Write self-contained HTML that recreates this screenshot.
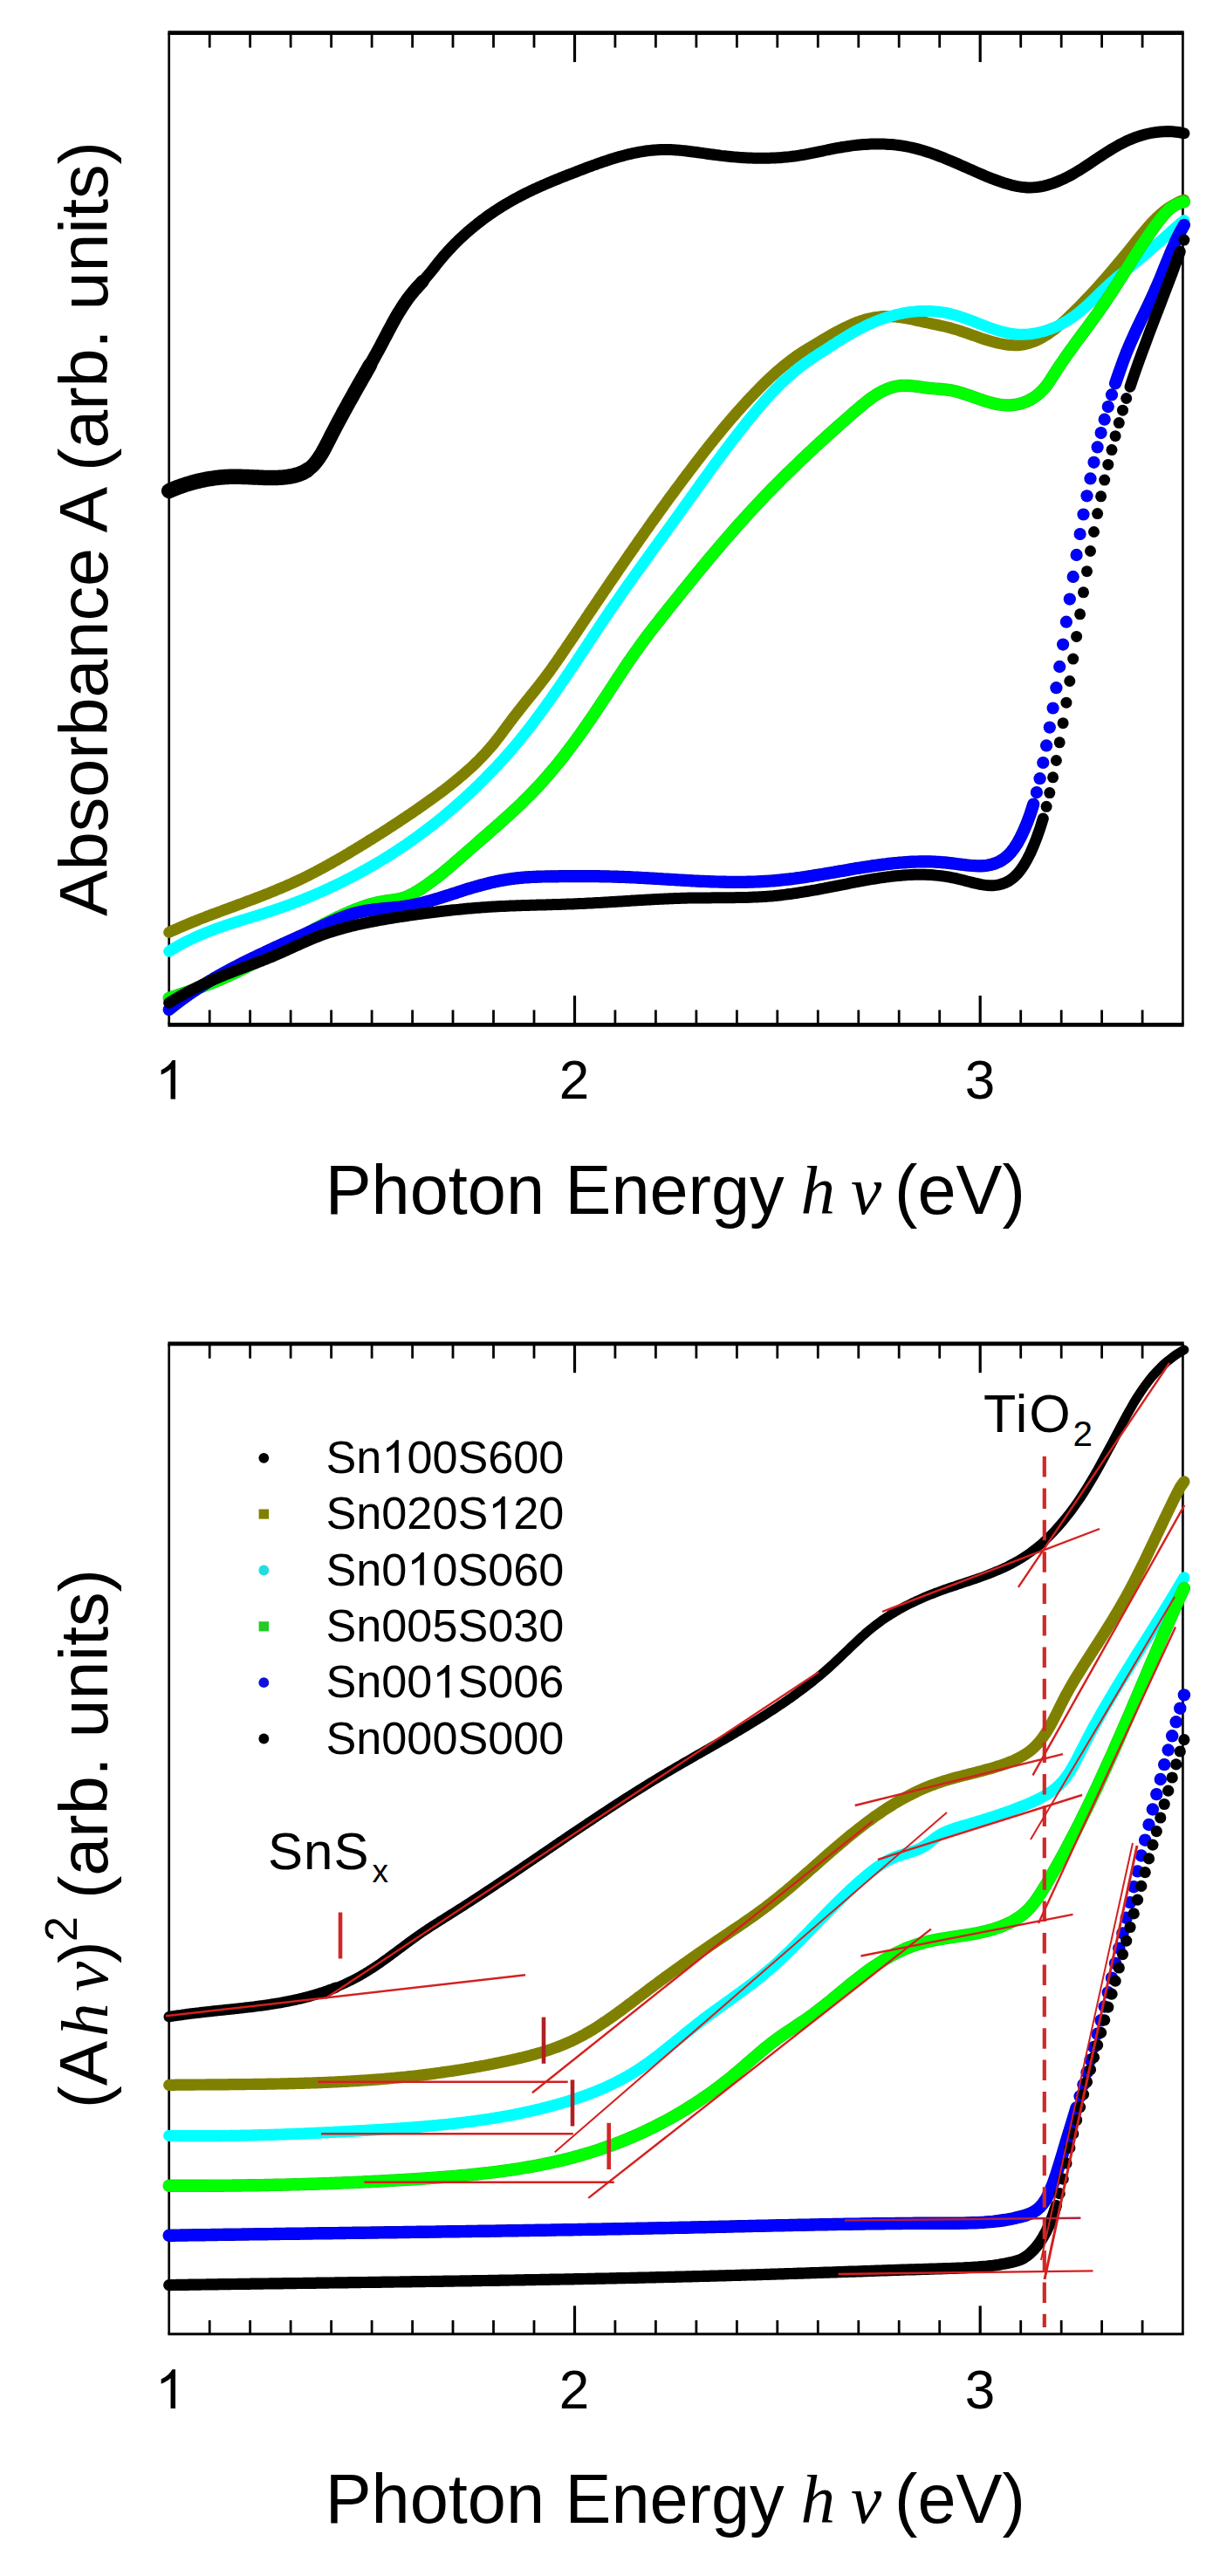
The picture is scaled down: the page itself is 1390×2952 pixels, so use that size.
<!DOCTYPE html>
<html><head><meta charset="utf-8"><style>
html,body{margin:0;padding:0;background:#fff;}
body{width:1390px;height:2952px;overflow:hidden;}
svg{display:block;}
text{font-family:"Liberation Sans",sans-serif;fill:#000;}
.it{font-family:"Liberation Serif",serif;font-style:italic;}
</style></head><body>
<svg width="1390" height="2952" viewBox="0 0 1390 2952" xmlns="http://www.w3.org/2000/svg">
<rect width="1390" height="2952" fill="#fff"/>
<line x1="192.39999999999998" y1="37.7" x2="1356.7" y2="37.7" stroke="#000" stroke-width="4.8"/>
<line x1="192.39999999999998" y1="1174.3" x2="1356.7" y2="1174.3" stroke="#000" stroke-width="4.8"/>
<line x1="193.7" y1="37.7" x2="193.7" y2="1174.3" stroke="#000" stroke-width="2.7"/>
<line x1="1355.4" y1="37.7" x2="1355.4" y2="1174.3" stroke="#000" stroke-width="2.7"/>
<line x1="240.2" y1="37.7" x2="240.2" y2="54.6" stroke="#000" stroke-width="2.8"/>
<line x1="240.2" y1="1174.3" x2="240.2" y2="1157.4" stroke="#000" stroke-width="2.8"/>
<line x1="286.6" y1="37.7" x2="286.6" y2="54.6" stroke="#000" stroke-width="2.8"/>
<line x1="286.6" y1="1174.3" x2="286.6" y2="1157.4" stroke="#000" stroke-width="2.8"/>
<line x1="333.1" y1="37.7" x2="333.1" y2="54.6" stroke="#000" stroke-width="2.8"/>
<line x1="333.1" y1="1174.3" x2="333.1" y2="1157.4" stroke="#000" stroke-width="2.8"/>
<line x1="379.6" y1="37.7" x2="379.6" y2="54.6" stroke="#000" stroke-width="2.8"/>
<line x1="379.6" y1="1174.3" x2="379.6" y2="1157.4" stroke="#000" stroke-width="2.8"/>
<line x1="426.1" y1="37.7" x2="426.1" y2="54.6" stroke="#000" stroke-width="2.8"/>
<line x1="426.1" y1="1174.3" x2="426.1" y2="1157.4" stroke="#000" stroke-width="2.8"/>
<line x1="472.6" y1="37.7" x2="472.6" y2="54.6" stroke="#000" stroke-width="2.8"/>
<line x1="472.6" y1="1174.3" x2="472.6" y2="1157.4" stroke="#000" stroke-width="2.8"/>
<line x1="519.0" y1="37.7" x2="519.0" y2="54.6" stroke="#000" stroke-width="2.8"/>
<line x1="519.0" y1="1174.3" x2="519.0" y2="1157.4" stroke="#000" stroke-width="2.8"/>
<line x1="565.5" y1="37.7" x2="565.5" y2="54.6" stroke="#000" stroke-width="2.8"/>
<line x1="565.5" y1="1174.3" x2="565.5" y2="1157.4" stroke="#000" stroke-width="2.8"/>
<line x1="612.0" y1="37.7" x2="612.0" y2="54.6" stroke="#000" stroke-width="2.8"/>
<line x1="612.0" y1="1174.3" x2="612.0" y2="1157.4" stroke="#000" stroke-width="2.8"/>
<line x1="658.5" y1="37.7" x2="658.5" y2="71.1" stroke="#000" stroke-width="3.2"/>
<line x1="658.5" y1="1174.3" x2="658.5" y2="1140.9" stroke="#000" stroke-width="3.2"/>
<line x1="704.9" y1="37.7" x2="704.9" y2="54.6" stroke="#000" stroke-width="2.8"/>
<line x1="704.9" y1="1174.3" x2="704.9" y2="1157.4" stroke="#000" stroke-width="2.8"/>
<line x1="751.4" y1="37.7" x2="751.4" y2="54.6" stroke="#000" stroke-width="2.8"/>
<line x1="751.4" y1="1174.3" x2="751.4" y2="1157.4" stroke="#000" stroke-width="2.8"/>
<line x1="797.9" y1="37.7" x2="797.9" y2="54.6" stroke="#000" stroke-width="2.8"/>
<line x1="797.9" y1="1174.3" x2="797.9" y2="1157.4" stroke="#000" stroke-width="2.8"/>
<line x1="844.4" y1="37.7" x2="844.4" y2="54.6" stroke="#000" stroke-width="2.8"/>
<line x1="844.4" y1="1174.3" x2="844.4" y2="1157.4" stroke="#000" stroke-width="2.8"/>
<line x1="890.8" y1="37.7" x2="890.8" y2="54.6" stroke="#000" stroke-width="2.8"/>
<line x1="890.8" y1="1174.3" x2="890.8" y2="1157.4" stroke="#000" stroke-width="2.8"/>
<line x1="937.3" y1="37.7" x2="937.3" y2="54.6" stroke="#000" stroke-width="2.8"/>
<line x1="937.3" y1="1174.3" x2="937.3" y2="1157.4" stroke="#000" stroke-width="2.8"/>
<line x1="983.8" y1="37.7" x2="983.8" y2="54.6" stroke="#000" stroke-width="2.8"/>
<line x1="983.8" y1="1174.3" x2="983.8" y2="1157.4" stroke="#000" stroke-width="2.8"/>
<line x1="1030.2" y1="37.7" x2="1030.2" y2="54.6" stroke="#000" stroke-width="2.8"/>
<line x1="1030.2" y1="1174.3" x2="1030.2" y2="1157.4" stroke="#000" stroke-width="2.8"/>
<line x1="1076.7" y1="37.7" x2="1076.7" y2="54.6" stroke="#000" stroke-width="2.8"/>
<line x1="1076.7" y1="1174.3" x2="1076.7" y2="1157.4" stroke="#000" stroke-width="2.8"/>
<line x1="1123.2" y1="37.7" x2="1123.2" y2="71.1" stroke="#000" stroke-width="3.2"/>
<line x1="1123.2" y1="1174.3" x2="1123.2" y2="1140.9" stroke="#000" stroke-width="3.2"/>
<line x1="1169.7" y1="37.7" x2="1169.7" y2="54.6" stroke="#000" stroke-width="2.8"/>
<line x1="1169.7" y1="1174.3" x2="1169.7" y2="1157.4" stroke="#000" stroke-width="2.8"/>
<line x1="1216.2" y1="37.7" x2="1216.2" y2="54.6" stroke="#000" stroke-width="2.8"/>
<line x1="1216.2" y1="1174.3" x2="1216.2" y2="1157.4" stroke="#000" stroke-width="2.8"/>
<line x1="1262.6" y1="37.7" x2="1262.6" y2="54.6" stroke="#000" stroke-width="2.8"/>
<line x1="1262.6" y1="1174.3" x2="1262.6" y2="1157.4" stroke="#000" stroke-width="2.8"/>
<line x1="1309.1" y1="37.7" x2="1309.1" y2="54.6" stroke="#000" stroke-width="2.8"/>
<line x1="1309.1" y1="1174.3" x2="1309.1" y2="1157.4" stroke="#000" stroke-width="2.8"/>
<line x1="192.39999999999998" y1="1539.8" x2="1356.7" y2="1539.8" stroke="#000" stroke-width="4.8"/>
<line x1="192.39999999999998" y1="2674.8" x2="1356.7" y2="2674.8" stroke="#000" stroke-width="2.9"/>
<line x1="193.7" y1="1539.8" x2="193.7" y2="2674.8" stroke="#000" stroke-width="2.7"/>
<line x1="1355.4" y1="1539.8" x2="1355.4" y2="2674.8" stroke="#000" stroke-width="2.7"/>
<line x1="240.2" y1="1539.8" x2="240.2" y2="1556.7" stroke="#000" stroke-width="2.8"/>
<line x1="240.2" y1="2674.8" x2="240.2" y2="2658.9" stroke="#000" stroke-width="2.8"/>
<line x1="286.6" y1="1539.8" x2="286.6" y2="1556.7" stroke="#000" stroke-width="2.8"/>
<line x1="286.6" y1="2674.8" x2="286.6" y2="2658.9" stroke="#000" stroke-width="2.8"/>
<line x1="333.1" y1="1539.8" x2="333.1" y2="1556.7" stroke="#000" stroke-width="2.8"/>
<line x1="333.1" y1="2674.8" x2="333.1" y2="2658.9" stroke="#000" stroke-width="2.8"/>
<line x1="379.6" y1="1539.8" x2="379.6" y2="1556.7" stroke="#000" stroke-width="2.8"/>
<line x1="379.6" y1="2674.8" x2="379.6" y2="2658.9" stroke="#000" stroke-width="2.8"/>
<line x1="426.1" y1="1539.8" x2="426.1" y2="1556.7" stroke="#000" stroke-width="2.8"/>
<line x1="426.1" y1="2674.8" x2="426.1" y2="2658.9" stroke="#000" stroke-width="2.8"/>
<line x1="472.6" y1="1539.8" x2="472.6" y2="1556.7" stroke="#000" stroke-width="2.8"/>
<line x1="472.6" y1="2674.8" x2="472.6" y2="2658.9" stroke="#000" stroke-width="2.8"/>
<line x1="519.0" y1="1539.8" x2="519.0" y2="1556.7" stroke="#000" stroke-width="2.8"/>
<line x1="519.0" y1="2674.8" x2="519.0" y2="2658.9" stroke="#000" stroke-width="2.8"/>
<line x1="565.5" y1="1539.8" x2="565.5" y2="1556.7" stroke="#000" stroke-width="2.8"/>
<line x1="565.5" y1="2674.8" x2="565.5" y2="2658.9" stroke="#000" stroke-width="2.8"/>
<line x1="612.0" y1="1539.8" x2="612.0" y2="1556.7" stroke="#000" stroke-width="2.8"/>
<line x1="612.0" y1="2674.8" x2="612.0" y2="2658.9" stroke="#000" stroke-width="2.8"/>
<line x1="658.5" y1="1539.8" x2="658.5" y2="1573.2" stroke="#000" stroke-width="3.2"/>
<line x1="658.5" y1="2674.8" x2="658.5" y2="2642.4" stroke="#000" stroke-width="3.2"/>
<line x1="704.9" y1="1539.8" x2="704.9" y2="1556.7" stroke="#000" stroke-width="2.8"/>
<line x1="704.9" y1="2674.8" x2="704.9" y2="2658.9" stroke="#000" stroke-width="2.8"/>
<line x1="751.4" y1="1539.8" x2="751.4" y2="1556.7" stroke="#000" stroke-width="2.8"/>
<line x1="751.4" y1="2674.8" x2="751.4" y2="2658.9" stroke="#000" stroke-width="2.8"/>
<line x1="797.9" y1="1539.8" x2="797.9" y2="1556.7" stroke="#000" stroke-width="2.8"/>
<line x1="797.9" y1="2674.8" x2="797.9" y2="2658.9" stroke="#000" stroke-width="2.8"/>
<line x1="844.4" y1="1539.8" x2="844.4" y2="1556.7" stroke="#000" stroke-width="2.8"/>
<line x1="844.4" y1="2674.8" x2="844.4" y2="2658.9" stroke="#000" stroke-width="2.8"/>
<line x1="890.8" y1="1539.8" x2="890.8" y2="1556.7" stroke="#000" stroke-width="2.8"/>
<line x1="890.8" y1="2674.8" x2="890.8" y2="2658.9" stroke="#000" stroke-width="2.8"/>
<line x1="937.3" y1="1539.8" x2="937.3" y2="1556.7" stroke="#000" stroke-width="2.8"/>
<line x1="937.3" y1="2674.8" x2="937.3" y2="2658.9" stroke="#000" stroke-width="2.8"/>
<line x1="983.8" y1="1539.8" x2="983.8" y2="1556.7" stroke="#000" stroke-width="2.8"/>
<line x1="983.8" y1="2674.8" x2="983.8" y2="2658.9" stroke="#000" stroke-width="2.8"/>
<line x1="1030.2" y1="1539.8" x2="1030.2" y2="1556.7" stroke="#000" stroke-width="2.8"/>
<line x1="1030.2" y1="2674.8" x2="1030.2" y2="2658.9" stroke="#000" stroke-width="2.8"/>
<line x1="1076.7" y1="1539.8" x2="1076.7" y2="1556.7" stroke="#000" stroke-width="2.8"/>
<line x1="1076.7" y1="2674.8" x2="1076.7" y2="2658.9" stroke="#000" stroke-width="2.8"/>
<line x1="1123.2" y1="1539.8" x2="1123.2" y2="1573.2" stroke="#000" stroke-width="3.2"/>
<line x1="1123.2" y1="2674.8" x2="1123.2" y2="2642.4" stroke="#000" stroke-width="3.2"/>
<line x1="1169.7" y1="1539.8" x2="1169.7" y2="1556.7" stroke="#000" stroke-width="2.8"/>
<line x1="1169.7" y1="2674.8" x2="1169.7" y2="2658.9" stroke="#000" stroke-width="2.8"/>
<line x1="1216.2" y1="1539.8" x2="1216.2" y2="1556.7" stroke="#000" stroke-width="2.8"/>
<line x1="1216.2" y1="2674.8" x2="1216.2" y2="2658.9" stroke="#000" stroke-width="2.8"/>
<line x1="1262.6" y1="1539.8" x2="1262.6" y2="1556.7" stroke="#000" stroke-width="2.8"/>
<line x1="1262.6" y1="2674.8" x2="1262.6" y2="2658.9" stroke="#000" stroke-width="2.8"/>
<line x1="1309.1" y1="1539.8" x2="1309.1" y2="1556.7" stroke="#000" stroke-width="2.8"/>
<line x1="1309.1" y1="2674.8" x2="1309.1" y2="2658.9" stroke="#000" stroke-width="2.8"/>
<polyline points="193.7,562.6 195.2,561.9 196.7,561.3 198.2,560.6 199.8,560.0 201.3,559.4 202.9,558.8 204.4,558.2 206.0,557.6 207.6,557.1 209.2,556.5 210.4,556.1 211.6,555.7 212.8,555.3 214.0,554.9 215.3,554.5 216.5,554.2 217.7,553.8 219.0,553.4 220.2,553.1 221.5,552.7 222.8,552.4 224.0,552.1 225.3,551.7 226.6,551.4 227.9,551.1 229.2,550.8 230.5,550.5 231.8,550.2 233.1,550.0 234.5,549.7 235.8,549.4 237.1,549.2 238.5,548.9 239.8,548.7 241.2,548.5 242.6,548.3 244.0,548.1 245.3,547.9 246.7,547.7 248.1,547.5 249.5,547.3 251.0,547.2 252.4,547.0 253.8,546.9 255.2,546.8 256.7,546.7 258.1,546.6 259.6,546.5 261.1,546.4 262.6,546.3 264.0,546.3 265.5,546.3 267.0,546.2 268.5,546.2 270.1,546.2 271.6,546.2 273.1,546.2 274.7,546.3 276.2,546.3 277.8,546.4 279.4,546.4 281.0,546.5 282.5,546.5 284.1,546.6 285.8,546.7 287.4,546.7 289.0,546.8 290.6,546.9 292.3,547.0 293.9,547.1 295.6,547.1 297.3,547.2 299.0,547.3 300.7,547.3 302.4,547.4 304.1,547.4 305.8,547.5 307.6,547.5 309.3,547.5 311.1,547.5 312.8,547.5 314.6,547.5 316.4,547.5 317.6,547.4 318.8,547.4 320.0,547.3 321.2,547.3 322.5,547.2 323.7,547.1 324.9,547.0 326.1,546.9 327.4,546.7 328.6,546.6 329.9,546.4 331.1,546.2 332.4,546.0 333.7,545.8 334.9,545.5 336.2,545.2 337.5,544.9 338.8,544.6 340.1,544.2 341.4,543.8 342.7,543.4 344.0,542.9 345.3,542.3 346.6,541.7 348.0,541.1 349.3,540.4 350.6,539.6 352.0,538.8 353.3,537.8 354.7,536.8 356.0,535.7 357.4,534.5 358.8,533.1 360.2,531.6 361.5,530.0 362.9,528.2 364.3,526.4 365.7,524.3 367.1,522.2 368.6,519.9 370.0,517.4 371.4,514.9 372.8,512.2 374.3,509.4 375.7,506.6 377.2,503.7 378.7,500.8 380.1,497.9 381.6,495.1 383.1,492.2 384.6,489.4 386.1,486.5 387.6,483.7 389.1,480.9 390.6,478.1 392.1,475.3 393.6,472.4 395.2,469.6 396.7,466.8 398.3,464.0 399.8,461.2 401.4,458.4 403.0,455.6 404.6,452.7 406.1,449.9 407.7,447.1 409.3,444.2 410.9,441.4 412.6,438.5 414.2,435.7 415.8,432.8 417.5,429.9 419.1,427.0 420.8,424.1 422.4,421.2 424.1,418.2 425.8,415.2 427.5,412.2 429.2,409.1 430.9,406.1 432.6,402.9 434.3,399.8 436.1,396.6 437.8,393.3 439.5,390.0 441.3,386.7 443.1,383.3 444.8,379.9 446.6,376.6 448.4,373.2 450.2,369.9 452.0,366.6 453.8,363.4 455.7,360.2 457.5,357.2 459.4,354.2 461.2,351.3 463.1,348.4 465.0,345.7 466.8,343.0 468.7,340.5 470.6,338.0 472.6,335.6 474.5,333.3 476.4,331.1 478.4,328.9 480.3,326.8 482.3,324.7 484.2,322.5 486.2,320.4 488.2,318.1 490.2,315.8 492.2,313.4 494.3,310.9 496.3,308.3 498.4,305.7 500.4,303.0 502.5,300.4 504.6,297.9 506.7,295.3 508.8,292.9 510.9,290.5 513.0,288.1 515.2,285.8 517.3,283.5 519.5,281.2 521.6,279.0 523.8,276.9 526.0,274.7 528.2,272.6 530.5,270.6 532.7,268.5 534.9,266.5 537.2,264.6 539.5,262.6 541.8,260.7 544.1,258.8 546.4,257.0 548.7,255.1 551.0,253.3 553.4,251.5 555.8,249.8 558.1,248.1 560.5,246.4 561.7,245.5 562.9,244.7 564.2,243.9 565.4,243.0 566.6,242.2 567.8,241.4 569.0,240.6 570.2,239.8 571.5,239.0 572.7,238.2 574.0,237.4 575.2,236.7 576.4,235.9 577.7,235.1 578.9,234.4 580.2,233.6 581.5,232.9 582.7,232.1 584.0,231.4 585.3,230.7 586.5,229.9 587.8,229.2 589.1,228.5 590.4,227.8 591.7,227.1 593.0,226.4 594.3,225.7 595.6,225.0 596.9,224.3 598.2,223.7 599.5,223.0 600.8,222.3 602.1,221.7 603.4,221.0 604.8,220.4 606.1,219.7 607.4,219.1 608.8,218.4 610.1,217.8 611.5,217.1 612.8,216.5 614.2,215.9 615.5,215.3 616.9,214.6 618.3,214.0 619.7,213.4 621.0,212.8 622.4,212.2 623.8,211.6 625.2,211.0 626.6,210.4 628.0,209.8 629.4,209.2 630.8,208.6 632.2,208.0 633.6,207.4 635.1,206.8 636.5,206.2 637.9,205.7 639.4,205.1 640.8,204.5 642.2,203.9 643.7,203.3 645.2,202.7 646.6,202.2 648.1,201.6 649.5,201.0 651.0,200.4 652.5,199.9 654.0,199.3 655.5,198.7 657.0,198.1 658.5,197.6 660.0,197.0 661.5,196.4 663.0,195.8 664.5,195.2 666.0,194.7 667.5,194.1 669.1,193.5 670.6,192.9 672.1,192.3 673.7,191.7 675.2,191.2 676.8,190.6 678.4,190.0 679.9,189.4 681.5,188.9 683.1,188.3 684.7,187.7 686.2,187.2 687.8,186.6 689.4,186.0 691.0,185.5 692.6,184.9 694.3,184.4 695.9,183.9 697.5,183.3 699.1,182.8 700.8,182.3 702.4,181.8 704.1,181.3 705.7,180.8 707.4,180.3 709.0,179.8 710.7,179.3 712.4,178.9 714.1,178.4 715.7,178.0 717.4,177.5 719.1,177.1 720.8,176.7 722.6,176.3 724.3,175.9 726.0,175.5 727.7,175.2 729.5,174.8 731.2,174.5 732.9,174.2 734.7,173.9 736.5,173.6 738.2,173.3 740.0,173.0 741.8,172.8 743.5,172.6 745.3,172.4 747.1,172.2 748.9,172.0 750.7,171.9 752.6,171.8 754.4,171.7 756.2,171.6 758.0,171.5 759.9,171.5 761.7,171.4 763.6,171.4 765.4,171.5 767.3,171.5 769.2,171.6 771.1,171.7 773.0,171.8 774.8,171.9 776.8,172.1 778.7,172.2 780.6,172.4 782.5,172.6 784.4,172.8 786.4,173.0 788.3,173.2 790.3,173.5 792.2,173.7 794.2,174.0 796.2,174.2 798.1,174.5 800.1,174.8 802.1,175.1 804.1,175.3 806.1,175.6 808.1,175.9 810.2,176.2 812.2,176.5 814.2,176.8 816.3,177.0 818.3,177.3 820.4,177.6 822.5,177.8 824.6,178.1 826.6,178.4 828.7,178.6 830.8,178.8 833.0,179.1 835.1,179.3 837.2,179.5 839.3,179.7 841.5,179.9 843.6,180.1 845.8,180.2 848.0,180.4 850.1,180.5 852.3,180.7 854.5,180.8 856.7,180.9 858.9,181.0 861.2,181.1 863.4,181.2 865.6,181.2 867.9,181.3 870.1,181.3 872.4,181.3 874.7,181.3 876.9,181.3 879.2,181.3 881.5,181.2 883.8,181.1 886.2,181.0 888.5,180.9 890.8,180.8 893.2,180.7 895.5,180.5 897.9,180.3 900.3,180.1 902.7,179.9 905.1,179.6 907.5,179.3 909.9,179.0 912.3,178.7 914.7,178.3 917.2,177.9 919.6,177.5 922.1,177.1 924.6,176.6 927.1,176.2 929.6,175.7 932.1,175.2 934.6,174.7 937.1,174.1 939.6,173.6 942.2,173.1 944.8,172.5 947.3,172.0 949.9,171.5 952.5,170.9 955.1,170.4 957.7,169.9 960.3,169.4 963.0,169.0 965.6,168.5 968.3,168.1 971.0,167.7 973.6,167.3 976.3,166.9 979.0,166.6 981.8,166.3 984.5,166.0 987.2,165.8 990.0,165.6 992.7,165.4 995.5,165.2 998.3,165.1 1001.1,165.0 1003.9,165.0 1006.8,165.0 1009.6,165.0 1012.4,165.1 1015.3,165.2 1018.2,165.4 1021.1,165.6 1024.0,165.8 1026.9,166.1 1029.8,166.5 1032.8,166.9 1035.7,167.4 1038.7,167.9 1041.7,168.5 1044.7,169.1 1047.7,169.8 1050.7,170.6 1053.8,171.4 1056.8,172.3 1059.9,173.2 1063.0,174.2 1066.0,175.2 1069.2,176.3 1072.3,177.4 1075.4,178.6 1078.6,179.8 1081.7,181.1 1084.9,182.4 1088.1,183.7 1091.3,185.0 1094.6,186.4 1097.8,187.8 1101.1,189.3 1104.3,190.7 1107.6,192.2 1110.9,193.7 1114.3,195.1 1117.6,196.6 1121.0,198.1 1124.3,199.5 1127.7,201.0 1131.1,202.4 1134.5,203.8 1138.0,205.1 1141.4,206.4 1144.9,207.7 1148.4,208.9 1151.9,210.1 1155.4,211.1 1159.0,212.1 1162.5,212.9 1166.1,213.6 1169.7,214.2 1173.3,214.6 1176.9,214.9 1180.6,215.0 1184.2,214.8 1187.9,214.5 1191.6,214.0 1195.3,213.3 1199.1,212.4 1202.8,211.3 1206.6,210.1 1210.4,208.7 1214.2,207.1 1218.1,205.4 1221.9,203.5 1225.8,201.5 1229.7,199.3 1233.6,197.0 1237.6,194.6 1241.5,192.1 1245.5,189.5 1249.5,186.8 1253.5,184.1 1257.6,181.4 1261.6,178.8 1265.7,176.1 1269.8,173.5 1274.0,170.9 1278.1,168.5 1282.3,166.1 1286.5,163.9 1290.7,161.8 1295.0,159.9 1299.2,158.2 1303.5,156.6 1307.8,155.2 1312.2,154.0 1316.5,153.0 1320.9,152.1 1325.3,151.5 1329.8,151.0 1334.2,150.7 1338.7,150.6 1343.2,150.8 1347.7,151.2 1352.3,151.8 1356.9,152.8" fill="none" stroke="#000000" stroke-width="13.0" stroke-linecap="round" stroke-linejoin="round"/>
<polyline points="193.7,562.6 195.2,561.9 196.7,561.3 198.2,560.6 199.8,560.0 201.3,559.4 202.9,558.8 204.4,558.2 206.0,557.6 207.6,557.1 209.2,556.5 210.4,556.1 211.6,555.7 212.8,555.3 214.0,554.9 215.3,554.5 216.5,554.2 217.7,553.8 219.0,553.4 220.2,553.1 221.5,552.7 222.8,552.4 224.0,552.1 225.3,551.7 226.6,551.4 227.9,551.1 229.2,550.8 230.5,550.5 231.8,550.2 233.1,550.0 234.5,549.7 235.8,549.4 237.1,549.2 238.5,548.9 239.8,548.7 241.2,548.5 242.6,548.3 244.0,548.1 245.3,547.9 246.7,547.7 248.1,547.5 249.5,547.3 251.0,547.2 252.4,547.0 253.8,546.9 255.2,546.8 256.7,546.7 258.1,546.6 259.6,546.5 261.1,546.4 262.6,546.3 264.0,546.3 265.5,546.3 267.0,546.2 268.5,546.2 270.1,546.2 271.6,546.2 273.1,546.2 274.7,546.3 276.2,546.3 277.8,546.4 279.4,546.4 281.0,546.5 282.5,546.5 284.1,546.6 285.8,546.7 287.4,546.7 289.0,546.8 290.6,546.9 292.3,547.0 293.9,547.1 295.6,547.1 297.3,547.2 299.0,547.3 300.7,547.3 302.4,547.4 304.1,547.4 305.8,547.5 307.6,547.5 309.3,547.5 311.1,547.5 312.8,547.5 314.6,547.5 316.4,547.5 317.6,547.4 318.8,547.4 320.0,547.3 321.2,547.3 322.5,547.2 323.7,547.1 324.9,547.0 326.1,546.9 327.4,546.7 328.6,546.6 329.9,546.4 331.1,546.2 332.4,546.0 333.7,545.8 334.9,545.5 336.2,545.2 337.5,544.9 338.8,544.6 340.1,544.2 341.4,543.8 342.7,543.4 344.0,542.9 345.3,542.3 346.6,541.7 348.0,541.1 349.3,540.4 350.6,539.6 352.0,538.8" fill="none" stroke="#000000" stroke-width="17.5" stroke-linecap="round" stroke-linejoin="round"/>
<polyline points="353.3,537.8 354.7,536.8 356.0,535.7 357.4,534.5 358.8,533.1 360.2,531.6 361.5,530.0 362.9,528.2 364.3,526.4 365.7,524.3 367.1,522.2 368.6,519.9 370.0,517.4 371.4,514.9 372.8,512.2 374.3,509.4 375.7,506.6 377.2,503.7 378.7,500.8 380.1,497.9 381.6,495.1 383.1,492.2 384.6,489.4 386.1,486.5 387.6,483.7 389.1,480.9 390.6,478.1 392.1,475.3 393.6,472.4 395.2,469.6 396.7,466.8 398.3,464.0 399.8,461.2 401.4,458.4 403.0,455.6 404.6,452.7 406.1,449.9 407.7,447.1 409.3,444.2 410.9,441.4 412.6,438.5 414.2,435.7 415.8,432.8 417.5,429.9 419.1,427.0 420.8,424.1 422.4,421.2 424.1,418.2" fill="none" stroke="#000000" stroke-width="16.5" stroke-linecap="round" stroke-linejoin="round"/>
<polyline points="425.8,415.2 427.5,412.2 429.2,409.1 430.9,406.1 432.6,402.9 434.3,399.8 436.1,396.6 437.8,393.3 439.5,390.0 441.3,386.7 443.1,383.3 444.8,379.9 446.6,376.6 448.4,373.2 450.2,369.9 452.0,366.6 453.8,363.4 455.7,360.2 457.5,357.2 459.4,354.2 461.2,351.3 463.1,348.4 465.0,345.7 466.8,343.0 468.7,340.5 470.6,338.0 472.6,335.6 474.5,333.3 476.4,331.1 478.4,328.9 480.3,326.8 482.3,324.7 484.2,322.5" fill="none" stroke="#000000" stroke-width="15" stroke-linecap="round" stroke-linejoin="round"/>
<polyline points="193.7,1068.4 195.2,1067.7 196.7,1067.0 198.2,1066.4 199.8,1065.7 201.3,1065.0 202.9,1064.3 204.4,1063.6 206.0,1062.9 207.6,1062.2 209.2,1061.5 210.4,1061.0 211.6,1060.5 212.8,1060.0 214.0,1059.5 215.3,1059.0 216.5,1058.4 217.7,1057.9 219.0,1057.4 220.2,1056.9 221.5,1056.4 222.8,1055.9 224.0,1055.4 225.3,1054.9 226.6,1054.4 227.9,1053.8 229.2,1053.3 230.5,1052.8 231.8,1052.3 233.1,1051.8 234.5,1051.3 235.8,1050.8 237.1,1050.2 238.5,1049.7 239.8,1049.2 241.2,1048.7 242.6,1048.2 244.0,1047.7 245.3,1047.1 246.7,1046.6 248.1,1046.1 249.5,1045.6 251.0,1045.0 252.4,1044.5 253.8,1044.0 255.2,1043.4 256.7,1042.9 258.1,1042.4 259.6,1041.8 261.1,1041.3 262.6,1040.7 264.0,1040.2 265.5,1039.6 267.0,1039.1 268.5,1038.5 270.1,1038.0 271.6,1037.4 273.1,1036.8 274.7,1036.3 276.2,1035.7 277.8,1035.1 279.4,1034.5 281.0,1033.9 282.5,1033.3 284.1,1032.7 285.8,1032.1 287.4,1031.5 289.0,1030.9 290.6,1030.3 292.3,1029.7 293.9,1029.0 295.6,1028.4 297.3,1027.7 299.0,1027.1 300.7,1026.4 302.4,1025.8 304.1,1025.1 305.8,1024.4 307.6,1023.7 309.3,1023.0 311.1,1022.3 312.8,1021.6 314.6,1020.9 316.4,1020.1 317.6,1019.6 318.8,1019.1 320.0,1018.6 321.2,1018.1 322.5,1017.6 323.7,1017.1 324.9,1016.6 326.1,1016.0 327.4,1015.5 328.6,1014.9 329.9,1014.4 331.1,1013.8 332.4,1013.3 333.7,1012.7 334.9,1012.1 336.2,1011.5 337.5,1010.9 338.8,1010.4 340.1,1009.7 341.4,1009.1 342.7,1008.5 344.0,1007.9 345.3,1007.3 346.6,1006.6 348.0,1006.0 349.3,1005.3 350.6,1004.7 352.0,1004.0 353.3,1003.3 354.7,1002.6 356.0,1001.9 357.4,1001.2 358.8,1000.5 360.2,999.8 361.5,999.1 362.9,998.3 364.3,997.6 365.7,996.9 367.1,996.1 368.6,995.3 370.0,994.6 371.4,993.8 372.8,993.0 374.3,992.2 375.7,991.4 377.2,990.6 378.7,989.8 380.1,989.0 381.6,988.1 383.1,987.3 384.6,986.4 386.1,985.6 387.6,984.7 389.1,983.8 390.6,983.0 392.1,982.1 393.6,981.2 395.2,980.3 396.7,979.4 398.3,978.4 399.8,977.5 401.4,976.6 403.0,975.6 404.6,974.7 406.1,973.7 407.7,972.8 409.3,971.8 410.9,970.8 412.6,969.8 414.2,968.8 415.8,967.8 417.5,966.8 419.1,965.8 420.8,964.8 422.4,963.7 424.1,962.7 425.8,961.7 427.5,960.6 429.2,959.5 430.9,958.5 432.6,957.4 434.3,956.3 436.1,955.2 437.8,954.1 439.5,953.0 441.3,951.8 443.1,950.7 444.8,949.6 446.6,948.4 448.4,947.2 450.2,946.1 452.0,944.9 453.8,943.7 455.7,942.5 457.5,941.3 459.4,940.1 461.2,938.8 463.1,937.6 465.0,936.3 466.8,935.0 468.7,933.8 470.6,932.5 472.6,931.2 474.5,929.8 476.4,928.5 478.4,927.2 480.3,925.8 482.3,924.4 484.2,923.1 486.2,921.7 488.2,920.3 490.2,918.8 492.2,917.4 494.3,915.9 496.3,914.5 498.4,913.0 500.4,911.5 502.5,910.0 504.6,908.4 506.7,906.9 508.8,905.3 510.9,903.7 513.0,902.0 515.2,900.4 517.3,898.7 519.5,897.0 521.6,895.2 523.8,893.4 526.0,891.6 528.2,889.7 530.5,887.9 532.7,885.9 534.9,883.9 537.2,881.9 539.5,879.9 541.8,877.7 544.1,875.5 546.4,873.3 548.7,871.0 551.0,868.6 553.4,866.2 555.8,863.6 558.1,861.0 560.5,858.3 561.7,856.9 562.9,855.5 564.2,854.1 565.4,852.6 566.6,851.1 567.8,849.6 569.0,848.0 570.2,846.5 571.5,844.9 572.7,843.3 574.0,841.6 575.2,840.0 576.4,838.3 577.7,836.6 578.9,834.9 580.2,833.2 581.5,831.5 582.7,829.8 584.0,828.1 585.3,826.4 586.5,824.7 587.8,823.0 589.1,821.3 590.4,819.6 591.7,818.0 593.0,816.3 594.3,814.7 595.6,813.0 596.9,811.4 598.2,809.7 599.5,808.1 600.8,806.4 602.1,804.8 603.4,803.1 604.8,801.5 606.1,799.9 607.4,798.2 608.8,796.5 610.1,794.9 611.5,793.2 612.8,791.5 614.2,789.8 615.5,788.1 616.9,786.3 618.3,784.6 619.7,782.8 621.0,781.0 622.4,779.2 623.8,777.4 625.2,775.6 626.6,773.7 628.0,771.8 629.4,769.9 630.8,767.9 632.2,766.0 633.6,764.0 635.1,762.0 636.5,759.9 637.9,757.9 639.4,755.8 640.8,753.7 642.2,751.7 643.7,749.5 645.2,747.4 646.6,745.3 648.1,743.1 649.5,740.9 651.0,738.8 652.5,736.6 654.0,734.4 655.5,732.2 657.0,730.0 658.5,727.7 660.0,725.5 661.5,723.3 663.0,721.0 664.5,718.8 666.0,716.5 667.5,714.2 669.1,712.0 670.6,709.7 672.1,707.4 673.7,705.1 675.2,702.8 676.8,700.5 678.4,698.2 679.9,695.9 681.5,693.6 683.1,691.2 684.7,688.9 686.2,686.5 687.8,684.2 689.4,681.8 691.0,679.5 692.6,677.1 694.3,674.7 695.9,672.3 697.5,669.9 699.1,667.5 700.8,665.1 702.4,662.7 704.1,660.3 705.7,657.9 707.4,655.5 709.0,653.0 710.7,650.6 712.4,648.2 714.1,645.7 715.7,643.3 717.4,640.8 719.1,638.4 720.8,635.9 722.6,633.4 724.3,631.0 726.0,628.5 727.7,626.0 729.5,623.5 731.2,621.0 732.9,618.5 734.7,616.0 736.5,613.5 738.2,611.0 740.0,608.5 741.8,606.0 743.5,603.5 745.3,600.9 747.1,598.4 748.9,595.9 750.7,593.4 752.6,590.8 754.4,588.3 756.2,585.7 758.0,583.2 759.9,580.7 761.7,578.1 763.6,575.6 765.4,573.0 767.3,570.4 769.2,567.9 771.1,565.3 773.0,562.8 774.8,560.2 776.8,557.6 778.7,555.1 780.6,552.5 782.5,549.9 784.4,547.4 786.4,544.8 788.3,542.2 790.3,539.6 792.2,537.1 794.2,534.5 796.2,531.9 798.1,529.3 800.1,526.8 802.1,524.2 804.1,521.6 806.1,519.0 808.1,516.5 810.2,513.9 812.2,511.3 814.2,508.8 816.3,506.2 818.3,503.6 820.4,501.1 822.5,498.5 824.6,496.0 826.6,493.5 828.7,490.9 830.8,488.4 833.0,485.9 835.1,483.4 837.2,480.9 839.3,478.4 841.5,476.0 843.6,473.5 845.8,471.0 848.0,468.6 850.1,466.2 852.3,463.8 854.5,461.4 856.7,459.0 858.9,456.6 861.2,454.2 863.4,451.9 865.6,449.6 867.9,447.3 870.1,445.0 872.4,442.7 874.7,440.4 876.9,438.2 879.2,436.0 881.5,433.8 883.8,431.6 886.2,429.5 888.5,427.4 890.8,425.3 893.2,423.3 895.5,421.3 897.9,419.3 900.3,417.4 902.7,415.5 905.1,413.6 907.5,411.8 909.9,410.1 912.3,408.3 914.7,406.6 917.2,405.0 919.6,403.4 922.1,401.8 924.6,400.3 927.1,398.7 929.6,397.2 932.1,395.7 934.6,394.2 937.1,392.7 939.6,391.2 942.2,389.7 944.8,388.2 947.3,386.6 949.9,385.2 952.5,383.7 955.1,382.2 957.7,380.8 960.3,379.4 963.0,378.0 965.6,376.6 968.3,375.3 971.0,374.0 973.6,372.8 976.3,371.6 979.0,370.5 981.8,369.4 984.5,368.4 987.2,367.5 990.0,366.6 992.7,365.8 995.5,365.1 998.3,364.5 1001.1,363.9 1003.9,363.4 1006.8,363.1 1009.6,362.8 1012.4,362.6 1015.3,362.5 1018.2,362.6 1021.1,362.7 1024.0,362.9 1026.9,363.1 1029.8,363.5 1032.8,363.9 1035.7,364.4 1038.7,364.9 1041.7,365.4 1044.7,366.0 1047.7,366.6 1050.7,367.3 1053.8,368.0 1056.8,368.6 1059.9,369.3 1063.0,370.0 1066.0,370.6 1069.2,371.3 1072.3,371.9 1075.4,372.6 1078.6,373.3 1081.7,374.0 1084.9,374.8 1088.1,375.6 1091.3,376.5 1094.6,377.4 1097.8,378.4 1101.1,379.5 1104.3,380.6 1107.6,381.7 1110.9,382.9 1114.3,384.1 1117.6,385.2 1121.0,386.4 1124.3,387.6 1127.7,388.7 1131.1,389.8 1134.5,390.8 1138.0,391.7 1141.4,392.6 1144.9,393.5 1148.4,394.2 1151.9,394.8 1155.4,395.3 1159.0,395.6 1162.5,395.7 1166.1,395.7 1169.7,395.4 1173.3,394.8 1176.9,394.0 1180.6,393.0 1184.2,391.7 1187.9,390.2 1191.6,388.4 1195.3,386.3 1199.1,384.0 1202.8,381.5 1206.6,378.8 1210.4,375.8 1214.2,372.6 1218.1,369.2 1221.9,365.7 1225.8,362.0 1229.7,358.2 1233.6,354.3 1237.6,350.4 1241.5,346.3 1245.5,342.1 1249.5,337.9 1253.5,333.5 1257.6,329.1 1261.6,324.6 1265.7,319.9 1269.8,315.2 1274.0,310.4 1278.1,305.5 1282.3,300.5 1286.5,295.4 1290.7,290.3 1295.0,285.0 1299.2,279.7 1303.5,274.4 1307.8,269.1 1312.2,263.8 1316.5,258.8 1320.9,254.0 1325.3,249.6 1329.8,245.5 1334.2,241.8 1338.7,238.5 1343.2,235.6 1347.7,233.1 1352.3,230.9 1356.9,229.1" fill="none" stroke="#808000" stroke-width="13.0" stroke-linecap="round" stroke-linejoin="round"/>
<polyline points="193.7,1090.2 195.2,1089.3 196.7,1088.3 198.2,1087.4 199.8,1086.5 201.3,1085.6 202.9,1084.7 204.4,1083.8 206.0,1082.9 207.6,1082.0 209.2,1081.2 210.4,1080.6 211.6,1079.9 212.8,1079.3 214.0,1078.7 215.3,1078.1 216.5,1077.5 217.7,1076.9 219.0,1076.3 220.2,1075.7 221.5,1075.1 222.8,1074.5 224.0,1073.9 225.3,1073.3 226.6,1072.8 227.9,1072.2 229.2,1071.6 230.5,1071.1 231.8,1070.5 233.1,1070.0 234.5,1069.4 235.8,1068.9 237.1,1068.3 238.5,1067.8 239.8,1067.3 241.2,1066.8 242.6,1066.2 244.0,1065.7 245.3,1065.2 246.7,1064.7 248.1,1064.2 249.5,1063.7 251.0,1063.2 252.4,1062.7 253.8,1062.2 255.2,1061.7 256.7,1061.2 258.1,1060.7 259.6,1060.2 261.1,1059.7 262.6,1059.2 264.0,1058.7 265.5,1058.2 267.0,1057.8 268.5,1057.3 270.1,1056.8 271.6,1056.3 273.1,1055.8 274.7,1055.3 276.2,1054.8 277.8,1054.4 279.4,1053.9 281.0,1053.4 282.5,1052.9 284.1,1052.4 285.8,1051.9 287.4,1051.4 289.0,1050.9 290.6,1050.4 292.3,1049.9 293.9,1049.4 295.6,1048.9 297.3,1048.3 299.0,1047.8 300.7,1047.3 302.4,1046.7 304.1,1046.2 305.8,1045.6 307.6,1045.1 309.3,1044.5 311.1,1043.9 312.8,1043.3 314.6,1042.7 316.4,1042.1 317.6,1041.7 318.8,1041.3 320.0,1040.9 321.2,1040.5 322.5,1040.1 323.7,1039.6 324.9,1039.2 326.1,1038.7 327.4,1038.3 328.6,1037.8 329.9,1037.4 331.1,1036.9 332.4,1036.5 333.7,1036.0 334.9,1035.5 336.2,1035.0 337.5,1034.5 338.8,1034.1 340.1,1033.6 341.4,1033.1 342.7,1032.5 344.0,1032.0 345.3,1031.5 346.6,1031.0 348.0,1030.5 349.3,1029.9 350.6,1029.4 352.0,1028.8 353.3,1028.3 354.7,1027.7 356.0,1027.1 357.4,1026.6 358.8,1026.0 360.2,1025.4 361.5,1024.8 362.9,1024.2 364.3,1023.6 365.7,1023.0 367.1,1022.4 368.6,1021.7 370.0,1021.1 371.4,1020.5 372.8,1019.8 374.3,1019.2 375.7,1018.5 377.2,1017.8 378.7,1017.1 380.1,1016.4 381.6,1015.8 383.1,1015.1 384.6,1014.3 386.1,1013.6 387.6,1012.9 389.1,1012.2 390.6,1011.4 392.1,1010.7 393.6,1009.9 395.2,1009.1 396.7,1008.3 398.3,1007.6 399.8,1006.8 401.4,1006.0 403.0,1005.1 404.6,1004.3 406.1,1003.5 407.7,1002.6 409.3,1001.8 410.9,1000.9 412.6,1000.0 414.2,999.1 415.8,998.2 417.5,997.3 419.1,996.4 420.8,995.5 422.4,994.5 424.1,993.6 425.8,992.6 427.5,991.6 429.2,990.7 430.9,989.7 432.6,988.6 434.3,987.6 436.1,986.6 437.8,985.5 439.5,984.5 441.3,983.4 443.1,982.3 444.8,981.2 446.6,980.1 448.4,978.9 450.2,977.8 452.0,976.6 453.8,975.4 455.7,974.2 457.5,973.0 459.4,971.8 461.2,970.5 463.1,969.3 465.0,968.0 466.8,966.7 468.7,965.4 470.6,964.1 472.6,962.7 474.5,961.3 476.4,959.9 478.4,958.5 480.3,957.1 482.3,955.7 484.2,954.2 486.2,952.7 488.2,951.2 490.2,949.7 492.2,948.1 494.3,946.6 496.3,945.0 498.4,943.4 500.4,941.7 502.5,940.1 504.6,938.4 506.7,936.7 508.8,934.9 510.9,933.2 513.0,931.4 515.2,929.6 517.3,927.7 519.5,925.9 521.6,924.0 523.8,922.1 526.0,920.1 528.2,918.2 530.5,916.2 532.7,914.1 534.9,912.1 537.2,910.0 539.5,907.8 541.8,905.7 544.1,903.5 546.4,901.3 548.7,899.0 551.0,896.7 553.4,894.4 555.8,892.0 558.1,889.6 560.5,887.2 561.7,885.9 562.9,884.7 564.2,883.4 565.4,882.1 566.6,880.9 567.8,879.6 569.0,878.3 570.2,877.0 571.5,875.6 572.7,874.3 574.0,872.9 575.2,871.6 576.4,870.2 577.7,868.8 578.9,867.4 580.2,866.0 581.5,864.6 582.7,863.1 584.0,861.7 585.3,860.2 586.5,858.7 587.8,857.2 589.1,855.7 590.4,854.2 591.7,852.7 593.0,851.1 594.3,849.5 595.6,848.0 596.9,846.3 598.2,844.7 599.5,843.1 600.8,841.4 602.1,839.8 603.4,838.1 604.8,836.4 606.1,834.7 607.4,833.0 608.8,831.2 610.1,829.5 611.5,827.7 612.8,825.9 614.2,824.1 615.5,822.3 616.9,820.4 618.3,818.6 619.7,816.7 621.0,814.8 622.4,812.9 623.8,811.0 625.2,809.1 626.6,807.1 628.0,805.2 629.4,803.2 630.8,801.2 632.2,799.2 633.6,797.2 635.1,795.1 636.5,793.1 637.9,791.0 639.4,789.0 640.8,786.9 642.2,784.8 643.7,782.6 645.2,780.5 646.6,778.4 648.1,776.2 649.5,774.0 651.0,771.8 652.5,769.7 654.0,767.4 655.5,765.2 657.0,763.0 658.5,760.8 660.0,758.5 661.5,756.2 663.0,754.0 664.5,751.7 666.0,749.4 667.5,747.1 669.1,744.8 670.6,742.5 672.1,740.1 673.7,737.8 675.2,735.4 676.8,733.1 678.4,730.7 679.9,728.4 681.5,726.0 683.1,723.6 684.7,721.3 686.2,718.9 687.8,716.5 689.4,714.1 691.0,711.7 692.6,709.3 694.3,706.9 695.9,704.5 697.5,702.1 699.1,699.7 700.8,697.3 702.4,695.0 704.1,692.6 705.7,690.2 707.4,687.8 709.0,685.4 710.7,683.0 712.4,680.5 714.1,678.1 715.7,675.7 717.4,673.3 719.1,670.9 720.8,668.5 722.6,666.1 724.3,663.7 726.0,661.2 727.7,658.8 729.5,656.4 731.2,653.9 732.9,651.5 734.7,649.1 736.5,646.6 738.2,644.1 740.0,641.7 741.8,639.2 743.5,636.7 745.3,634.3 747.1,631.8 748.9,629.3 750.7,626.8 752.6,624.3 754.4,621.8 756.2,619.2 758.0,616.7 759.9,614.2 761.7,611.6 763.6,609.0 765.4,606.5 767.3,603.9 769.2,601.3 771.1,598.7 773.0,596.1 774.8,593.5 776.8,590.8 778.7,588.2 780.6,585.5 782.5,582.8 784.4,580.1 786.4,577.4 788.3,574.7 790.3,572.0 792.2,569.3 794.2,566.5 796.2,563.8 798.1,561.0 800.1,558.2 802.1,555.4 804.1,552.7 806.1,549.9 808.1,547.1 810.2,544.3 812.2,541.5 814.2,538.6 816.3,535.8 818.3,533.0 820.4,530.2 822.5,527.4 824.6,524.6 826.6,521.7 828.7,518.9 830.8,516.1 833.0,513.3 835.1,510.5 837.2,507.7 839.3,504.9 841.5,502.1 843.6,499.3 845.8,496.5 848.0,493.8 850.1,491.0 852.3,488.2 854.5,485.5 856.7,482.7 858.9,480.0 861.2,477.3 863.4,474.6 865.6,471.9 867.9,469.2 870.1,466.6 872.4,463.9 874.7,461.3 876.9,458.7 879.2,456.2 881.5,453.7 883.8,451.2 886.2,448.7 888.5,446.3 890.8,443.9 893.2,441.5 895.5,439.2 897.9,436.9 900.3,434.7 902.7,432.5 905.1,430.4 907.5,428.3 909.9,426.2 912.3,424.2 914.7,422.2 917.2,420.3 919.6,418.4 922.1,416.6 924.6,414.8 927.1,413.1 929.6,411.4 932.1,409.7 934.6,408.1 937.1,406.4 939.6,404.8 942.2,403.1 944.8,401.5 947.3,399.8 949.9,398.1 952.5,396.4 955.1,394.8 957.7,393.1 960.3,391.4 963.0,389.8 965.6,388.2 968.3,386.5 971.0,385.0 973.6,383.4 976.3,381.8 979.0,380.3 981.8,378.8 984.5,377.3 987.2,375.9 990.0,374.5 992.7,373.2 995.5,371.8 998.3,370.6 1001.1,369.3 1003.9,368.2 1006.8,367.0 1009.6,366.0 1012.4,364.9 1015.3,364.0 1018.2,363.0 1021.1,362.2 1024.0,361.4 1026.9,360.6 1029.8,360.0 1032.8,359.3 1035.7,358.7 1038.7,358.2 1041.7,357.8 1044.7,357.4 1047.7,357.1 1050.7,356.8 1053.8,356.6 1056.8,356.5 1059.9,356.4 1063.0,356.4 1066.0,356.5 1069.2,356.7 1072.3,356.9 1075.4,357.2 1078.6,357.6 1081.7,358.1 1084.9,358.7 1088.1,359.4 1091.3,360.2 1094.6,361.1 1097.8,362.0 1101.1,363.1 1104.3,364.2 1107.6,365.3 1110.9,366.6 1114.3,367.8 1117.6,369.1 1121.0,370.5 1124.3,371.8 1127.7,373.1 1131.1,374.4 1134.5,375.6 1138.0,376.9 1141.4,378.0 1144.9,379.1 1148.4,380.0 1151.9,380.9 1155.4,381.7 1159.0,382.3 1162.5,382.8 1166.1,383.1 1169.7,383.2 1173.3,383.2 1176.9,383.0 1180.6,382.7 1184.2,382.2 1187.9,381.6 1191.6,380.7 1195.3,379.8 1199.1,378.7 1202.8,377.4 1206.6,375.9 1210.4,374.3 1214.2,372.5 1218.1,370.4 1221.9,368.2 1225.8,365.8 1229.7,363.1 1233.6,360.2 1237.6,357.1 1241.5,353.7 1245.5,350.2 1249.5,346.5 1253.5,342.6 1257.6,338.7 1261.6,334.7 1265.7,330.8 1269.8,326.9 1274.0,323.2 1278.1,319.5 1282.3,316.0 1286.5,312.6 1290.7,309.2 1295.0,305.8 1299.2,302.4 1303.5,298.9 1307.8,295.3 1312.2,291.6 1316.5,287.8 1320.9,284.0 1325.3,280.2 1329.8,276.3 1334.2,272.3 1338.7,268.4 1343.2,264.4 1347.7,260.5 1352.3,256.5 1356.9,252.6" fill="none" stroke="#00FFFF" stroke-width="13.0" stroke-linecap="round" stroke-linejoin="round"/>
<polyline points="193.7,1143.8 195.2,1143.3 196.7,1142.8 198.2,1142.2 199.8,1141.7 201.3,1141.2 202.9,1140.7 204.4,1140.1 206.0,1139.6 207.6,1139.1 209.2,1138.5 210.4,1138.1 211.6,1137.7 212.8,1137.3 214.0,1136.9 215.3,1136.5 216.5,1136.0 217.7,1135.6 219.0,1135.2 220.2,1134.7 221.5,1134.3 222.8,1133.9 224.0,1133.4 225.3,1133.0 226.6,1132.5 227.9,1132.0 229.2,1131.6 230.5,1131.1 231.8,1130.6 233.1,1130.1 234.5,1129.6 235.8,1129.1 237.1,1128.6 238.5,1128.1 239.8,1127.6 241.2,1127.1 242.6,1126.5 244.0,1126.0 245.3,1125.4 246.7,1124.9 248.1,1124.3 249.5,1123.7 251.0,1123.1 252.4,1122.5 253.8,1121.9 255.2,1121.3 256.7,1120.7 258.1,1120.0 259.6,1119.4 261.1,1118.7 262.6,1118.0 264.0,1117.3 265.5,1116.6 267.0,1115.9 268.5,1115.2 270.1,1114.5 271.6,1113.7 273.1,1113.0 274.7,1112.2 276.2,1111.5 277.8,1110.7 279.4,1109.9 281.0,1109.1 282.5,1108.2 284.1,1107.4 285.8,1106.6 287.4,1105.7 289.0,1104.9 290.6,1104.0 292.3,1103.1 293.9,1102.2 295.6,1101.3 297.3,1100.4 299.0,1099.5 300.7,1098.5 302.4,1097.6 304.1,1096.6 305.8,1095.6 307.6,1094.7 309.3,1093.7 311.1,1092.7 312.8,1091.7 314.6,1090.7 316.4,1089.7 317.6,1089.0 318.8,1088.3 320.0,1087.6 321.2,1086.9 322.5,1086.2 323.7,1085.5 324.9,1084.8 326.1,1084.1 327.4,1083.4 328.6,1082.7 329.9,1081.9 331.1,1081.2 332.4,1080.5 333.7,1079.8 334.9,1079.0 336.2,1078.3 337.5,1077.6 338.8,1076.8 340.1,1076.1 341.4,1075.4 342.7,1074.6 344.0,1073.9 345.3,1073.1 346.6,1072.4 348.0,1071.7 349.3,1070.9 350.6,1070.2 352.0,1069.4 353.3,1068.7 354.7,1067.9 356.0,1067.2 357.4,1066.4 358.8,1065.7 360.2,1064.9 361.5,1064.1 362.9,1063.4 364.3,1062.6 365.7,1061.9 367.1,1061.1 368.6,1060.4 370.0,1059.6 371.4,1058.9 372.8,1058.2 374.3,1057.4 375.7,1056.7 377.2,1055.9 378.7,1055.2 380.1,1054.5 381.6,1053.7 383.1,1053.0 384.6,1052.3 386.1,1051.5 387.6,1050.8 389.1,1050.1 390.6,1049.4 392.1,1048.7 393.6,1048.0 395.2,1047.3 396.7,1046.6 398.3,1045.9 399.8,1045.2 401.4,1044.6 403.0,1043.9 404.6,1043.3 406.1,1042.6 407.7,1042.0 409.3,1041.4 410.9,1040.8 412.6,1040.2 414.2,1039.6 415.8,1039.0 417.5,1038.5 419.1,1037.9 420.8,1037.4 422.4,1036.9 424.1,1036.4 425.8,1035.9 427.5,1035.5 429.2,1035.0 430.9,1034.6 432.6,1034.2 434.3,1033.8 436.1,1033.5 437.8,1033.2 439.5,1032.8 441.3,1032.6 443.1,1032.3 444.8,1032.0 446.6,1031.8 448.4,1031.5 450.2,1031.3 452.0,1031.0 453.8,1030.7 455.7,1030.4 457.5,1030.0 459.4,1029.6 461.2,1029.1 463.1,1028.6 465.0,1027.9 466.8,1027.2 468.7,1026.4 470.6,1025.4 472.6,1024.4 474.5,1023.3 476.4,1022.2 478.4,1021.0 480.3,1019.8 482.3,1018.6 484.2,1017.3 486.2,1015.9 488.2,1014.6 490.2,1013.2 492.2,1011.7 494.3,1010.3 496.3,1008.8 498.4,1007.2 500.4,1005.7 502.5,1004.0 504.6,1002.4 506.7,1000.7 508.8,999.0 510.9,997.3 513.0,995.5 515.2,993.7 517.3,991.9 519.5,990.0 521.6,988.1 523.8,986.2 526.0,984.3 528.2,982.4 530.5,980.4 532.7,978.5 534.9,976.5 537.2,974.5 539.5,972.5 541.8,970.5 544.1,968.5 546.4,966.5 548.7,964.4 551.0,962.4 553.4,960.3 555.8,958.3 558.1,956.2 560.5,954.1 561.7,953.1 562.9,952.0 564.2,950.9 565.4,949.9 566.6,948.8 567.8,947.7 569.0,946.7 570.2,945.6 571.5,944.5 572.7,943.4 574.0,942.3 575.2,941.2 576.4,940.1 577.7,938.9 578.9,937.8 580.2,936.7 581.5,935.5 582.7,934.4 584.0,933.2 585.3,932.1 586.5,930.9 587.8,929.7 589.1,928.5 590.4,927.3 591.7,926.1 593.0,924.9 594.3,923.7 595.6,922.4 596.9,921.2 598.2,919.9 599.5,918.6 600.8,917.3 602.1,916.0 603.4,914.7 604.8,913.4 606.1,912.1 607.4,910.7 608.8,909.3 610.1,908.0 611.5,906.6 612.8,905.2 614.2,903.7 615.5,902.3 616.9,900.8 618.3,899.3 619.7,897.8 621.0,896.3 622.4,894.8 623.8,893.2 625.2,891.6 626.6,890.1 628.0,888.4 629.4,886.8 630.8,885.2 632.2,883.5 633.6,881.8 635.1,880.1 636.5,878.4 637.9,876.6 639.4,874.9 640.8,873.1 642.2,871.3 643.7,869.5 645.2,867.6 646.6,865.8 648.1,863.9 649.5,862.0 651.0,860.1 652.5,858.1 654.0,856.1 655.5,854.2 657.0,852.1 658.5,850.1 660.0,848.1 661.5,846.0 663.0,843.9 664.5,841.8 666.0,839.7 667.5,837.5 669.1,835.3 670.6,833.1 672.1,830.9 673.7,828.7 675.2,826.4 676.8,824.2 678.4,821.9 679.9,819.6 681.5,817.2 683.1,814.9 684.7,812.5 686.2,810.1 687.8,807.7 689.4,805.3 691.0,802.8 692.6,800.4 694.3,797.9 695.9,795.5 697.5,793.0 699.1,790.5 700.8,788.0 702.4,785.5 704.1,782.9 705.7,780.4 707.4,777.9 709.0,775.4 710.7,772.9 712.4,770.3 714.1,767.8 715.7,765.3 717.4,762.8 719.1,760.3 720.8,757.7 722.6,755.3 724.3,752.8 726.0,750.3 727.7,747.8 729.5,745.4 731.2,742.9 732.9,740.5 734.7,738.1 736.5,735.7 738.2,733.3 740.0,731.0 741.8,728.6 743.5,726.2 745.3,723.9 747.1,721.6 748.9,719.2 750.7,716.9 752.6,714.6 754.4,712.3 756.2,710.0 758.0,707.6 759.9,705.3 761.7,703.0 763.6,700.7 765.4,698.3 767.3,696.0 769.2,693.6 771.1,691.3 773.0,688.9 774.8,686.6 776.8,684.2 778.7,681.8 780.6,679.4 782.5,677.0 784.4,674.7 786.4,672.3 788.3,669.9 790.3,667.5 792.2,665.1 794.2,662.6 796.2,660.2 798.1,657.8 800.1,655.4 802.1,653.0 804.1,650.5 806.1,648.1 808.1,645.7 810.2,643.3 812.2,640.8 814.2,638.4 816.3,636.0 818.3,633.5 820.4,631.1 822.5,628.6 824.6,626.2 826.6,623.8 828.7,621.3 830.8,618.9 833.0,616.4 835.1,614.0 837.2,611.6 839.3,609.1 841.5,606.7 843.6,604.3 845.8,601.8 848.0,599.4 850.1,597.0 852.3,594.6 854.5,592.1 856.7,589.7 858.9,587.3 861.2,584.9 863.4,582.5 865.6,580.1 867.9,577.7 870.1,575.3 872.4,572.9 874.7,570.5 876.9,568.1 879.2,565.8 881.5,563.4 883.8,561.0 886.2,558.6 888.5,556.3 890.8,553.9 893.2,551.6 895.5,549.2 897.9,546.8 900.3,544.5 902.7,542.1 905.1,539.8 907.5,537.4 909.9,535.1 912.3,532.8 914.7,530.4 917.2,528.1 919.6,525.7 922.1,523.4 924.6,521.1 927.1,518.7 929.6,516.4 932.1,514.1 934.6,511.7 937.1,509.4 939.6,507.1 942.2,504.7 944.8,502.4 947.3,500.1 949.9,497.7 952.5,495.4 955.1,493.1 957.7,490.7 960.3,488.4 963.0,486.0 965.6,483.7 968.3,481.4 971.0,479.0 973.6,476.7 976.3,474.3 979.0,472.0 981.8,469.6 984.5,467.3 987.2,465.0 990.0,462.7 992.7,460.5 995.5,458.3 998.3,456.2 1001.1,454.3 1003.9,452.4 1006.8,450.7 1009.6,449.1 1012.4,447.7 1015.3,446.4 1018.2,445.2 1021.1,444.2 1024.0,443.4 1026.9,442.7 1029.8,442.3 1032.8,441.9 1035.7,441.8 1038.7,441.8 1041.7,441.9 1044.7,442.2 1047.7,442.5 1050.7,442.9 1053.8,443.3 1056.8,443.8 1059.9,444.2 1063.0,444.6 1066.0,445.0 1069.2,445.2 1072.3,445.5 1075.4,445.7 1078.6,445.9 1081.7,446.2 1084.9,446.6 1088.1,447.0 1091.3,447.6 1094.6,448.3 1097.8,449.2 1101.1,450.1 1104.3,451.1 1107.6,452.2 1110.9,453.3 1114.3,454.5 1117.6,455.7 1121.0,456.9 1124.3,458.0 1127.7,459.2 1131.1,460.2 1134.5,461.2 1138.0,462.1 1141.4,462.9 1144.9,463.5 1148.4,464.0 1151.9,464.3 1155.4,464.4 1159.0,464.3 1162.5,463.9 1166.1,463.3 1169.7,462.4 1173.3,461.2 1176.9,459.8 1180.6,458.0 1184.2,455.9 1187.9,453.3 1191.6,450.3 1195.3,446.6 1199.1,442.1 1202.8,436.8 1206.6,430.9 1210.4,424.9 1214.2,419.1 1218.1,413.5 1221.9,407.9 1225.8,402.5 1229.7,397.1 1233.6,391.7 1237.6,386.4 1241.5,381.0 1245.5,375.7 1249.5,370.2 1253.5,364.7 1257.6,359.1 1261.6,353.3 1265.7,347.4 1269.8,341.3 1274.0,335.0 1278.1,328.6 1282.3,322.0 1286.5,315.4 1290.7,308.7 1295.0,301.9 1299.2,295.2 1303.5,288.5 1307.8,281.9 1312.2,275.4 1316.5,269.0 1320.9,262.8 1325.3,256.7 1329.8,250.9 1334.2,245.5 1338.7,240.8 1343.2,237.1 1347.7,234.4 1352.3,232.5 1356.9,231.3" fill="none" stroke="#22CC22" stroke-width="14.2" stroke-linecap="round" stroke-linejoin="round"/>
<polyline points="193.7,1143.8 195.2,1143.3 196.7,1142.8 198.2,1142.2 199.8,1141.7 201.3,1141.2 202.9,1140.7 204.4,1140.1 206.0,1139.6 207.6,1139.1 209.2,1138.5 210.4,1138.1 211.6,1137.7 212.8,1137.3 214.0,1136.9 215.3,1136.5 216.5,1136.0 217.7,1135.6 219.0,1135.2 220.2,1134.7 221.5,1134.3 222.8,1133.9 224.0,1133.4 225.3,1133.0 226.6,1132.5 227.9,1132.0 229.2,1131.6 230.5,1131.1 231.8,1130.6 233.1,1130.1 234.5,1129.6 235.8,1129.1 237.1,1128.6 238.5,1128.1 239.8,1127.6 241.2,1127.1 242.6,1126.5 244.0,1126.0 245.3,1125.4 246.7,1124.9 248.1,1124.3 249.5,1123.7 251.0,1123.1 252.4,1122.5 253.8,1121.9 255.2,1121.3 256.7,1120.7 258.1,1120.0 259.6,1119.4 261.1,1118.7 262.6,1118.0 264.0,1117.3 265.5,1116.6 267.0,1115.9 268.5,1115.2 270.1,1114.5 271.6,1113.7 273.1,1113.0 274.7,1112.2 276.2,1111.5 277.8,1110.7 279.4,1109.9 281.0,1109.1 282.5,1108.2 284.1,1107.4 285.8,1106.6 287.4,1105.7 289.0,1104.9 290.6,1104.0 292.3,1103.1 293.9,1102.2 295.6,1101.3 297.3,1100.4 299.0,1099.5 300.7,1098.5 302.4,1097.6 304.1,1096.6 305.8,1095.6 307.6,1094.7 309.3,1093.7 311.1,1092.7 312.8,1091.7 314.6,1090.7 316.4,1089.7 317.6,1089.0 318.8,1088.3 320.0,1087.6 321.2,1086.9 322.5,1086.2 323.7,1085.5 324.9,1084.8 326.1,1084.1 327.4,1083.4 328.6,1082.7 329.9,1081.9 331.1,1081.2 332.4,1080.5 333.7,1079.8 334.9,1079.0 336.2,1078.3 337.5,1077.6 338.8,1076.8 340.1,1076.1 341.4,1075.4 342.7,1074.6 344.0,1073.9 345.3,1073.1 346.6,1072.4 348.0,1071.7 349.3,1070.9 350.6,1070.2 352.0,1069.4 353.3,1068.7 354.7,1067.9 356.0,1067.2 357.4,1066.4 358.8,1065.7 360.2,1064.9 361.5,1064.1 362.9,1063.4 364.3,1062.6 365.7,1061.9 367.1,1061.1 368.6,1060.4 370.0,1059.6 371.4,1058.9 372.8,1058.2 374.3,1057.4 375.7,1056.7 377.2,1055.9 378.7,1055.2 380.1,1054.5 381.6,1053.7 383.1,1053.0 384.6,1052.3 386.1,1051.5 387.6,1050.8 389.1,1050.1 390.6,1049.4 392.1,1048.7 393.6,1048.0 395.2,1047.3 396.7,1046.6 398.3,1045.9 399.8,1045.2 401.4,1044.6 403.0,1043.9 404.6,1043.3 406.1,1042.6 407.7,1042.0 409.3,1041.4 410.9,1040.8 412.6,1040.2 414.2,1039.6 415.8,1039.0 417.5,1038.5 419.1,1037.9 420.8,1037.4 422.4,1036.9 424.1,1036.4 425.8,1035.9 427.5,1035.5 429.2,1035.0 430.9,1034.6 432.6,1034.2 434.3,1033.8 436.1,1033.5 437.8,1033.2 439.5,1032.8 441.3,1032.6 443.1,1032.3 444.8,1032.0 446.6,1031.8 448.4,1031.5 450.2,1031.3 452.0,1031.0 453.8,1030.7 455.7,1030.4 457.5,1030.0 459.4,1029.6 461.2,1029.1 463.1,1028.6 465.0,1027.9 466.8,1027.2 468.7,1026.4 470.6,1025.4 472.6,1024.4 474.5,1023.3 476.4,1022.2 478.4,1021.0 480.3,1019.8 482.3,1018.6 484.2,1017.3 486.2,1015.9 488.2,1014.6 490.2,1013.2 492.2,1011.7 494.3,1010.3 496.3,1008.8 498.4,1007.2 500.4,1005.7 502.5,1004.0 504.6,1002.4 506.7,1000.7 508.8,999.0 510.9,997.3 513.0,995.5 515.2,993.7 517.3,991.9 519.5,990.0 521.6,988.1 523.8,986.2 526.0,984.3 528.2,982.4 530.5,980.4 532.7,978.5 534.9,976.5 537.2,974.5 539.5,972.5 541.8,970.5 544.1,968.5 546.4,966.5 548.7,964.4 551.0,962.4 553.4,960.3 555.8,958.3 558.1,956.2 560.5,954.1 561.7,953.1 562.9,952.0 564.2,950.9 565.4,949.9 566.6,948.8 567.8,947.7 569.0,946.7 570.2,945.6 571.5,944.5 572.7,943.4 574.0,942.3 575.2,941.2 576.4,940.1 577.7,938.9 578.9,937.8 580.2,936.7 581.5,935.5 582.7,934.4 584.0,933.2 585.3,932.1 586.5,930.9 587.8,929.7 589.1,928.5 590.4,927.3 591.7,926.1 593.0,924.9 594.3,923.7 595.6,922.4 596.9,921.2 598.2,919.9 599.5,918.6 600.8,917.3 602.1,916.0 603.4,914.7 604.8,913.4 606.1,912.1 607.4,910.7 608.8,909.3 610.1,908.0 611.5,906.6 612.8,905.2 614.2,903.7 615.5,902.3 616.9,900.8 618.3,899.3 619.7,897.8 621.0,896.3 622.4,894.8 623.8,893.2 625.2,891.6 626.6,890.1 628.0,888.4 629.4,886.8 630.8,885.2 632.2,883.5 633.6,881.8 635.1,880.1 636.5,878.4 637.9,876.6 639.4,874.9 640.8,873.1 642.2,871.3 643.7,869.5 645.2,867.6 646.6,865.8 648.1,863.9 649.5,862.0 651.0,860.1 652.5,858.1 654.0,856.1 655.5,854.2 657.0,852.1 658.5,850.1 660.0,848.1 661.5,846.0 663.0,843.9 664.5,841.8 666.0,839.7 667.5,837.5 669.1,835.3 670.6,833.1 672.1,830.9 673.7,828.7 675.2,826.4 676.8,824.2 678.4,821.9 679.9,819.6 681.5,817.2 683.1,814.9 684.7,812.5 686.2,810.1 687.8,807.7 689.4,805.3 691.0,802.8 692.6,800.4 694.3,797.9 695.9,795.5 697.5,793.0 699.1,790.5 700.8,788.0 702.4,785.5 704.1,782.9 705.7,780.4 707.4,777.9 709.0,775.4 710.7,772.9 712.4,770.3 714.1,767.8 715.7,765.3 717.4,762.8 719.1,760.3 720.8,757.7 722.6,755.3 724.3,752.8 726.0,750.3 727.7,747.8 729.5,745.4 731.2,742.9 732.9,740.5 734.7,738.1 736.5,735.7 738.2,733.3 740.0,731.0 741.8,728.6 743.5,726.2 745.3,723.9 747.1,721.6 748.9,719.2 750.7,716.9 752.6,714.6 754.4,712.3 756.2,710.0 758.0,707.6 759.9,705.3 761.7,703.0 763.6,700.7 765.4,698.3 767.3,696.0 769.2,693.6 771.1,691.3 773.0,688.9 774.8,686.6 776.8,684.2 778.7,681.8 780.6,679.4 782.5,677.0 784.4,674.7 786.4,672.3 788.3,669.9 790.3,667.5 792.2,665.1 794.2,662.6 796.2,660.2 798.1,657.8 800.1,655.4 802.1,653.0 804.1,650.5 806.1,648.1 808.1,645.7 810.2,643.3 812.2,640.8 814.2,638.4 816.3,636.0 818.3,633.5 820.4,631.1 822.5,628.6 824.6,626.2 826.6,623.8 828.7,621.3 830.8,618.9 833.0,616.4 835.1,614.0 837.2,611.6 839.3,609.1 841.5,606.7 843.6,604.3 845.8,601.8 848.0,599.4 850.1,597.0 852.3,594.6 854.5,592.1 856.7,589.7 858.9,587.3 861.2,584.9 863.4,582.5 865.6,580.1 867.9,577.7 870.1,575.3 872.4,572.9 874.7,570.5 876.9,568.1 879.2,565.8 881.5,563.4 883.8,561.0 886.2,558.6 888.5,556.3 890.8,553.9 893.2,551.6 895.5,549.2 897.9,546.8 900.3,544.5 902.7,542.1 905.1,539.8 907.5,537.4 909.9,535.1 912.3,532.8 914.7,530.4 917.2,528.1 919.6,525.7 922.1,523.4 924.6,521.1 927.1,518.7 929.6,516.4 932.1,514.1 934.6,511.7 937.1,509.4 939.6,507.1 942.2,504.7 944.8,502.4 947.3,500.1 949.9,497.7 952.5,495.4 955.1,493.1 957.7,490.7 960.3,488.4 963.0,486.0 965.6,483.7 968.3,481.4 971.0,479.0 973.6,476.7 976.3,474.3 979.0,472.0 981.8,469.6 984.5,467.3 987.2,465.0 990.0,462.7 992.7,460.5 995.5,458.3 998.3,456.2 1001.1,454.3 1003.9,452.4 1006.8,450.7 1009.6,449.1 1012.4,447.7 1015.3,446.4 1018.2,445.2 1021.1,444.2 1024.0,443.4 1026.9,442.7 1029.8,442.3 1032.8,441.9 1035.7,441.8 1038.7,441.8 1041.7,441.9 1044.7,442.2 1047.7,442.5 1050.7,442.9 1053.8,443.3 1056.8,443.8 1059.9,444.2 1063.0,444.6 1066.0,445.0 1069.2,445.2 1072.3,445.5 1075.4,445.7 1078.6,445.9 1081.7,446.2 1084.9,446.6 1088.1,447.0 1091.3,447.6 1094.6,448.3 1097.8,449.2 1101.1,450.1 1104.3,451.1 1107.6,452.2 1110.9,453.3 1114.3,454.5 1117.6,455.7 1121.0,456.9 1124.3,458.0 1127.7,459.2 1131.1,460.2 1134.5,461.2 1138.0,462.1 1141.4,462.9 1144.9,463.5 1148.4,464.0 1151.9,464.3 1155.4,464.4 1159.0,464.3 1162.5,463.9 1166.1,463.3 1169.7,462.4 1173.3,461.2 1176.9,459.8 1180.6,458.0 1184.2,455.9 1187.9,453.3 1191.6,450.3 1195.3,446.6 1199.1,442.1 1202.8,436.8 1206.6,430.9 1210.4,424.9 1214.2,419.1 1218.1,413.5 1221.9,407.9 1225.8,402.5 1229.7,397.1 1233.6,391.7 1237.6,386.4 1241.5,381.0 1245.5,375.7 1249.5,370.2 1253.5,364.7 1257.6,359.1 1261.6,353.3 1265.7,347.4 1269.8,341.3 1274.0,335.0 1278.1,328.6 1282.3,322.0 1286.5,315.4 1290.7,308.7 1295.0,301.9 1299.2,295.2 1303.5,288.5 1307.8,281.9 1312.2,275.4 1316.5,269.0 1320.9,262.8 1325.3,256.7 1329.8,250.9 1334.2,245.5 1338.7,240.8 1343.2,237.1 1347.7,234.4 1352.3,232.5 1356.9,231.3" fill="none" stroke="#00FF00" stroke-width="13.0" stroke-linecap="round" stroke-linejoin="round"/>
<polyline points="193.7,1157.0 195.2,1155.7 196.7,1154.5 198.2,1153.3 199.8,1152.0 201.3,1150.8 202.9,1149.6 204.4,1148.4 206.0,1147.2 207.6,1146.0 209.2,1144.8 210.4,1144.0 211.6,1143.1 212.8,1142.2 214.0,1141.3 215.3,1140.5 216.5,1139.6 217.7,1138.7 219.0,1137.9 220.2,1137.0 221.5,1136.2 222.8,1135.3 224.0,1134.5 225.3,1133.6 226.6,1132.8 227.9,1132.0 229.2,1131.1 230.5,1130.3 231.8,1129.5 233.1,1128.6 234.5,1127.8 235.8,1127.0 237.1,1126.1 238.5,1125.3 239.8,1124.5 241.2,1123.7 242.6,1122.9 244.0,1122.1 245.3,1121.2 246.7,1120.4 248.1,1119.6 249.5,1118.8 251.0,1118.0 252.4,1117.2 253.8,1116.4 255.2,1115.6 256.7,1114.8 258.1,1114.0 259.6,1113.2 261.1,1112.4 262.6,1111.6 264.0,1110.8 265.5,1110.0 267.0,1109.2 268.5,1108.5 270.1,1107.7 271.6,1106.9 273.1,1106.1 274.7,1105.3 276.2,1104.5 277.8,1103.7 279.4,1102.9 281.0,1102.1 282.5,1101.3 284.1,1100.5 285.8,1099.7 287.4,1099.0 289.0,1098.2 290.6,1097.4 292.3,1096.6 293.9,1095.8 295.6,1095.0 297.3,1094.2 299.0,1093.4 300.7,1092.6 302.4,1091.8 304.1,1091.0 305.8,1090.2 307.6,1089.3 309.3,1088.5 311.1,1087.7 312.8,1086.9 314.6,1086.1 316.4,1085.3 317.6,1084.7 318.8,1084.2 320.0,1083.6 321.2,1083.1 322.5,1082.5 323.7,1081.9 324.9,1081.4 326.1,1080.8 327.4,1080.3 328.6,1079.7 329.9,1079.1 331.1,1078.6 332.4,1078.0 333.7,1077.4 334.9,1076.8 336.2,1076.3 337.5,1075.7 338.8,1075.1 340.1,1074.5 341.4,1073.9 342.7,1073.3 344.0,1072.8 345.3,1072.2 346.6,1071.6 348.0,1071.0 349.3,1070.4 350.6,1069.7 352.0,1069.1 353.3,1068.5 354.7,1067.9 356.0,1067.3 357.4,1066.7 358.8,1066.0 360.2,1065.4 361.5,1064.8 362.9,1064.1 364.3,1063.5 365.7,1062.8 367.1,1062.2 368.6,1061.5 370.0,1060.9 371.4,1060.2 372.8,1059.6 374.3,1058.9 375.7,1058.3 377.2,1057.6 378.7,1056.9 380.1,1056.3 381.6,1055.7 383.1,1055.0 384.6,1054.4 386.1,1053.8 387.6,1053.2 389.1,1052.5 390.6,1051.9 392.1,1051.4 393.6,1050.8 395.2,1050.2 396.7,1049.7 398.3,1049.1 399.8,1048.6 401.4,1048.1 403.0,1047.6 404.6,1047.1 406.1,1046.7 407.7,1046.2 409.3,1045.8 410.9,1045.4 412.6,1045.1 414.2,1044.7 415.8,1044.4 417.5,1044.1 419.1,1043.8 420.8,1043.5 422.4,1043.2 424.1,1043.0 425.8,1042.8 427.5,1042.5 429.2,1042.3 430.9,1042.1 432.6,1042.0 434.3,1041.8 436.1,1041.6 437.8,1041.4 439.5,1041.3 441.3,1041.1 443.1,1041.0 444.8,1040.8 446.6,1040.6 448.4,1040.5 450.2,1040.3 452.0,1040.1 453.8,1039.9 455.7,1039.7 457.5,1039.5 459.4,1039.3 461.2,1039.0 463.1,1038.8 465.0,1038.5 466.8,1038.2 468.7,1037.9 470.6,1037.6 472.6,1037.2 474.5,1036.8 476.4,1036.4 478.4,1036.0 480.3,1035.5 482.3,1035.1 484.2,1034.6 486.2,1034.1 488.2,1033.6 490.2,1033.0 492.2,1032.5 494.3,1031.9 496.3,1031.3 498.4,1030.7 500.4,1030.1 502.5,1029.5 504.6,1028.8 506.7,1028.2 508.8,1027.5 510.9,1026.8 513.0,1026.2 515.2,1025.5 517.3,1024.8 519.5,1024.1 521.6,1023.4 523.8,1022.7 526.0,1021.9 528.2,1021.2 530.5,1020.5 532.7,1019.8 534.9,1019.1 537.2,1018.4 539.5,1017.7 541.8,1017.0 544.1,1016.4 546.4,1015.7 548.7,1015.1 551.0,1014.4 553.4,1013.8 555.8,1013.2 558.1,1012.6 560.5,1012.0 561.7,1011.7 562.9,1011.4 564.2,1011.1 565.4,1010.9 566.6,1010.6 567.8,1010.3 569.0,1010.1 570.2,1009.8 571.5,1009.6 572.7,1009.3 574.0,1009.1 575.2,1008.9 576.4,1008.6 577.7,1008.4 578.9,1008.2 580.2,1008.0 581.5,1007.8 582.7,1007.6 584.0,1007.4 585.3,1007.2 586.5,1007.0 587.8,1006.9 589.1,1006.7 590.4,1006.5 591.7,1006.4 593.0,1006.3 594.3,1006.1 595.6,1006.0 596.9,1005.9 598.2,1005.8 599.5,1005.6 600.8,1005.5 602.1,1005.4 603.4,1005.3 604.8,1005.3 606.1,1005.2 607.4,1005.1 608.8,1005.0 610.1,1005.0 611.5,1004.9 612.8,1004.8 614.2,1004.8 615.5,1004.7 616.9,1004.7 618.3,1004.6 619.7,1004.6 621.0,1004.5 622.4,1004.5 623.8,1004.5 625.2,1004.4 626.6,1004.4 628.0,1004.4 629.4,1004.4 630.8,1004.4 632.2,1004.3 633.6,1004.3 635.1,1004.3 636.5,1004.3 637.9,1004.3 639.4,1004.3 640.8,1004.2 642.2,1004.2 643.7,1004.2 645.2,1004.2 646.6,1004.2 648.1,1004.2 649.5,1004.2 651.0,1004.2 652.5,1004.1 654.0,1004.1 655.5,1004.1 657.0,1004.1 658.5,1004.1 660.0,1004.1 661.5,1004.1 663.0,1004.1 664.5,1004.1 666.0,1004.1 667.5,1004.1 669.1,1004.1 670.6,1004.1 672.1,1004.1 673.7,1004.1 675.2,1004.1 676.8,1004.2 678.4,1004.2 679.9,1004.2 681.5,1004.2 683.1,1004.2 684.7,1004.2 686.2,1004.2 687.8,1004.3 689.4,1004.3 691.0,1004.3 692.6,1004.3 694.3,1004.4 695.9,1004.4 697.5,1004.4 699.1,1004.5 700.8,1004.5 702.4,1004.6 704.1,1004.6 705.7,1004.7 707.4,1004.7 709.0,1004.8 710.7,1004.8 712.4,1004.9 714.1,1004.9 715.7,1005.0 717.4,1005.1 719.1,1005.1 720.8,1005.2 722.6,1005.3 724.3,1005.4 726.0,1005.5 727.7,1005.5 729.5,1005.6 731.2,1005.7 732.9,1005.8 734.7,1005.9 736.5,1006.0 738.2,1006.1 740.0,1006.2 741.8,1006.3 743.5,1006.4 745.3,1006.5 747.1,1006.6 748.9,1006.7 750.7,1006.8 752.6,1006.9 754.4,1007.0 756.2,1007.1 758.0,1007.2 759.9,1007.4 761.7,1007.5 763.6,1007.6 765.4,1007.7 767.3,1007.8 769.2,1007.9 771.1,1008.0 773.0,1008.1 774.8,1008.3 776.8,1008.4 778.7,1008.5 780.6,1008.6 782.5,1008.7 784.4,1008.8 786.4,1008.9 788.3,1009.0 790.3,1009.1 792.2,1009.3 794.2,1009.4 796.2,1009.5 798.1,1009.6 800.1,1009.7 802.1,1009.8 804.1,1009.8 806.1,1009.9 808.1,1010.0 810.2,1010.1 812.2,1010.2 814.2,1010.3 816.3,1010.3 818.3,1010.4 820.4,1010.5 822.5,1010.5 824.6,1010.6 826.6,1010.6 828.7,1010.7 830.8,1010.7 833.0,1010.8 835.1,1010.8 837.2,1010.8 839.3,1010.9 841.5,1010.9 843.6,1010.9 845.8,1010.9 848.0,1010.9 850.1,1010.8 852.3,1010.8 854.5,1010.8 856.7,1010.7 858.9,1010.7 861.2,1010.6 863.4,1010.6 865.6,1010.5 867.9,1010.4 870.1,1010.3 872.4,1010.2 874.7,1010.1 876.9,1009.9 879.2,1009.8 881.5,1009.6 883.8,1009.5 886.2,1009.3 888.5,1009.1 890.8,1008.9 893.2,1008.7 895.5,1008.4 897.9,1008.2 900.3,1007.9 902.7,1007.7 905.1,1007.4 907.5,1007.1 909.9,1006.8 912.3,1006.4 914.7,1006.1 917.2,1005.8 919.6,1005.4 922.1,1005.1 924.6,1004.7 927.1,1004.3 929.6,1003.9 932.1,1003.5 934.6,1003.1 937.1,1002.7 939.6,1002.3 942.2,1001.9 944.8,1001.4 947.3,1001.0 949.9,1000.6 952.5,1000.1 955.1,999.7 957.7,999.2 960.3,998.8 963.0,998.3 965.6,997.9 968.3,997.4 971.0,997.0 973.6,996.5 976.3,996.0 979.0,995.6 981.8,995.1 984.5,994.7 987.2,994.3 990.0,993.8 992.7,993.4 995.5,993.0 998.3,992.6 1001.1,992.1 1003.9,991.7 1006.8,991.4 1009.6,991.0 1012.4,990.6 1015.3,990.3 1018.2,989.9 1021.1,989.6 1024.0,989.3 1026.9,989.0 1029.8,988.7 1032.8,988.5 1035.7,988.3 1038.7,988.1 1041.7,987.9 1044.7,987.7 1047.7,987.6 1050.7,987.5 1053.8,987.4 1056.8,987.4 1059.9,987.4 1063.0,987.4 1066.0,987.4 1069.2,987.5 1072.3,987.7 1075.4,987.8 1078.6,988.1 1081.7,988.3 1084.9,988.6 1088.1,989.0 1091.3,989.4 1094.6,989.8 1097.8,990.2 1101.1,990.6 1104.3,991.0 1107.6,991.4 1110.9,991.7 1114.3,992.0 1117.6,992.2 1121.0,992.3 1124.3,992.3 1127.7,992.1 1131.1,991.7 1134.5,991.1 1138.0,990.2 1141.4,989.0 1144.9,987.5 1148.4,985.5 1151.9,983.0 1155.4,980.0 1159.0,976.1 1162.5,971.4 1166.1,965.8 1169.7,959.1 1173.3,951.5 1176.9,942.9 1180.6,933.0 1184.2,921.6" fill="none" stroke="#0000B0" stroke-width="14.2" stroke-linecap="round" stroke-linejoin="round"/>
<circle cx="1187.9" cy="908.1" r="7.1" fill="#0000B0"/>
<circle cx="1191.6" cy="892.2" r="7.1" fill="#0000B0"/>
<circle cx="1195.3" cy="874.0" r="7.1" fill="#0000B0"/>
<circle cx="1199.1" cy="854.4" r="7.1" fill="#0000B0"/>
<circle cx="1202.8" cy="833.6" r="7.1" fill="#0000B0"/>
<circle cx="1206.6" cy="811.5" r="7.1" fill="#0000B0"/>
<circle cx="1210.4" cy="788.2" r="7.1" fill="#0000B0"/>
<circle cx="1214.2" cy="763.9" r="7.1" fill="#0000B0"/>
<circle cx="1218.1" cy="738.6" r="7.1" fill="#0000B0"/>
<circle cx="1221.9" cy="712.7" r="7.1" fill="#0000B0"/>
<circle cx="1225.8" cy="686.6" r="7.1" fill="#0000B0"/>
<circle cx="1229.7" cy="660.9" r="7.1" fill="#0000B0"/>
<circle cx="1233.6" cy="635.9" r="7.1" fill="#0000B0"/>
<circle cx="1237.6" cy="612.0" r="7.1" fill="#0000B0"/>
<circle cx="1241.5" cy="589.5" r="7.1" fill="#0000B0"/>
<circle cx="1245.5" cy="568.3" r="7.1" fill="#0000B0"/>
<circle cx="1249.5" cy="548.4" r="7.1" fill="#0000B0"/>
<circle cx="1253.5" cy="529.8" r="7.1" fill="#0000B0"/>
<circle cx="1257.6" cy="512.4" r="7.1" fill="#0000B0"/>
<circle cx="1261.6" cy="496.1" r="7.1" fill="#0000B0"/>
<circle cx="1265.7" cy="480.7" r="7.1" fill="#0000B0"/>
<circle cx="1269.8" cy="466.1" r="7.1" fill="#0000B0"/>
<circle cx="1274.0" cy="452.4" r="7.1" fill="#0000B0"/>
<polyline points="1278.1,439.4 1282.3,427.1 1286.5,415.3 1290.7,404.3 1295.0,394.1 1299.2,384.6 1303.5,375.3 1307.8,366.3 1312.2,357.3 1316.5,348.2 1320.9,338.9 1325.3,329.0 1329.8,318.5 1334.2,307.5 1338.7,296.4 1343.2,285.6 1347.7,275.5 1352.3,266.2 1356.9,257.8" fill="none" stroke="#0000B0" stroke-width="14.2" stroke-linecap="round" stroke-linejoin="round"/>
<polyline points="193.7,1157.0 195.2,1155.7 196.7,1154.5 198.2,1153.3 199.8,1152.0 201.3,1150.8 202.9,1149.6 204.4,1148.4 206.0,1147.2 207.6,1146.0 209.2,1144.8 210.4,1144.0 211.6,1143.1 212.8,1142.2 214.0,1141.3 215.3,1140.5 216.5,1139.6 217.7,1138.7 219.0,1137.9 220.2,1137.0 221.5,1136.2 222.8,1135.3 224.0,1134.5 225.3,1133.6 226.6,1132.8 227.9,1132.0 229.2,1131.1 230.5,1130.3 231.8,1129.5 233.1,1128.6 234.5,1127.8 235.8,1127.0 237.1,1126.1 238.5,1125.3 239.8,1124.5 241.2,1123.7 242.6,1122.9 244.0,1122.1 245.3,1121.2 246.7,1120.4 248.1,1119.6 249.5,1118.8 251.0,1118.0 252.4,1117.2 253.8,1116.4 255.2,1115.6 256.7,1114.8 258.1,1114.0 259.6,1113.2 261.1,1112.4 262.6,1111.6 264.0,1110.8 265.5,1110.0 267.0,1109.2 268.5,1108.5 270.1,1107.7 271.6,1106.9 273.1,1106.1 274.7,1105.3 276.2,1104.5 277.8,1103.7 279.4,1102.9 281.0,1102.1 282.5,1101.3 284.1,1100.5 285.8,1099.7 287.4,1099.0 289.0,1098.2 290.6,1097.4 292.3,1096.6 293.9,1095.8 295.6,1095.0 297.3,1094.2 299.0,1093.4 300.7,1092.6 302.4,1091.8 304.1,1091.0 305.8,1090.2 307.6,1089.3 309.3,1088.5 311.1,1087.7 312.8,1086.9 314.6,1086.1 316.4,1085.3 317.6,1084.7 318.8,1084.2 320.0,1083.6 321.2,1083.1 322.5,1082.5 323.7,1081.9 324.9,1081.4 326.1,1080.8 327.4,1080.3 328.6,1079.7 329.9,1079.1 331.1,1078.6 332.4,1078.0 333.7,1077.4 334.9,1076.8 336.2,1076.3 337.5,1075.7 338.8,1075.1 340.1,1074.5 341.4,1073.9 342.7,1073.3 344.0,1072.8 345.3,1072.2 346.6,1071.6 348.0,1071.0 349.3,1070.4 350.6,1069.7 352.0,1069.1 353.3,1068.5 354.7,1067.9 356.0,1067.3 357.4,1066.7 358.8,1066.0 360.2,1065.4 361.5,1064.8 362.9,1064.1 364.3,1063.5 365.7,1062.8 367.1,1062.2 368.6,1061.5 370.0,1060.9 371.4,1060.2 372.8,1059.6 374.3,1058.9 375.7,1058.3 377.2,1057.6 378.7,1056.9 380.1,1056.3 381.6,1055.7 383.1,1055.0 384.6,1054.4 386.1,1053.8 387.6,1053.2 389.1,1052.5 390.6,1051.9 392.1,1051.4 393.6,1050.8 395.2,1050.2 396.7,1049.7 398.3,1049.1 399.8,1048.6 401.4,1048.1 403.0,1047.6 404.6,1047.1 406.1,1046.7 407.7,1046.2 409.3,1045.8 410.9,1045.4 412.6,1045.1 414.2,1044.7 415.8,1044.4 417.5,1044.1 419.1,1043.8 420.8,1043.5 422.4,1043.2 424.1,1043.0 425.8,1042.8 427.5,1042.5 429.2,1042.3 430.9,1042.1 432.6,1042.0 434.3,1041.8 436.1,1041.6 437.8,1041.4 439.5,1041.3 441.3,1041.1 443.1,1041.0 444.8,1040.8 446.6,1040.6 448.4,1040.5 450.2,1040.3 452.0,1040.1 453.8,1039.9 455.7,1039.7 457.5,1039.5 459.4,1039.3 461.2,1039.0 463.1,1038.8 465.0,1038.5 466.8,1038.2 468.7,1037.9 470.6,1037.6 472.6,1037.2 474.5,1036.8 476.4,1036.4 478.4,1036.0 480.3,1035.5 482.3,1035.1 484.2,1034.6 486.2,1034.1 488.2,1033.6 490.2,1033.0 492.2,1032.5 494.3,1031.9 496.3,1031.3 498.4,1030.7 500.4,1030.1 502.5,1029.5 504.6,1028.8 506.7,1028.2 508.8,1027.5 510.9,1026.8 513.0,1026.2 515.2,1025.5 517.3,1024.8 519.5,1024.1 521.6,1023.4 523.8,1022.7 526.0,1021.9 528.2,1021.2 530.5,1020.5 532.7,1019.8 534.9,1019.1 537.2,1018.4 539.5,1017.7 541.8,1017.0 544.1,1016.4 546.4,1015.7 548.7,1015.1 551.0,1014.4 553.4,1013.8 555.8,1013.2 558.1,1012.6 560.5,1012.0 561.7,1011.7 562.9,1011.4 564.2,1011.1 565.4,1010.9 566.6,1010.6 567.8,1010.3 569.0,1010.1 570.2,1009.8 571.5,1009.6 572.7,1009.3 574.0,1009.1 575.2,1008.9 576.4,1008.6 577.7,1008.4 578.9,1008.2 580.2,1008.0 581.5,1007.8 582.7,1007.6 584.0,1007.4 585.3,1007.2 586.5,1007.0 587.8,1006.9 589.1,1006.7 590.4,1006.5 591.7,1006.4 593.0,1006.3 594.3,1006.1 595.6,1006.0 596.9,1005.9 598.2,1005.8 599.5,1005.6 600.8,1005.5 602.1,1005.4 603.4,1005.3 604.8,1005.3 606.1,1005.2 607.4,1005.1 608.8,1005.0 610.1,1005.0 611.5,1004.9 612.8,1004.8 614.2,1004.8 615.5,1004.7 616.9,1004.7 618.3,1004.6 619.7,1004.6 621.0,1004.5 622.4,1004.5 623.8,1004.5 625.2,1004.4 626.6,1004.4 628.0,1004.4 629.4,1004.4 630.8,1004.4 632.2,1004.3 633.6,1004.3 635.1,1004.3 636.5,1004.3 637.9,1004.3 639.4,1004.3 640.8,1004.2 642.2,1004.2 643.7,1004.2 645.2,1004.2 646.6,1004.2 648.1,1004.2 649.5,1004.2 651.0,1004.2 652.5,1004.1 654.0,1004.1 655.5,1004.1 657.0,1004.1 658.5,1004.1 660.0,1004.1 661.5,1004.1 663.0,1004.1 664.5,1004.1 666.0,1004.1 667.5,1004.1 669.1,1004.1 670.6,1004.1 672.1,1004.1 673.7,1004.1 675.2,1004.1 676.8,1004.2 678.4,1004.2 679.9,1004.2 681.5,1004.2 683.1,1004.2 684.7,1004.2 686.2,1004.2 687.8,1004.3 689.4,1004.3 691.0,1004.3 692.6,1004.3 694.3,1004.4 695.9,1004.4 697.5,1004.4 699.1,1004.5 700.8,1004.5 702.4,1004.6 704.1,1004.6 705.7,1004.7 707.4,1004.7 709.0,1004.8 710.7,1004.8 712.4,1004.9 714.1,1004.9 715.7,1005.0 717.4,1005.1 719.1,1005.1 720.8,1005.2 722.6,1005.3 724.3,1005.4 726.0,1005.5 727.7,1005.5 729.5,1005.6 731.2,1005.7 732.9,1005.8 734.7,1005.9 736.5,1006.0 738.2,1006.1 740.0,1006.2 741.8,1006.3 743.5,1006.4 745.3,1006.5 747.1,1006.6 748.9,1006.7 750.7,1006.8 752.6,1006.9 754.4,1007.0 756.2,1007.1 758.0,1007.2 759.9,1007.4 761.7,1007.5 763.6,1007.6 765.4,1007.7 767.3,1007.8 769.2,1007.9 771.1,1008.0 773.0,1008.1 774.8,1008.3 776.8,1008.4 778.7,1008.5 780.6,1008.6 782.5,1008.7 784.4,1008.8 786.4,1008.9 788.3,1009.0 790.3,1009.1 792.2,1009.3 794.2,1009.4 796.2,1009.5 798.1,1009.6 800.1,1009.7 802.1,1009.8 804.1,1009.8 806.1,1009.9 808.1,1010.0 810.2,1010.1 812.2,1010.2 814.2,1010.3 816.3,1010.3 818.3,1010.4 820.4,1010.5 822.5,1010.5 824.6,1010.6 826.6,1010.6 828.7,1010.7 830.8,1010.7 833.0,1010.8 835.1,1010.8 837.2,1010.8 839.3,1010.9 841.5,1010.9 843.6,1010.9 845.8,1010.9 848.0,1010.9 850.1,1010.8 852.3,1010.8 854.5,1010.8 856.7,1010.7 858.9,1010.7 861.2,1010.6 863.4,1010.6 865.6,1010.5 867.9,1010.4 870.1,1010.3 872.4,1010.2 874.7,1010.1 876.9,1009.9 879.2,1009.8 881.5,1009.6 883.8,1009.5 886.2,1009.3 888.5,1009.1 890.8,1008.9 893.2,1008.7 895.5,1008.4 897.9,1008.2 900.3,1007.9 902.7,1007.7 905.1,1007.4 907.5,1007.1 909.9,1006.8 912.3,1006.4 914.7,1006.1 917.2,1005.8 919.6,1005.4 922.1,1005.1 924.6,1004.7 927.1,1004.3 929.6,1003.9 932.1,1003.5 934.6,1003.1 937.1,1002.7 939.6,1002.3 942.2,1001.9 944.8,1001.4 947.3,1001.0 949.9,1000.6 952.5,1000.1 955.1,999.7 957.7,999.2 960.3,998.8 963.0,998.3 965.6,997.9 968.3,997.4 971.0,997.0 973.6,996.5 976.3,996.0 979.0,995.6 981.8,995.1 984.5,994.7 987.2,994.3 990.0,993.8 992.7,993.4 995.5,993.0 998.3,992.6 1001.1,992.1 1003.9,991.7 1006.8,991.4 1009.6,991.0 1012.4,990.6 1015.3,990.3 1018.2,989.9 1021.1,989.6 1024.0,989.3 1026.9,989.0 1029.8,988.7 1032.8,988.5 1035.7,988.3 1038.7,988.1 1041.7,987.9 1044.7,987.7 1047.7,987.6 1050.7,987.5 1053.8,987.4 1056.8,987.4 1059.9,987.4 1063.0,987.4 1066.0,987.4 1069.2,987.5 1072.3,987.7 1075.4,987.8 1078.6,988.1 1081.7,988.3 1084.9,988.6 1088.1,989.0 1091.3,989.4 1094.6,989.8 1097.8,990.2 1101.1,990.6 1104.3,991.0 1107.6,991.4 1110.9,991.7 1114.3,992.0 1117.6,992.2 1121.0,992.3 1124.3,992.3 1127.7,992.1 1131.1,991.7 1134.5,991.1 1138.0,990.2 1141.4,989.0 1144.9,987.5 1148.4,985.5 1151.9,983.0 1155.4,980.0 1159.0,976.1 1162.5,971.4 1166.1,965.8 1169.7,959.1 1173.3,951.5 1176.9,942.9 1180.6,933.0 1184.2,921.6" fill="none" stroke="#0000FF" stroke-width="13.0" stroke-linecap="round" stroke-linejoin="round"/>
<circle cx="1187.9" cy="908.1" r="6.5" fill="#0000FF"/>
<circle cx="1191.6" cy="892.2" r="6.5" fill="#0000FF"/>
<circle cx="1195.3" cy="874.0" r="6.5" fill="#0000FF"/>
<circle cx="1199.1" cy="854.4" r="6.5" fill="#0000FF"/>
<circle cx="1202.8" cy="833.6" r="6.5" fill="#0000FF"/>
<circle cx="1206.6" cy="811.5" r="6.5" fill="#0000FF"/>
<circle cx="1210.4" cy="788.2" r="6.5" fill="#0000FF"/>
<circle cx="1214.2" cy="763.9" r="6.5" fill="#0000FF"/>
<circle cx="1218.1" cy="738.6" r="6.5" fill="#0000FF"/>
<circle cx="1221.9" cy="712.7" r="6.5" fill="#0000FF"/>
<circle cx="1225.8" cy="686.6" r="6.5" fill="#0000FF"/>
<circle cx="1229.7" cy="660.9" r="6.5" fill="#0000FF"/>
<circle cx="1233.6" cy="635.9" r="6.5" fill="#0000FF"/>
<circle cx="1237.6" cy="612.0" r="6.5" fill="#0000FF"/>
<circle cx="1241.5" cy="589.5" r="6.5" fill="#0000FF"/>
<circle cx="1245.5" cy="568.3" r="6.5" fill="#0000FF"/>
<circle cx="1249.5" cy="548.4" r="6.5" fill="#0000FF"/>
<circle cx="1253.5" cy="529.8" r="6.5" fill="#0000FF"/>
<circle cx="1257.6" cy="512.4" r="6.5" fill="#0000FF"/>
<circle cx="1261.6" cy="496.1" r="6.5" fill="#0000FF"/>
<circle cx="1265.7" cy="480.7" r="6.5" fill="#0000FF"/>
<circle cx="1269.8" cy="466.1" r="6.5" fill="#0000FF"/>
<circle cx="1274.0" cy="452.4" r="6.5" fill="#0000FF"/>
<polyline points="1278.1,439.4 1282.3,427.1 1286.5,415.3 1290.7,404.3 1295.0,394.1 1299.2,384.6 1303.5,375.3 1307.8,366.3 1312.2,357.3 1316.5,348.2 1320.9,338.9 1325.3,329.0 1329.8,318.5 1334.2,307.5 1338.7,296.4 1343.2,285.6 1347.7,275.5 1352.3,266.2 1356.9,257.8" fill="none" stroke="#0000FF" stroke-width="13.0" stroke-linecap="round" stroke-linejoin="round"/>
<polyline points="193.7,1149.2 195.2,1148.3 196.7,1147.4 198.2,1146.4 199.8,1145.5 201.3,1144.6 202.9,1143.7 204.4,1142.8 206.0,1141.9 207.6,1141.0 209.2,1140.1 210.4,1139.4 211.6,1138.8 212.8,1138.1 214.0,1137.4 215.3,1136.8 216.5,1136.1 217.7,1135.5 219.0,1134.8 220.2,1134.2 221.5,1133.6 222.8,1132.9 224.0,1132.3 225.3,1131.7 226.6,1131.0 227.9,1130.4 229.2,1129.8 230.5,1129.1 231.8,1128.5 233.1,1127.9 234.5,1127.3 235.8,1126.7 237.1,1126.0 238.5,1125.4 239.8,1124.8 241.2,1124.2 242.6,1123.6 244.0,1123.0 245.3,1122.4 246.7,1121.8 248.1,1121.2 249.5,1120.6 251.0,1120.0 252.4,1119.4 253.8,1118.8 255.2,1118.2 256.7,1117.6 258.1,1117.0 259.6,1116.4 261.1,1115.9 262.6,1115.3 264.0,1114.7 265.5,1114.1 267.0,1113.5 268.5,1112.9 270.1,1112.3 271.6,1111.8 273.1,1111.2 274.7,1110.6 276.2,1110.0 277.8,1109.4 279.4,1108.8 281.0,1108.2 282.5,1107.6 284.1,1107.0 285.8,1106.4 287.4,1105.8 289.0,1105.2 290.6,1104.6 292.3,1104.0 293.9,1103.4 295.6,1102.7 297.3,1102.1 299.0,1101.4 300.7,1100.8 302.4,1100.1 304.1,1099.4 305.8,1098.7 307.6,1098.0 309.3,1097.3 311.1,1096.6 312.8,1095.9 314.6,1095.1 316.4,1094.3 317.6,1093.8 318.8,1093.3 320.0,1092.7 321.2,1092.2 322.5,1091.7 323.7,1091.1 324.9,1090.6 326.1,1090.0 327.4,1089.4 328.6,1088.9 329.9,1088.3 331.1,1087.7 332.4,1087.2 333.7,1086.6 334.9,1086.0 336.2,1085.4 337.5,1084.8 338.8,1084.2 340.1,1083.6 341.4,1083.1 342.7,1082.5 344.0,1081.9 345.3,1081.3 346.6,1080.7 348.0,1080.1 349.3,1079.5 350.6,1078.9 352.0,1078.4 353.3,1077.8 354.7,1077.2 356.0,1076.6 357.4,1076.1 358.8,1075.5 360.2,1074.9 361.5,1074.4 362.9,1073.8 364.3,1073.3 365.7,1072.8 367.1,1072.2 368.6,1071.7 370.0,1071.2 371.4,1070.7 372.8,1070.2 374.3,1069.7 375.7,1069.2 377.2,1068.7 378.7,1068.2 380.1,1067.8 381.6,1067.3 383.1,1066.8 384.6,1066.4 386.1,1065.9 387.6,1065.5 389.1,1065.0 390.6,1064.6 392.1,1064.2 393.6,1063.8 395.2,1063.3 396.7,1062.9 398.3,1062.5 399.8,1062.1 401.4,1061.7 403.0,1061.3 404.6,1060.9 406.1,1060.6 407.7,1060.2 409.3,1059.8 410.9,1059.4 412.6,1059.1 414.2,1058.7 415.8,1058.4 417.5,1058.0 419.1,1057.7 420.8,1057.3 422.4,1057.0 424.1,1056.6 425.8,1056.3 427.5,1056.0 429.2,1055.7 430.9,1055.3 432.6,1055.0 434.3,1054.7 436.1,1054.4 437.8,1054.1 439.5,1053.8 441.3,1053.5 443.1,1053.2 444.8,1052.9 446.6,1052.6 448.4,1052.3 450.2,1052.0 452.0,1051.7 453.8,1051.4 455.7,1051.2 457.5,1050.9 459.4,1050.6 461.2,1050.3 463.1,1050.0 465.0,1049.8 466.8,1049.5 468.7,1049.2 470.6,1048.9 472.6,1048.7 474.5,1048.4 476.4,1048.1 478.4,1047.8 480.3,1047.6 482.3,1047.3 484.2,1047.0 486.2,1046.8 488.2,1046.5 490.2,1046.3 492.2,1046.0 494.3,1045.7 496.3,1045.5 498.4,1045.2 500.4,1045.0 502.5,1044.7 504.6,1044.5 506.7,1044.2 508.8,1044.0 510.9,1043.8 513.0,1043.5 515.2,1043.3 517.3,1043.0 519.5,1042.8 521.6,1042.6 523.8,1042.4 526.0,1042.2 528.2,1041.9 530.5,1041.7 532.7,1041.5 534.9,1041.3 537.2,1041.1 539.5,1040.9 541.8,1040.7 544.1,1040.5 546.4,1040.3 548.7,1040.2 551.0,1040.0 553.4,1039.8 555.8,1039.7 558.1,1039.5 560.5,1039.3 561.7,1039.3 562.9,1039.2 564.2,1039.1 565.4,1039.0 566.6,1039.0 567.8,1038.9 569.0,1038.8 570.2,1038.8 571.5,1038.7 572.7,1038.6 574.0,1038.6 575.2,1038.5 576.4,1038.5 577.7,1038.4 578.9,1038.4 580.2,1038.3 581.5,1038.2 582.7,1038.2 584.0,1038.1 585.3,1038.1 586.5,1038.0 587.8,1038.0 589.1,1037.9 590.4,1037.9 591.7,1037.8 593.0,1037.8 594.3,1037.8 595.6,1037.7 596.9,1037.7 598.2,1037.6 599.5,1037.6 600.8,1037.5 602.1,1037.5 603.4,1037.5 604.8,1037.4 606.1,1037.4 607.4,1037.3 608.8,1037.3 610.1,1037.3 611.5,1037.2 612.8,1037.2 614.2,1037.2 615.5,1037.1 616.9,1037.1 618.3,1037.0 619.7,1037.0 621.0,1037.0 622.4,1036.9 623.8,1036.9 625.2,1036.9 626.6,1036.8 628.0,1036.8 629.4,1036.7 630.8,1036.7 632.2,1036.7 633.6,1036.6 635.1,1036.6 636.5,1036.5 637.9,1036.5 639.4,1036.5 640.8,1036.4 642.2,1036.4 643.7,1036.3 645.2,1036.3 646.6,1036.2 648.1,1036.2 649.5,1036.1 651.0,1036.1 652.5,1036.0 654.0,1036.0 655.5,1035.9 657.0,1035.9 658.5,1035.8 660.0,1035.7 661.5,1035.7 663.0,1035.6 664.5,1035.6 666.0,1035.5 667.5,1035.4 669.1,1035.4 670.6,1035.3 672.1,1035.2 673.7,1035.1 675.2,1035.0 676.8,1035.0 678.4,1034.9 679.9,1034.8 681.5,1034.7 683.1,1034.6 684.7,1034.5 686.2,1034.5 687.8,1034.4 689.4,1034.3 691.0,1034.2 692.6,1034.1 694.3,1034.0 695.9,1033.9 697.5,1033.8 699.1,1033.7 700.8,1033.6 702.4,1033.5 704.1,1033.4 705.7,1033.3 707.4,1033.2 709.0,1033.1 710.7,1033.0 712.4,1032.9 714.1,1032.8 715.7,1032.7 717.4,1032.6 719.1,1032.5 720.8,1032.4 722.6,1032.2 724.3,1032.1 726.0,1032.0 727.7,1031.9 729.5,1031.8 731.2,1031.7 732.9,1031.6 734.7,1031.5 736.5,1031.4 738.2,1031.3 740.0,1031.2 741.8,1031.1 743.5,1031.0 745.3,1030.9 747.1,1030.8 748.9,1030.7 750.7,1030.6 752.6,1030.5 754.4,1030.4 756.2,1030.3 758.0,1030.2 759.9,1030.2 761.7,1030.1 763.6,1030.0 765.4,1029.9 767.3,1029.8 769.2,1029.7 771.1,1029.7 773.0,1029.6 774.8,1029.5 776.8,1029.5 778.7,1029.4 780.6,1029.3 782.5,1029.3 784.4,1029.2 786.4,1029.2 788.3,1029.1 790.3,1029.1 792.2,1029.1 794.2,1029.0 796.2,1029.0 798.1,1029.0 800.1,1028.9 802.1,1028.9 804.1,1028.9 806.1,1028.9 808.1,1028.9 810.2,1028.9 812.2,1028.9 814.2,1028.9 816.3,1028.8 818.3,1028.8 820.4,1028.8 822.5,1028.8 824.6,1028.8 826.6,1028.8 828.7,1028.8 830.8,1028.8 833.0,1028.8 835.1,1028.7 837.2,1028.7 839.3,1028.7 841.5,1028.7 843.6,1028.6 845.8,1028.6 848.0,1028.6 850.1,1028.5 852.3,1028.5 854.5,1028.4 856.7,1028.4 858.9,1028.3 861.2,1028.2 863.4,1028.1 865.6,1028.0 867.9,1027.9 870.1,1027.8 872.4,1027.7 874.7,1027.5 876.9,1027.4 879.2,1027.2 881.5,1027.1 883.8,1026.9 886.2,1026.7 888.5,1026.4 890.8,1026.2 893.2,1026.0 895.5,1025.7 897.9,1025.4 900.3,1025.1 902.7,1024.8 905.1,1024.5 907.5,1024.2 909.9,1023.8 912.3,1023.5 914.7,1023.1 917.2,1022.7 919.6,1022.3 922.1,1021.9 924.6,1021.5 927.1,1021.1 929.6,1020.7 932.1,1020.2 934.6,1019.8 937.1,1019.3 939.6,1018.8 942.2,1018.3 944.8,1017.9 947.3,1017.4 949.9,1016.9 952.5,1016.4 955.1,1015.9 957.7,1015.4 960.3,1014.8 963.0,1014.3 965.6,1013.8 968.3,1013.3 971.0,1012.8 973.6,1012.2 976.3,1011.7 979.0,1011.2 981.8,1010.7 984.5,1010.2 987.2,1009.7 990.0,1009.2 992.7,1008.7 995.5,1008.2 998.3,1007.7 1001.1,1007.2 1003.9,1006.8 1006.8,1006.3 1009.6,1005.9 1012.4,1005.5 1015.3,1005.1 1018.2,1004.7 1021.1,1004.4 1024.0,1004.0 1026.9,1003.7 1029.8,1003.4 1032.8,1003.2 1035.7,1002.9 1038.7,1002.7 1041.7,1002.6 1044.7,1002.4 1047.7,1002.3 1050.7,1002.3 1053.8,1002.2 1056.8,1002.3 1059.9,1002.3 1063.0,1002.4 1066.0,1002.6 1069.2,1002.8 1072.3,1003.1 1075.4,1003.4 1078.6,1003.7 1081.7,1004.1 1084.9,1004.6 1088.1,1005.2 1091.3,1005.8 1094.6,1006.4 1097.8,1007.2 1101.1,1008.0 1104.3,1008.8 1107.6,1009.7 1110.9,1010.5 1114.3,1011.4 1117.6,1012.2 1121.0,1012.9 1124.3,1013.6 1127.7,1014.1 1131.1,1014.5 1134.5,1014.7 1138.0,1014.7 1141.4,1014.4 1144.9,1013.8 1148.4,1012.9 1151.9,1011.6 1155.4,1009.9 1159.0,1007.6 1162.5,1004.7 1166.1,1001.1 1169.7,996.7 1173.3,991.4 1176.9,985.1 1180.6,977.9 1184.2,969.6 1187.9,960.3 1191.6,949.9 1195.3,938.0" fill="none" stroke="#000000" stroke-width="13.0" stroke-linecap="round" stroke-linejoin="round"/>
<circle cx="1199.1" cy="924.3" r="6.5" fill="#000000"/>
<circle cx="1202.8" cy="908.6" r="6.5" fill="#000000"/>
<circle cx="1206.6" cy="890.8" r="6.5" fill="#000000"/>
<circle cx="1210.4" cy="871.5" r="6.5" fill="#000000"/>
<circle cx="1214.2" cy="850.8" r="6.5" fill="#000000"/>
<circle cx="1218.1" cy="828.7" r="6.5" fill="#000000"/>
<circle cx="1221.9" cy="805.2" r="6.5" fill="#000000"/>
<circle cx="1225.8" cy="780.5" r="6.5" fill="#000000"/>
<circle cx="1229.7" cy="755.1" r="6.5" fill="#000000"/>
<circle cx="1233.6" cy="729.4" r="6.5" fill="#000000"/>
<circle cx="1237.6" cy="703.8" r="6.5" fill="#000000"/>
<circle cx="1241.5" cy="678.8" r="6.5" fill="#000000"/>
<circle cx="1245.5" cy="654.7" r="6.5" fill="#000000"/>
<circle cx="1249.5" cy="631.5" r="6.5" fill="#000000"/>
<circle cx="1253.5" cy="609.5" r="6.5" fill="#000000"/>
<circle cx="1257.6" cy="588.6" r="6.5" fill="#000000"/>
<circle cx="1261.6" cy="568.8" r="6.5" fill="#000000"/>
<circle cx="1265.7" cy="550.1" r="6.5" fill="#000000"/>
<circle cx="1269.8" cy="532.4" r="6.5" fill="#000000"/>
<circle cx="1274.0" cy="515.6" r="6.5" fill="#000000"/>
<circle cx="1278.1" cy="499.7" r="6.5" fill="#000000"/>
<circle cx="1282.3" cy="484.6" r="6.5" fill="#000000"/>
<circle cx="1286.5" cy="470.2" r="6.5" fill="#000000"/>
<circle cx="1290.7" cy="456.5" r="6.5" fill="#000000"/>
<polyline points="1295.0,443.3 1299.2,430.7 1303.5,418.4 1307.8,406.5 1312.2,394.7 1316.5,383.1 1320.9,371.5 1325.3,360.0 1329.8,348.5 1334.2,336.8 1338.7,325.0 1343.2,313.1 1347.7,300.8 1352.3,288.2" fill="none" stroke="#000000" stroke-width="13.0" stroke-linecap="round" stroke-linejoin="round"/>
<circle cx="1356.9" cy="275.1" r="6.5" fill="#000000"/>
<polyline points="193.7,2311.2 195.2,2310.9 196.7,2310.7 198.2,2310.4 199.8,2310.2 201.3,2310.0 202.9,2309.7 204.4,2309.5 206.0,2309.3 207.6,2309.1 209.2,2308.8 210.4,2308.7 211.6,2308.5 212.8,2308.3 214.0,2308.2 215.3,2308.0 216.5,2307.9 217.7,2307.7 219.0,2307.5 220.2,2307.4 221.5,2307.2 222.8,2307.1 224.0,2306.9 225.3,2306.8 226.6,2306.6 227.9,2306.5 229.2,2306.3 230.5,2306.2 231.8,2306.0 233.1,2305.9 234.5,2305.7 235.8,2305.6 237.1,2305.4 238.5,2305.3 239.8,2305.1 241.2,2305.0 242.6,2304.8 244.0,2304.7 245.3,2304.5 246.7,2304.4 248.1,2304.2 249.5,2304.1 251.0,2303.9 252.4,2303.8 253.8,2303.6 255.2,2303.5 256.7,2303.3 258.1,2303.2 259.6,2303.0 261.1,2302.9 262.6,2302.7 264.0,2302.6 265.5,2302.4 267.0,2302.3 268.5,2302.1 270.1,2301.9 271.6,2301.8 273.1,2301.6 274.7,2301.4 276.2,2301.3 277.8,2301.1 279.4,2300.9 281.0,2300.7 282.5,2300.5 284.1,2300.4 285.8,2300.2 287.4,2300.0 289.0,2299.8 290.6,2299.6 292.3,2299.4 293.9,2299.1 295.6,2298.9 297.3,2298.7 299.0,2298.5 300.7,2298.3 302.4,2298.0 304.1,2297.8 305.8,2297.5 307.6,2297.3 309.3,2297.0 311.1,2296.7 312.8,2296.5 314.6,2296.2 316.4,2295.9 317.6,2295.7 318.8,2295.5 320.0,2295.3 321.2,2295.1 322.5,2294.8 323.7,2294.6 324.9,2294.4 326.1,2294.2 327.4,2293.9 328.6,2293.7 329.9,2293.5 331.1,2293.2 332.4,2292.9 333.7,2292.7 334.9,2292.4 336.2,2292.2 337.5,2291.9 338.8,2291.6 340.1,2291.3 341.4,2291.0 342.7,2290.7 344.0,2290.4 345.3,2290.1 346.6,2289.8 348.0,2289.4 349.3,2289.1 350.6,2288.8 352.0,2288.4 353.3,2288.1 354.7,2287.7 356.0,2287.3 357.4,2286.9 358.8,2286.5 360.2,2286.1 361.5,2285.7 362.9,2285.3 364.3,2284.9 365.7,2284.4 367.1,2284.0 368.6,2283.5 370.0,2283.1 371.4,2282.6 372.8,2282.1 374.3,2281.6 375.7,2281.1 377.2,2280.5 378.7,2280.0 380.1,2279.5 381.6,2278.9 383.1,2278.3 384.6,2277.7 386.1,2277.1 387.6,2276.5 389.1,2275.9 390.6,2275.2 392.1,2274.6 393.6,2273.9 395.2,2273.2 396.7,2272.5 398.3,2271.7 399.8,2271.0 401.4,2270.2 403.0,2269.5 404.6,2268.7 406.1,2267.8 407.7,2267.0 409.3,2266.1 410.9,2265.3 412.6,2264.4 414.2,2263.4 415.8,2262.5 417.5,2261.5 419.1,2260.5 420.8,2259.5 422.4,2258.5 424.1,2257.4 425.8,2256.4 427.5,2255.3 429.2,2254.1 430.9,2253.0 432.6,2251.8 434.3,2250.7 436.1,2249.5 437.8,2248.2 439.5,2247.0 441.3,2245.7 443.1,2244.5 444.8,2243.2 446.6,2241.9 448.4,2240.5 450.2,2239.2 452.0,2237.9 453.8,2236.5 455.7,2235.1 457.5,2233.7 459.4,2232.4 461.2,2231.0 463.1,2229.6 465.0,2228.2 466.8,2226.8 468.7,2225.4 470.6,2224.0 472.6,2222.6 474.5,2221.2 476.4,2219.8 478.4,2218.4 480.3,2217.1 482.3,2215.7 484.2,2214.4 486.2,2213.0 488.2,2211.7 490.2,2210.4 492.2,2209.0 494.3,2207.7 496.3,2206.4 498.4,2205.1 500.4,2203.8 502.5,2202.5 504.6,2201.1 506.7,2199.8 508.8,2198.5 510.9,2197.2 513.0,2195.8 515.2,2194.5 517.3,2193.1 519.5,2191.8 521.6,2190.4 523.8,2189.0 526.0,2187.6 528.2,2186.2 530.5,2184.8 532.7,2183.4 534.9,2181.9 537.2,2180.5 539.5,2179.0 541.8,2177.5 544.1,2176.0 546.4,2174.5 548.7,2173.0 551.0,2171.5 553.4,2169.9 555.8,2168.4 558.1,2166.8 560.5,2165.2 561.7,2164.4 562.9,2163.6 564.2,2162.8 565.4,2162.0 566.6,2161.2 567.8,2160.4 569.0,2159.6 570.2,2158.8 571.5,2157.9 572.7,2157.1 574.0,2156.3 575.2,2155.5 576.4,2154.6 577.7,2153.8 578.9,2153.0 580.2,2152.1 581.5,2151.3 582.7,2150.4 584.0,2149.6 585.3,2148.7 586.5,2147.9 587.8,2147.0 589.1,2146.1 590.4,2145.3 591.7,2144.4 593.0,2143.5 594.3,2142.6 595.6,2141.8 596.9,2140.9 598.2,2140.0 599.5,2139.1 600.8,2138.2 602.1,2137.3 603.4,2136.4 604.8,2135.5 606.1,2134.6 607.4,2133.7 608.8,2132.8 610.1,2131.9 611.5,2131.0 612.8,2130.0 614.2,2129.1 615.5,2128.2 616.9,2127.3 618.3,2126.3 619.7,2125.4 621.0,2124.5 622.4,2123.5 623.8,2122.6 625.2,2121.6 626.6,2120.7 628.0,2119.7 629.4,2118.8 630.8,2117.8 632.2,2116.8 633.6,2115.9 635.1,2114.9 636.5,2113.9 637.9,2113.0 639.4,2112.0 640.8,2111.0 642.2,2110.0 643.7,2109.1 645.2,2108.1 646.6,2107.1 648.1,2106.1 649.5,2105.1 651.0,2104.1 652.5,2103.1 654.0,2102.1 655.5,2101.1 657.0,2100.1 658.5,2099.1 660.0,2098.1 661.5,2097.0 663.0,2096.0 664.5,2095.0 666.0,2094.0 667.5,2093.0 669.1,2091.9 670.6,2090.9 672.1,2089.9 673.7,2088.8 675.2,2087.8 676.8,2086.8 678.4,2085.7 679.9,2084.7 681.5,2083.6 683.1,2082.6 684.7,2081.5 686.2,2080.5 687.8,2079.4 689.4,2078.4 691.0,2077.3 692.6,2076.3 694.3,2075.2 695.9,2074.1 697.5,2073.1 699.1,2072.0 700.8,2070.9 702.4,2069.9 704.1,2068.8 705.7,2067.7 707.4,2066.6 709.0,2065.6 710.7,2064.5 712.4,2063.4 714.1,2062.3 715.7,2061.2 717.4,2060.2 719.1,2059.1 720.8,2058.0 722.6,2056.9 724.3,2055.8 726.0,2054.7 727.7,2053.6 729.5,2052.5 731.2,2051.5 732.9,2050.4 734.7,2049.3 736.5,2048.2 738.2,2047.1 740.0,2046.0 741.8,2044.9 743.5,2043.8 745.3,2042.7 747.1,2041.6 748.9,2040.5 750.7,2039.4 752.6,2038.3 754.4,2037.2 756.2,2036.1 758.0,2035.0 759.9,2033.9 761.7,2032.8 763.6,2031.7 765.4,2030.6 767.3,2029.5 769.2,2028.4 771.1,2027.3 773.0,2026.2 774.8,2025.1 776.8,2024.0 778.7,2022.9 780.6,2021.8 782.5,2020.6 784.4,2019.5 786.4,2018.4 788.3,2017.3 790.3,2016.2 792.2,2015.1 794.2,2013.9 796.2,2012.8 798.1,2011.7 800.1,2010.5 802.1,2009.4 804.1,2008.3 806.1,2007.1 808.1,2006.0 810.2,2004.8 812.2,2003.7 814.2,2002.5 816.3,2001.3 818.3,2000.1 820.4,1999.0 822.5,1997.8 824.6,1996.6 826.6,1995.4 828.7,1994.2 830.8,1993.0 833.0,1991.7 835.1,1990.5 837.2,1989.3 839.3,1988.0 841.5,1986.8 843.6,1985.5 845.8,1984.2 848.0,1983.0 850.1,1981.7 852.3,1980.4 854.5,1979.1 856.7,1977.7 858.9,1976.4 861.2,1975.0 863.4,1973.7 865.6,1972.3 867.9,1970.9 870.1,1969.5 872.4,1968.1 874.7,1966.7 876.9,1965.2 879.2,1963.8 881.5,1962.3 883.8,1960.8 886.2,1959.3 888.5,1957.7 890.8,1956.2 893.2,1954.6 895.5,1953.0 897.9,1951.4 900.3,1949.8 902.7,1948.1 905.1,1946.5 907.5,1944.8 909.9,1943.0 912.3,1941.3 914.7,1939.5 917.2,1937.7 919.6,1935.8 922.1,1934.0 924.6,1932.1 927.1,1930.1 929.6,1928.2 932.1,1926.2 934.6,1924.1 937.1,1922.1 939.6,1920.0 942.2,1917.8 944.8,1915.6 947.3,1913.4 949.9,1911.1 952.5,1908.8 955.1,1906.4 957.7,1903.9 960.3,1901.5 963.0,1899.0 965.6,1896.4 968.3,1893.9 971.0,1891.3 973.6,1888.7 976.3,1886.1 979.0,1883.6 981.8,1881.0 984.5,1878.5 987.2,1875.9 990.0,1873.5 992.7,1871.0 995.5,1868.7 998.3,1866.4 1001.1,1864.1 1003.9,1861.9 1006.8,1859.8 1009.6,1857.7 1012.4,1855.7 1015.3,1853.8 1018.2,1851.9 1021.1,1850.0 1024.0,1848.3 1026.9,1846.5 1029.8,1844.8 1032.8,1843.2 1035.7,1841.6 1038.7,1840.0 1041.7,1838.5 1044.7,1837.0 1047.7,1835.6 1050.7,1834.2 1053.8,1832.8 1056.8,1831.4 1059.9,1830.1 1063.0,1828.8 1066.0,1827.6 1069.2,1826.4 1072.3,1825.1 1075.4,1824.0 1078.6,1822.8 1081.7,1821.7 1084.9,1820.5 1088.1,1819.4 1091.3,1818.3 1094.6,1817.3 1097.8,1816.2 1101.1,1815.1 1104.3,1814.0 1107.6,1812.9 1110.9,1811.8 1114.3,1810.7 1117.6,1809.6 1121.0,1808.4 1124.3,1807.2 1127.7,1806.0 1131.1,1804.7 1134.5,1803.4 1138.0,1802.0 1141.4,1800.6 1144.9,1799.2 1148.4,1797.6 1151.9,1796.0 1155.4,1794.3 1159.0,1792.4 1162.5,1790.5 1166.1,1788.5 1169.7,1786.3 1173.3,1784.1 1176.9,1781.7 1180.6,1779.1 1184.2,1776.4 1187.9,1773.5 1191.6,1770.5 1195.3,1767.3 1199.1,1763.8 1202.8,1760.2 1206.6,1756.3 1210.4,1752.2 1214.2,1747.9 1218.1,1743.4 1221.9,1738.7 1225.8,1733.7 1229.7,1728.5 1233.6,1723.0 1237.6,1717.2 1241.5,1711.2 1245.5,1704.9 1249.5,1698.3 1253.5,1691.5 1257.6,1684.4 1261.6,1677.2 1265.7,1669.7 1269.8,1662.0 1274.0,1654.3 1278.1,1646.4 1282.3,1638.5 1286.5,1630.6 1290.7,1622.7 1295.0,1615.1 1299.2,1607.7 1303.5,1600.7 1307.8,1594.1 1312.2,1587.9 1316.5,1582.1 1320.9,1576.7 1325.3,1571.8 1329.8,1567.2 1334.2,1563.0 1338.7,1559.2 1343.2,1555.7 1347.7,1552.4 1352.3,1549.5 1356.9,1546.8" fill="none" stroke="#000000" stroke-width="10.8" stroke-linecap="round" stroke-linejoin="round"/>
<polyline points="193.7,2311.2 195.2,2310.9 196.7,2310.7 198.2,2310.4 199.8,2310.2 201.3,2310.0 202.9,2309.7 204.4,2309.5 206.0,2309.3 207.6,2309.1 209.2,2308.8 210.4,2308.7 211.6,2308.5 212.8,2308.3 214.0,2308.2 215.3,2308.0 216.5,2307.9 217.7,2307.7 219.0,2307.5 220.2,2307.4 221.5,2307.2 222.8,2307.1 224.0,2306.9 225.3,2306.8 226.6,2306.6 227.9,2306.5 229.2,2306.3 230.5,2306.2 231.8,2306.0 233.1,2305.9 234.5,2305.7 235.8,2305.6 237.1,2305.4 238.5,2305.3 239.8,2305.1 241.2,2305.0 242.6,2304.8 244.0,2304.7 245.3,2304.5 246.7,2304.4 248.1,2304.2 249.5,2304.1 251.0,2303.9 252.4,2303.8 253.8,2303.6 255.2,2303.5 256.7,2303.3 258.1,2303.2 259.6,2303.0 261.1,2302.9 262.6,2302.7 264.0,2302.6 265.5,2302.4 267.0,2302.3 268.5,2302.1 270.1,2301.9 271.6,2301.8 273.1,2301.6 274.7,2301.4 276.2,2301.3 277.8,2301.1 279.4,2300.9 281.0,2300.7 282.5,2300.5 284.1,2300.4 285.8,2300.2 287.4,2300.0 289.0,2299.8 290.6,2299.6 292.3,2299.4 293.9,2299.1 295.6,2298.9 297.3,2298.7 299.0,2298.5 300.7,2298.3 302.4,2298.0 304.1,2297.8 305.8,2297.5 307.6,2297.3 309.3,2297.0 311.1,2296.7 312.8,2296.5 314.6,2296.2 316.4,2295.9 317.6,2295.7 318.8,2295.5 320.0,2295.3 321.2,2295.1 322.5,2294.8 323.7,2294.6 324.9,2294.4 326.1,2294.2 327.4,2293.9 328.6,2293.7 329.9,2293.5 331.1,2293.2 332.4,2292.9 333.7,2292.7 334.9,2292.4 336.2,2292.2 337.5,2291.9 338.8,2291.6 340.1,2291.3 341.4,2291.0 342.7,2290.7 344.0,2290.4 345.3,2290.1 346.6,2289.8 348.0,2289.4 349.3,2289.1 350.6,2288.8 352.0,2288.4 353.3,2288.1 354.7,2287.7 356.0,2287.3 357.4,2286.9 358.8,2286.5 360.2,2286.1 361.5,2285.7 362.9,2285.3 364.3,2284.9 365.7,2284.4 367.1,2284.0 368.6,2283.5 370.0,2283.1 371.4,2282.6 372.8,2282.1 374.3,2281.6 375.7,2281.1 377.2,2280.5 378.7,2280.0 380.1,2279.5 381.6,2278.9 383.1,2278.3 384.6,2277.7" fill="none" stroke="#000000" stroke-width="12.4" stroke-linecap="round" stroke-linejoin="round"/>
<polyline points="193.7,2389.3 195.2,2389.3 196.7,2389.3 198.2,2389.3 199.8,2389.3 201.3,2389.2 202.9,2389.2 204.4,2389.2 206.0,2389.2 207.6,2389.2 209.2,2389.2 210.4,2389.2 211.6,2389.1 212.8,2389.1 214.0,2389.1 215.3,2389.1 216.5,2389.1 217.7,2389.1 219.0,2389.1 220.2,2389.1 221.5,2389.1 222.8,2389.1 224.0,2389.0 225.3,2389.0 226.6,2389.0 227.9,2389.0 229.2,2389.0 230.5,2389.0 231.8,2389.0 233.1,2389.0 234.5,2389.0 235.8,2389.0 237.1,2388.9 238.5,2388.9 239.8,2388.9 241.2,2388.9 242.6,2388.9 244.0,2388.9 245.3,2388.9 246.7,2388.9 248.1,2388.9 249.5,2388.8 251.0,2388.8 252.4,2388.8 253.8,2388.8 255.2,2388.8 256.7,2388.8 258.1,2388.8 259.6,2388.8 261.1,2388.8 262.6,2388.7 264.0,2388.7 265.5,2388.7 267.0,2388.7 268.5,2388.7 270.1,2388.7 271.6,2388.7 273.1,2388.6 274.7,2388.6 276.2,2388.6 277.8,2388.6 279.4,2388.6 281.0,2388.6 282.5,2388.5 284.1,2388.5 285.8,2388.5 287.4,2388.5 289.0,2388.5 290.6,2388.4 292.3,2388.4 293.9,2388.4 295.6,2388.4 297.3,2388.4 299.0,2388.3 300.7,2388.3 302.4,2388.3 304.1,2388.3 305.8,2388.2 307.6,2388.2 309.3,2388.2 311.1,2388.1 312.8,2388.1 314.6,2388.1 316.4,2388.0 317.6,2388.0 318.8,2388.0 320.0,2388.0 321.2,2388.0 322.5,2387.9 323.7,2387.9 324.9,2387.9 326.1,2387.8 327.4,2387.8 328.6,2387.8 329.9,2387.8 331.1,2387.7 332.4,2387.7 333.7,2387.7 334.9,2387.6 336.2,2387.6 337.5,2387.6 338.8,2387.5 340.1,2387.5 341.4,2387.5 342.7,2387.4 344.0,2387.4 345.3,2387.4 346.6,2387.3 348.0,2387.3 349.3,2387.2 350.6,2387.2 352.0,2387.2 353.3,2387.1 354.7,2387.1 356.0,2387.0 357.4,2387.0 358.8,2386.9 360.2,2386.9 361.5,2386.8 362.9,2386.8 364.3,2386.7 365.7,2386.7 367.1,2386.6 368.6,2386.6 370.0,2386.5 371.4,2386.5 372.8,2386.4 374.3,2386.4 375.7,2386.3 377.2,2386.2 378.7,2386.2 380.1,2386.1 381.6,2386.0 383.1,2386.0 384.6,2385.9 386.1,2385.8 387.6,2385.7 389.1,2385.7 390.6,2385.6 392.1,2385.5 393.6,2385.4 395.2,2385.4 396.7,2385.3 398.3,2385.2 399.8,2385.1 401.4,2385.0 403.0,2384.9 404.6,2384.8 406.1,2384.7 407.7,2384.6 409.3,2384.6 410.9,2384.4 412.6,2384.3 414.2,2384.2 415.8,2384.1 417.5,2384.0 419.1,2383.9 420.8,2383.8 422.4,2383.7 424.1,2383.6 425.8,2383.4 427.5,2383.3 429.2,2383.2 430.9,2383.1 432.6,2382.9 434.3,2382.8 436.1,2382.7 437.8,2382.5 439.5,2382.4 441.3,2382.2 443.1,2382.1 444.8,2381.9 446.6,2381.8 448.4,2381.6 450.2,2381.5 452.0,2381.3 453.8,2381.1 455.7,2380.9 457.5,2380.8 459.4,2380.6 461.2,2380.4 463.1,2380.2 465.0,2380.0 466.8,2379.8 468.7,2379.6 470.6,2379.4 472.6,2379.2 474.5,2379.0 476.4,2378.8 478.4,2378.6 480.3,2378.3 482.3,2378.1 484.2,2377.9 486.2,2377.6 488.2,2377.4 490.2,2377.1 492.2,2376.9 494.3,2376.6 496.3,2376.4 498.4,2376.1 500.4,2375.8 502.5,2375.5 504.6,2375.2 506.7,2374.9 508.8,2374.6 510.9,2374.3 513.0,2374.0 515.2,2373.7 517.3,2373.4 519.5,2373.1 521.6,2372.7 523.8,2372.4 526.0,2372.0 528.2,2371.7 530.5,2371.3 532.7,2371.0 534.9,2370.6 537.2,2370.2 539.5,2369.8 541.8,2369.4 544.1,2369.0 546.4,2368.6 548.7,2368.2 551.0,2367.7 553.4,2367.3 555.8,2366.9 558.1,2366.4 560.5,2366.0 561.7,2365.7 562.9,2365.5 564.2,2365.2 565.4,2365.0 566.6,2364.8 567.8,2364.5 569.0,2364.3 570.2,2364.0 571.5,2363.8 572.7,2363.5 574.0,2363.3 575.2,2363.0 576.4,2362.7 577.7,2362.5 578.9,2362.2 580.2,2362.0 581.5,2361.7 582.7,2361.4 584.0,2361.1 585.3,2360.9 586.5,2360.6 587.8,2360.3 589.1,2360.0 590.4,2359.7 591.7,2359.4 593.0,2359.1 594.3,2358.8 595.6,2358.5 596.9,2358.2 598.2,2357.9 599.5,2357.6 600.8,2357.3 602.1,2356.9 603.4,2356.6 604.8,2356.3 606.1,2355.9 607.4,2355.6 608.8,2355.2 610.1,2354.8 611.5,2354.5 612.8,2354.1 614.2,2353.7 615.5,2353.3 616.9,2352.9 618.3,2352.5 619.7,2352.1 621.0,2351.7 622.4,2351.3 623.8,2350.9 625.2,2350.4 626.6,2350.0 628.0,2349.5 629.4,2349.1 630.8,2348.6 632.2,2348.1 633.6,2347.6 635.1,2347.1 636.5,2346.6 637.9,2346.1 639.4,2345.5 640.8,2345.0 642.2,2344.4 643.7,2343.8 645.2,2343.2 646.6,2342.6 648.1,2342.0 649.5,2341.4 651.0,2340.8 652.5,2340.1 654.0,2339.4 655.5,2338.7 657.0,2338.0 658.5,2337.3 660.0,2336.6 661.5,2335.8 663.0,2335.0 664.5,2334.2 666.0,2333.4 667.5,2332.6 669.1,2331.8 670.6,2330.9 672.1,2330.0 673.7,2329.2 675.2,2328.2 676.8,2327.3 678.4,2326.4 679.9,2325.4 681.5,2324.5 683.1,2323.5 684.7,2322.5 686.2,2321.5 687.8,2320.4 689.4,2319.4 691.0,2318.3 692.6,2317.2 694.3,2316.2 695.9,2315.0 697.5,2313.9 699.1,2312.8 700.8,2311.6 702.4,2310.5 704.1,2309.3 705.7,2308.1 707.4,2306.9 709.0,2305.7 710.7,2304.5 712.4,2303.3 714.1,2302.0 715.7,2300.8 717.4,2299.5 719.1,2298.2 720.8,2297.0 722.6,2295.7 724.3,2294.4 726.0,2293.1 727.7,2291.8 729.5,2290.4 731.2,2289.1 732.9,2287.8 734.7,2286.5 736.5,2285.1 738.2,2283.8 740.0,2282.5 741.8,2281.1 743.5,2279.8 745.3,2278.4 747.1,2277.1 748.9,2275.8 750.7,2274.4 752.6,2273.1 754.4,2271.7 756.2,2270.4 758.0,2269.0 759.9,2267.7 761.7,2266.3 763.6,2265.0 765.4,2263.6 767.3,2262.2 769.2,2260.9 771.1,2259.5 773.0,2258.2 774.8,2256.8 776.8,2255.4 778.7,2254.1 780.6,2252.7 782.5,2251.3 784.4,2250.0 786.4,2248.6 788.3,2247.2 790.3,2245.8 792.2,2244.5 794.2,2243.1 796.2,2241.7 798.1,2240.3 800.1,2238.9 802.1,2237.6 804.1,2236.2 806.1,2234.8 808.1,2233.4 810.2,2232.0 812.2,2230.6 814.2,2229.2 816.3,2227.8 818.3,2226.4 820.4,2225.0 822.5,2223.6 824.6,2222.2 826.6,2220.8 828.7,2219.4 830.8,2218.0 833.0,2216.6 835.1,2215.2 837.2,2213.7 839.3,2212.3 841.5,2210.8 843.6,2209.4 845.8,2207.9 848.0,2206.5 850.1,2205.0 852.3,2203.5 854.5,2202.0 856.7,2200.4 858.9,2198.9 861.2,2197.3 863.4,2195.7 865.6,2194.2 867.9,2192.5 870.1,2190.9 872.4,2189.2 874.7,2187.6 876.9,2185.9 879.2,2184.1 881.5,2182.4 883.8,2180.6 886.2,2178.7 888.5,2176.9 890.8,2175.0 893.2,2173.1 895.5,2171.2 897.9,2169.2 900.3,2167.3 902.7,2165.3 905.1,2163.2 907.5,2161.2 909.9,2159.1 912.3,2157.0 914.7,2154.9 917.2,2152.8 919.6,2150.7 922.1,2148.5 924.6,2146.3 927.1,2144.1 929.6,2141.9 932.1,2139.7 934.6,2137.5 937.1,2135.3 939.6,2133.0 942.2,2130.8 944.8,2128.5 947.3,2126.3 949.9,2124.0 952.5,2121.8 955.1,2119.5 957.7,2117.3 960.3,2115.1 963.0,2112.8 965.6,2110.6 968.3,2108.4 971.0,2106.1 973.6,2103.9 976.3,2101.7 979.0,2099.6 981.8,2097.4 984.5,2095.2 987.2,2093.1 990.0,2091.0 992.7,2088.9 995.5,2086.8 998.3,2084.8 1001.1,2082.7 1003.9,2080.7 1006.8,2078.8 1009.6,2076.8 1012.4,2074.9 1015.3,2073.0 1018.2,2071.1 1021.1,2069.3 1024.0,2067.5 1026.9,2065.7 1029.8,2064.0 1032.8,2062.3 1035.7,2060.7 1038.7,2059.1 1041.7,2057.5 1044.7,2056.0 1047.7,2054.5 1050.7,2053.0 1053.8,2051.6 1056.8,2050.2 1059.9,2048.9 1063.0,2047.6 1066.0,2046.4 1069.2,2045.2 1072.3,2044.1 1075.4,2043.0 1078.6,2042.0 1081.7,2040.9 1084.9,2040.0 1088.1,2039.0 1091.3,2038.1 1094.6,2037.2 1097.8,2036.4 1101.1,2035.5 1104.3,2034.7 1107.6,2033.8 1110.9,2033.0 1114.3,2032.2 1117.6,2031.3 1121.0,2030.4 1124.3,2029.6 1127.7,2028.7 1131.1,2027.7 1134.5,2026.8 1138.0,2025.8 1141.4,2024.7 1144.9,2023.7 1148.4,2022.5 1151.9,2021.3 1155.4,2019.9 1159.0,2018.5 1162.5,2017.0 1166.1,2015.2 1169.7,2013.4 1173.3,2011.3 1176.9,2008.9 1180.6,2006.3 1184.2,2003.2 1187.9,1999.6 1191.6,1995.4 1195.3,1990.5 1199.1,1985.0 1202.8,1978.7 1206.6,1971.8 1210.4,1964.4 1214.2,1956.7 1218.1,1949.0 1221.9,1941.6 1225.8,1934.6 1229.7,1927.9 1233.6,1921.4 1237.6,1915.1 1241.5,1908.8 1245.5,1902.6 1249.5,1896.4 1253.5,1890.2 1257.6,1883.9 1261.6,1877.5 1265.7,1871.1 1269.8,1864.5 1274.0,1857.8 1278.1,1850.9 1282.3,1843.9 1286.5,1836.6 1290.7,1829.1 1295.0,1821.3 1299.2,1813.2 1303.5,1804.8 1307.8,1796.2 1312.2,1787.3 1316.5,1778.2 1320.9,1769.0 1325.3,1759.7 1329.8,1750.4 1334.2,1741.0 1338.7,1731.7 1343.2,1722.4 1347.7,1713.3 1352.3,1704.4 1356.9,1697.9" fill="none" stroke="#808000" stroke-width="13.2" stroke-linecap="round" stroke-linejoin="round"/>
<polyline points="193.7,2447.4 195.2,2447.4 196.7,2447.5 198.2,2447.5 199.8,2447.5 201.3,2447.5 202.9,2447.5 204.4,2447.6 206.0,2447.6 207.6,2447.6 209.2,2447.6 210.4,2447.6 211.6,2447.6 212.8,2447.6 214.0,2447.7 215.3,2447.7 216.5,2447.7 217.7,2447.7 219.0,2447.7 220.2,2447.7 221.5,2447.7 222.8,2447.7 224.0,2447.7 225.3,2447.7 226.6,2447.7 227.9,2447.7 229.2,2447.7 230.5,2447.7 231.8,2447.7 233.1,2447.7 234.5,2447.7 235.8,2447.7 237.1,2447.7 238.5,2447.7 239.8,2447.7 241.2,2447.7 242.6,2447.7 244.0,2447.6 245.3,2447.6 246.7,2447.6 248.1,2447.6 249.5,2447.6 251.0,2447.6 252.4,2447.6 253.8,2447.6 255.2,2447.5 256.7,2447.5 258.1,2447.5 259.6,2447.5 261.1,2447.5 262.6,2447.5 264.0,2447.4 265.5,2447.4 267.0,2447.4 268.5,2447.4 270.1,2447.3 271.6,2447.3 273.1,2447.3 274.7,2447.3 276.2,2447.2 277.8,2447.2 279.4,2447.2 281.0,2447.1 282.5,2447.1 284.1,2447.1 285.8,2447.0 287.4,2447.0 289.0,2446.9 290.6,2446.9 292.3,2446.9 293.9,2446.8 295.6,2446.8 297.3,2446.7 299.0,2446.7 300.7,2446.6 302.4,2446.6 304.1,2446.5 305.8,2446.5 307.6,2446.4 309.3,2446.4 311.1,2446.3 312.8,2446.3 314.6,2446.2 316.4,2446.2 317.6,2446.1 318.8,2446.1 320.0,2446.0 321.2,2446.0 322.5,2446.0 323.7,2445.9 324.9,2445.9 326.1,2445.8 327.4,2445.8 328.6,2445.7 329.9,2445.7 331.1,2445.6 332.4,2445.6 333.7,2445.5 334.9,2445.5 336.2,2445.4 337.5,2445.4 338.8,2445.3 340.1,2445.3 341.4,2445.2 342.7,2445.2 344.0,2445.1 345.3,2445.1 346.6,2445.0 348.0,2445.0 349.3,2444.9 350.6,2444.8 352.0,2444.8 353.3,2444.7 354.7,2444.7 356.0,2444.6 357.4,2444.5 358.8,2444.5 360.2,2444.4 361.5,2444.4 362.9,2444.3 364.3,2444.2 365.7,2444.2 367.1,2444.1 368.6,2444.0 370.0,2444.0 371.4,2443.9 372.8,2443.8 374.3,2443.8 375.7,2443.7 377.2,2443.6 378.7,2443.5 380.1,2443.5 381.6,2443.4 383.1,2443.3 384.6,2443.2 386.1,2443.2 387.6,2443.1 389.1,2443.0 390.6,2442.9 392.1,2442.9 393.6,2442.8 395.2,2442.7 396.7,2442.6 398.3,2442.5 399.8,2442.4 401.4,2442.4 403.0,2442.3 404.6,2442.2 406.1,2442.1 407.7,2442.0 409.3,2441.9 410.9,2441.8 412.6,2441.7 414.2,2441.6 415.8,2441.5 417.5,2441.5 419.1,2441.4 420.8,2441.3 422.4,2441.2 424.1,2441.1 425.8,2441.0 427.5,2440.9 429.2,2440.8 430.9,2440.7 432.6,2440.6 434.3,2440.5 436.1,2440.4 437.8,2440.3 439.5,2440.1 441.3,2440.0 443.1,2439.9 444.8,2439.8 446.6,2439.7 448.4,2439.6 450.2,2439.5 452.0,2439.3 453.8,2439.2 455.7,2439.1 457.5,2439.0 459.4,2438.8 461.2,2438.7 463.1,2438.6 465.0,2438.4 466.8,2438.3 468.7,2438.2 470.6,2438.0 472.6,2437.9 474.5,2437.7 476.4,2437.6 478.4,2437.4 480.3,2437.3 482.3,2437.1 484.2,2437.0 486.2,2436.8 488.2,2436.6 490.2,2436.4 492.2,2436.3 494.3,2436.1 496.3,2435.9 498.4,2435.7 500.4,2435.5 502.5,2435.3 504.6,2435.1 506.7,2434.9 508.8,2434.7 510.9,2434.5 513.0,2434.3 515.2,2434.0 517.3,2433.8 519.5,2433.6 521.6,2433.3 523.8,2433.1 526.0,2432.8 528.2,2432.6 530.5,2432.3 532.7,2432.0 534.9,2431.7 537.2,2431.5 539.5,2431.2 541.8,2430.9 544.1,2430.6 546.4,2430.2 548.7,2429.9 551.0,2429.6 553.4,2429.2 555.8,2428.9 558.1,2428.5 560.5,2428.2 561.7,2428.0 562.9,2427.8 564.2,2427.6 565.4,2427.4 566.6,2427.2 567.8,2427.0 569.0,2426.8 570.2,2426.6 571.5,2426.4 572.7,2426.2 574.0,2426.0 575.2,2425.8 576.4,2425.5 577.7,2425.3 578.9,2425.1 580.2,2424.9 581.5,2424.6 582.7,2424.4 584.0,2424.2 585.3,2423.9 586.5,2423.7 587.8,2423.5 589.1,2423.2 590.4,2423.0 591.7,2422.7 593.0,2422.4 594.3,2422.2 595.6,2421.9 596.9,2421.7 598.2,2421.4 599.5,2421.1 600.8,2420.8 602.1,2420.5 603.4,2420.3 604.8,2420.0 606.1,2419.7 607.4,2419.4 608.8,2419.1 610.1,2418.8 611.5,2418.5 612.8,2418.2 614.2,2417.8 615.5,2417.5 616.9,2417.2 618.3,2416.9 619.7,2416.5 621.0,2416.2 622.4,2415.8 623.8,2415.5 625.2,2415.1 626.6,2414.8 628.0,2414.4 629.4,2414.1 630.8,2413.7 632.2,2413.3 633.6,2412.9 635.1,2412.5 636.5,2412.1 637.9,2411.8 639.4,2411.3 640.8,2410.9 642.2,2410.5 643.7,2410.1 645.2,2409.7 646.6,2409.2 648.1,2408.8 649.5,2408.4 651.0,2407.9 652.5,2407.4 654.0,2407.0 655.5,2406.5 657.0,2406.0 658.5,2405.5 660.0,2405.0 661.5,2404.5 663.0,2404.0 664.5,2403.5 666.0,2403.0 667.5,2402.4 669.1,2401.9 670.6,2401.3 672.1,2400.8 673.7,2400.2 675.2,2399.6 676.8,2399.0 678.4,2398.4 679.9,2397.8 681.5,2397.2 683.1,2396.5 684.7,2395.9 686.2,2395.2 687.8,2394.6 689.4,2393.9 691.0,2393.2 692.6,2392.5 694.3,2391.8 695.9,2391.0 697.5,2390.3 699.1,2389.5 700.8,2388.7 702.4,2387.9 704.1,2387.1 705.7,2386.3 707.4,2385.5 709.0,2384.6 710.7,2383.7 712.4,2382.9 714.1,2381.9 715.7,2381.0 717.4,2380.1 719.1,2379.1 720.8,2378.1 722.6,2377.1 724.3,2376.1 726.0,2375.0 727.7,2374.0 729.5,2372.9 731.2,2371.7 732.9,2370.6 734.7,2369.4 736.5,2368.2 738.2,2367.0 740.0,2365.8 741.8,2364.5 743.5,2363.3 745.3,2362.0 747.1,2360.6 748.9,2359.3 750.7,2357.9 752.6,2356.6 754.4,2355.2 756.2,2353.7 758.0,2352.3 759.9,2350.9 761.7,2349.4 763.6,2347.9 765.4,2346.4 767.3,2344.9 769.2,2343.4 771.1,2341.9 773.0,2340.4 774.8,2338.8 776.8,2337.3 778.7,2335.7 780.6,2334.1 782.5,2332.6 784.4,2331.0 786.4,2329.4 788.3,2327.9 790.3,2326.3 792.2,2324.7 794.2,2323.2 796.2,2321.6 798.1,2320.1 800.1,2318.5 802.1,2317.0 804.1,2315.5 806.1,2313.9 808.1,2312.4 810.2,2310.9 812.2,2309.4 814.2,2307.9 816.3,2306.4 818.3,2304.9 820.4,2303.4 822.5,2301.9 824.6,2300.4 826.6,2298.9 828.7,2297.4 830.8,2295.9 833.0,2294.4 835.1,2292.8 837.2,2291.3 839.3,2289.8 841.5,2288.2 843.6,2286.7 845.8,2285.1 848.0,2283.5 850.1,2281.9 852.3,2280.3 854.5,2278.7 856.7,2277.0 858.9,2275.4 861.2,2273.7 863.4,2272.0 865.6,2270.2 867.9,2268.5 870.1,2266.7 872.4,2264.8 874.7,2263.0 876.9,2261.1 879.2,2259.2 881.5,2257.2 883.8,2255.2 886.2,2253.2 888.5,2251.1 890.8,2249.0 893.2,2246.8 895.5,2244.6 897.9,2242.4 900.3,2240.1 902.7,2237.8 905.1,2235.5 907.5,2233.1 909.9,2230.7 912.3,2228.3 914.7,2225.8 917.2,2223.4 919.6,2220.8 922.1,2218.3 924.6,2215.8 927.1,2213.2 929.6,2210.6 932.1,2208.0 934.6,2205.4 937.1,2202.8 939.6,2200.2 942.2,2197.5 944.8,2194.9 947.3,2192.3 949.9,2189.6 952.5,2187.0 955.1,2184.4 957.7,2181.7 960.3,2179.1 963.0,2176.5 965.6,2174.0 968.3,2171.4 971.0,2168.9 973.6,2166.3 976.3,2163.8 979.0,2161.4 981.8,2158.9 984.5,2156.5 987.2,2154.1 990.0,2151.7 992.7,2149.4 995.5,2147.1 998.3,2144.9 1001.1,2142.7 1003.9,2140.6 1006.8,2138.6 1009.6,2136.7 1012.4,2134.9 1015.3,2133.2 1018.2,2131.7 1021.1,2130.2 1024.0,2128.9 1026.9,2127.7 1029.8,2126.7 1032.8,2125.7 1035.7,2124.8 1038.7,2123.9 1041.7,2123.0 1044.7,2122.0 1047.7,2121.0 1050.7,2119.9 1053.8,2118.6 1056.8,2117.0 1059.9,2115.2 1063.0,2113.0 1066.0,2110.6 1069.2,2108.1 1072.3,2105.7 1075.4,2103.6 1078.6,2101.7 1081.7,2100.1 1084.9,2098.7 1088.1,2097.4 1091.3,2096.2 1094.6,2095.1 1097.8,2094.1 1101.1,2093.1 1104.3,2092.2 1107.6,2091.2 1110.9,2090.2 1114.3,2089.2 1117.6,2088.2 1121.0,2087.2 1124.3,2086.2 1127.7,2085.1 1131.1,2084.1 1134.5,2083.0 1138.0,2081.9 1141.4,2080.7 1144.9,2079.5 1148.4,2078.4 1151.9,2077.1 1155.4,2075.9 1159.0,2074.6 1162.5,2073.3 1166.1,2071.9 1169.7,2070.5 1173.3,2069.1 1176.9,2067.6 1180.6,2066.0 1184.2,2064.4 1187.9,2062.7 1191.6,2060.8 1195.3,2058.8 1199.1,2056.7 1202.8,2054.3 1206.6,2051.6 1210.4,2048.6 1214.2,2045.1 1218.1,2041.0 1221.9,2036.1 1225.8,2030.5 1229.7,2024.0 1233.6,2016.8 1237.6,2009.0 1241.5,2001.2 1245.5,1993.5 1249.5,1985.9 1253.5,1978.5 1257.6,1971.2 1261.6,1963.9 1265.7,1956.8 1269.8,1949.8 1274.0,1942.8 1278.1,1935.8 1282.3,1928.9 1286.5,1922.0 1290.7,1915.2 1295.0,1908.3 1299.2,1901.5 1303.5,1894.6 1307.8,1887.7 1312.2,1880.8 1316.5,1873.9 1320.9,1866.9 1325.3,1859.8 1329.8,1852.7 1334.2,1845.5 1338.7,1838.2 1343.2,1830.8 1347.7,1823.3 1352.3,1815.6 1356.9,1807.8" fill="none" stroke="#00FFFF" stroke-width="13.2" stroke-linecap="round" stroke-linejoin="round"/>
<polyline points="193.7,2504.7 195.2,2504.8 196.7,2504.8 198.2,2504.8 199.8,2504.8 201.3,2504.8 202.9,2504.8 204.4,2504.8 206.0,2504.8 207.6,2504.8 209.2,2504.8 210.4,2504.8 211.6,2504.8 212.8,2504.8 214.0,2504.8 215.3,2504.8 216.5,2504.8 217.7,2504.8 219.0,2504.8 220.2,2504.8 221.5,2504.8 222.8,2504.8 224.0,2504.8 225.3,2504.8 226.6,2504.8 227.9,2504.8 229.2,2504.8 230.5,2504.8 231.8,2504.8 233.1,2504.8 234.5,2504.8 235.8,2504.8 237.1,2504.8 238.5,2504.7 239.8,2504.7 241.2,2504.7 242.6,2504.7 244.0,2504.7 245.3,2504.7 246.7,2504.7 248.1,2504.7 249.5,2504.7 251.0,2504.7 252.4,2504.7 253.8,2504.7 255.2,2504.7 256.7,2504.6 258.1,2504.6 259.6,2504.6 261.1,2504.6 262.6,2504.6 264.0,2504.6 265.5,2504.6 267.0,2504.5 268.5,2504.5 270.1,2504.5 271.6,2504.5 273.1,2504.5 274.7,2504.5 276.2,2504.5 277.8,2504.4 279.4,2504.4 281.0,2504.4 282.5,2504.4 284.1,2504.3 285.8,2504.3 287.4,2504.3 289.0,2504.3 290.6,2504.3 292.3,2504.2 293.9,2504.2 295.6,2504.2 297.3,2504.2 299.0,2504.1 300.7,2504.1 302.4,2504.1 304.1,2504.0 305.8,2504.0 307.6,2504.0 309.3,2503.9 311.1,2503.9 312.8,2503.9 314.6,2503.8 316.4,2503.8 317.6,2503.8 318.8,2503.7 320.0,2503.7 321.2,2503.7 322.5,2503.7 323.7,2503.6 324.9,2503.6 326.1,2503.6 327.4,2503.6 328.6,2503.5 329.9,2503.5 331.1,2503.5 332.4,2503.4 333.7,2503.4 334.9,2503.4 336.2,2503.3 337.5,2503.3 338.8,2503.3 340.1,2503.2 341.4,2503.2 342.7,2503.2 344.0,2503.1 345.3,2503.1 346.6,2503.1 348.0,2503.0 349.3,2503.0 350.6,2502.9 352.0,2502.9 353.3,2502.9 354.7,2502.8 356.0,2502.8 357.4,2502.7 358.8,2502.7 360.2,2502.7 361.5,2502.6 362.9,2502.6 364.3,2502.5 365.7,2502.5 367.1,2502.4 368.6,2502.4 370.0,2502.3 371.4,2502.3 372.8,2502.2 374.3,2502.2 375.7,2502.1 377.2,2502.1 378.7,2502.0 380.1,2502.0 381.6,2501.9 383.1,2501.9 384.6,2501.8 386.1,2501.7 387.6,2501.7 389.1,2501.6 390.6,2501.6 392.1,2501.5 393.6,2501.4 395.2,2501.4 396.7,2501.3 398.3,2501.3 399.8,2501.2 401.4,2501.1 403.0,2501.1 404.6,2501.0 406.1,2500.9 407.7,2500.9 409.3,2500.8 410.9,2500.7 412.6,2500.6 414.2,2500.6 415.8,2500.5 417.5,2500.4 419.1,2500.3 420.8,2500.3 422.4,2500.2 424.1,2500.1 425.8,2500.0 427.5,2499.9 429.2,2499.8 430.9,2499.8 432.6,2499.7 434.3,2499.6 436.1,2499.5 437.8,2499.4 439.5,2499.3 441.3,2499.2 443.1,2499.1 444.8,2499.0 446.6,2498.9 448.4,2498.8 450.2,2498.7 452.0,2498.6 453.8,2498.5 455.7,2498.4 457.5,2498.3 459.4,2498.2 461.2,2498.1 463.1,2498.0 465.0,2497.9 466.8,2497.7 468.7,2497.6 470.6,2497.5 472.6,2497.4 474.5,2497.3 476.4,2497.1 478.4,2497.0 480.3,2496.9 482.3,2496.8 484.2,2496.6 486.2,2496.5 488.2,2496.4 490.2,2496.2 492.2,2496.1 494.3,2495.9 496.3,2495.8 498.4,2495.6 500.4,2495.5 502.5,2495.3 504.6,2495.2 506.7,2495.0 508.8,2494.9 510.9,2494.7 513.0,2494.5 515.2,2494.4 517.3,2494.2 519.5,2494.0 521.6,2493.8 523.8,2493.6 526.0,2493.4 528.2,2493.2 530.5,2493.0 532.7,2492.8 534.9,2492.6 537.2,2492.4 539.5,2492.2 541.8,2491.9 544.1,2491.7 546.4,2491.5 548.7,2491.2 551.0,2491.0 553.4,2490.7 555.8,2490.4 558.1,2490.2 560.5,2489.9 561.7,2489.7 562.9,2489.6 564.2,2489.5 565.4,2489.3 566.6,2489.2 567.8,2489.0 569.0,2488.8 570.2,2488.7 571.5,2488.5 572.7,2488.4 574.0,2488.2 575.2,2488.0 576.4,2487.9 577.7,2487.7 578.9,2487.5 580.2,2487.4 581.5,2487.2 582.7,2487.0 584.0,2486.8 585.3,2486.6 586.5,2486.4 587.8,2486.3 589.1,2486.1 590.4,2485.9 591.7,2485.7 593.0,2485.5 594.3,2485.3 595.6,2485.1 596.9,2484.8 598.2,2484.6 599.5,2484.4 600.8,2484.2 602.1,2484.0 603.4,2483.7 604.8,2483.5 606.1,2483.3 607.4,2483.0 608.8,2482.8 610.1,2482.6 611.5,2482.3 612.8,2482.1 614.2,2481.8 615.5,2481.6 616.9,2481.3 618.3,2481.0 619.7,2480.8 621.0,2480.5 622.4,2480.2 623.8,2479.9 625.2,2479.7 626.6,2479.4 628.0,2479.1 629.4,2478.8 630.8,2478.5 632.2,2478.2 633.6,2477.9 635.1,2477.5 636.5,2477.2 637.9,2476.9 639.4,2476.6 640.8,2476.2 642.2,2475.9 643.7,2475.6 645.2,2475.2 646.6,2474.9 648.1,2474.5 649.5,2474.1 651.0,2473.8 652.5,2473.4 654.0,2473.0 655.5,2472.6 657.0,2472.2 658.5,2471.8 660.0,2471.4 661.5,2471.0 663.0,2470.6 664.5,2470.2 666.0,2469.7 667.5,2469.3 669.1,2468.8 670.6,2468.4 672.1,2467.9 673.7,2467.5 675.2,2467.0 676.8,2466.5 678.4,2466.0 679.9,2465.5 681.5,2465.0 683.1,2464.5 684.7,2464.0 686.2,2463.5 687.8,2462.9 689.4,2462.4 691.0,2461.9 692.6,2461.3 694.3,2460.7 695.9,2460.2 697.5,2459.6 699.1,2459.0 700.8,2458.4 702.4,2457.8 704.1,2457.2 705.7,2456.5 707.4,2455.9 709.0,2455.3 710.7,2454.6 712.4,2453.9 714.1,2453.3 715.7,2452.6 717.4,2451.9 719.1,2451.2 720.8,2450.5 722.6,2449.7 724.3,2449.0 726.0,2448.3 727.7,2447.5 729.5,2446.8 731.2,2446.0 732.9,2445.2 734.7,2444.4 736.5,2443.6 738.2,2442.8 740.0,2441.9 741.8,2441.1 743.5,2440.2 745.3,2439.4 747.1,2438.5 748.9,2437.6 750.7,2436.7 752.6,2435.8 754.4,2434.8 756.2,2433.9 758.0,2432.9 759.9,2432.0 761.7,2431.0 763.6,2430.0 765.4,2429.0 767.3,2428.0 769.2,2426.9 771.1,2425.9 773.0,2424.8 774.8,2423.7 776.8,2422.6 778.7,2421.5 780.6,2420.3 782.5,2419.2 784.4,2418.0 786.4,2416.9 788.3,2415.7 790.3,2414.4 792.2,2413.2 794.2,2411.9 796.2,2410.7 798.1,2409.4 800.1,2408.1 802.1,2406.8 804.1,2405.4 806.1,2404.0 808.1,2402.7 810.2,2401.2 812.2,2399.8 814.2,2398.4 816.3,2396.9 818.3,2395.4 820.4,2393.9 822.5,2392.3 824.6,2390.8 826.6,2389.2 828.7,2387.6 830.8,2385.9 833.0,2384.3 835.1,2382.6 837.2,2380.9 839.3,2379.1 841.5,2377.3 843.6,2375.5 845.8,2373.7 848.0,2371.9 850.1,2370.0 852.3,2368.1 854.5,2366.2 856.7,2364.3 858.9,2362.4 861.2,2360.4 863.4,2358.5 865.6,2356.6 867.9,2354.6 870.1,2352.7 872.4,2350.8 874.7,2348.9 876.9,2347.0 879.2,2345.2 881.5,2343.3 883.8,2341.5 886.2,2339.7 888.5,2338.0 890.8,2336.3 893.2,2334.6 895.5,2332.9 897.9,2331.3 900.3,2329.7 902.7,2328.1 905.1,2326.5 907.5,2324.9 909.9,2323.3 912.3,2321.7 914.7,2320.0 917.2,2318.4 919.6,2316.7 922.1,2315.1 924.6,2313.4 927.1,2311.6 929.6,2309.8 932.1,2308.0 934.6,2306.1 937.1,2304.2 939.6,2302.2 942.2,2300.2 944.8,2298.2 947.3,2296.2 949.9,2294.1 952.5,2292.0 955.1,2289.8 957.7,2287.7 960.3,2285.5 963.0,2283.3 965.6,2281.2 968.3,2279.0 971.0,2276.8 973.6,2274.6 976.3,2272.4 979.0,2270.3 981.8,2268.1 984.5,2266.0 987.2,2263.9 990.0,2261.8 992.7,2259.7 995.5,2257.7 998.3,2255.7 1001.1,2253.8 1003.9,2251.9 1006.8,2250.0 1009.6,2248.2 1012.4,2246.4 1015.3,2244.6 1018.2,2243.0 1021.1,2241.3 1024.0,2239.7 1026.9,2238.2 1029.8,2236.8 1032.8,2235.4 1035.7,2234.0 1038.7,2232.7 1041.7,2231.5 1044.7,2230.4 1047.7,2229.3 1050.7,2228.3 1053.8,2227.4 1056.8,2226.5 1059.9,2225.7 1063.0,2225.0 1066.0,2224.3 1069.2,2223.6 1072.3,2223.0 1075.4,2222.4 1078.6,2221.9 1081.7,2221.4 1084.9,2220.9 1088.1,2220.4 1091.3,2219.9 1094.6,2219.4 1097.8,2218.9 1101.1,2218.4 1104.3,2217.9 1107.6,2217.4 1110.9,2216.9 1114.3,2216.3 1117.6,2215.7 1121.0,2215.0 1124.3,2214.3 1127.7,2213.5 1131.1,2212.7 1134.5,2211.8 1138.0,2210.8 1141.4,2209.7 1144.9,2208.5 1148.4,2207.2 1151.9,2205.7 1155.4,2204.1 1159.0,2202.4 1162.5,2200.4 1166.1,2198.2 1169.7,2195.7 1173.3,2192.9 1176.9,2189.6 1180.6,2185.9 1184.2,2181.5 1187.9,2176.6 1191.6,2171.1 1195.3,2165.2 1199.1,2159.0 1202.8,2152.5 1206.6,2146.0 1210.4,2139.3 1214.2,2132.5 1218.1,2125.5 1221.9,2118.3 1225.8,2111.0 1229.7,2103.6 1233.6,2095.9 1237.6,2088.2 1241.5,2080.2 1245.5,2072.1 1249.5,2063.8 1253.5,2055.4 1257.6,2046.8 1261.6,2038.1 1265.7,2029.1 1269.8,2020.1 1274.0,2010.9 1278.1,2001.5 1282.3,1992.0 1286.5,1982.4 1290.7,1972.6 1295.0,1962.8 1299.2,1952.8 1303.5,1942.7 1307.8,1932.6 1312.2,1922.4 1316.5,1912.1 1320.9,1901.8 1325.3,1891.5 1329.8,1881.2 1334.2,1870.8 1338.7,1860.5 1343.2,1850.2 1347.7,1839.9 1352.3,1829.7 1356.9,1819.9" fill="none" stroke="#22CC22" stroke-width="14.4" stroke-linecap="round" stroke-linejoin="round"/>
<polyline points="193.7,2504.7 195.2,2504.8 196.7,2504.8 198.2,2504.8 199.8,2504.8 201.3,2504.8 202.9,2504.8 204.4,2504.8 206.0,2504.8 207.6,2504.8 209.2,2504.8 210.4,2504.8 211.6,2504.8 212.8,2504.8 214.0,2504.8 215.3,2504.8 216.5,2504.8 217.7,2504.8 219.0,2504.8 220.2,2504.8 221.5,2504.8 222.8,2504.8 224.0,2504.8 225.3,2504.8 226.6,2504.8 227.9,2504.8 229.2,2504.8 230.5,2504.8 231.8,2504.8 233.1,2504.8 234.5,2504.8 235.8,2504.8 237.1,2504.8 238.5,2504.7 239.8,2504.7 241.2,2504.7 242.6,2504.7 244.0,2504.7 245.3,2504.7 246.7,2504.7 248.1,2504.7 249.5,2504.7 251.0,2504.7 252.4,2504.7 253.8,2504.7 255.2,2504.7 256.7,2504.6 258.1,2504.6 259.6,2504.6 261.1,2504.6 262.6,2504.6 264.0,2504.6 265.5,2504.6 267.0,2504.5 268.5,2504.5 270.1,2504.5 271.6,2504.5 273.1,2504.5 274.7,2504.5 276.2,2504.5 277.8,2504.4 279.4,2504.4 281.0,2504.4 282.5,2504.4 284.1,2504.3 285.8,2504.3 287.4,2504.3 289.0,2504.3 290.6,2504.3 292.3,2504.2 293.9,2504.2 295.6,2504.2 297.3,2504.2 299.0,2504.1 300.7,2504.1 302.4,2504.1 304.1,2504.0 305.8,2504.0 307.6,2504.0 309.3,2503.9 311.1,2503.9 312.8,2503.9 314.6,2503.8 316.4,2503.8 317.6,2503.8 318.8,2503.7 320.0,2503.7 321.2,2503.7 322.5,2503.7 323.7,2503.6 324.9,2503.6 326.1,2503.6 327.4,2503.6 328.6,2503.5 329.9,2503.5 331.1,2503.5 332.4,2503.4 333.7,2503.4 334.9,2503.4 336.2,2503.3 337.5,2503.3 338.8,2503.3 340.1,2503.2 341.4,2503.2 342.7,2503.2 344.0,2503.1 345.3,2503.1 346.6,2503.1 348.0,2503.0 349.3,2503.0 350.6,2502.9 352.0,2502.9 353.3,2502.9 354.7,2502.8 356.0,2502.8 357.4,2502.7 358.8,2502.7 360.2,2502.7 361.5,2502.6 362.9,2502.6 364.3,2502.5 365.7,2502.5 367.1,2502.4 368.6,2502.4 370.0,2502.3 371.4,2502.3 372.8,2502.2 374.3,2502.2 375.7,2502.1 377.2,2502.1 378.7,2502.0 380.1,2502.0 381.6,2501.9 383.1,2501.9 384.6,2501.8 386.1,2501.7 387.6,2501.7 389.1,2501.6 390.6,2501.6 392.1,2501.5 393.6,2501.4 395.2,2501.4 396.7,2501.3 398.3,2501.3 399.8,2501.2 401.4,2501.1 403.0,2501.1 404.6,2501.0 406.1,2500.9 407.7,2500.9 409.3,2500.8 410.9,2500.7 412.6,2500.6 414.2,2500.6 415.8,2500.5 417.5,2500.4 419.1,2500.3 420.8,2500.3 422.4,2500.2 424.1,2500.1 425.8,2500.0 427.5,2499.9 429.2,2499.8 430.9,2499.8 432.6,2499.7 434.3,2499.6 436.1,2499.5 437.8,2499.4 439.5,2499.3 441.3,2499.2 443.1,2499.1 444.8,2499.0 446.6,2498.9 448.4,2498.8 450.2,2498.7 452.0,2498.6 453.8,2498.5 455.7,2498.4 457.5,2498.3 459.4,2498.2 461.2,2498.1 463.1,2498.0 465.0,2497.9 466.8,2497.7 468.7,2497.6 470.6,2497.5 472.6,2497.4 474.5,2497.3 476.4,2497.1 478.4,2497.0 480.3,2496.9 482.3,2496.8 484.2,2496.6 486.2,2496.5 488.2,2496.4 490.2,2496.2 492.2,2496.1 494.3,2495.9 496.3,2495.8 498.4,2495.6 500.4,2495.5 502.5,2495.3 504.6,2495.2 506.7,2495.0 508.8,2494.9 510.9,2494.7 513.0,2494.5 515.2,2494.4 517.3,2494.2 519.5,2494.0 521.6,2493.8 523.8,2493.6 526.0,2493.4 528.2,2493.2 530.5,2493.0 532.7,2492.8 534.9,2492.6 537.2,2492.4 539.5,2492.2 541.8,2491.9 544.1,2491.7 546.4,2491.5 548.7,2491.2 551.0,2491.0 553.4,2490.7 555.8,2490.4 558.1,2490.2 560.5,2489.9 561.7,2489.7 562.9,2489.6 564.2,2489.5 565.4,2489.3 566.6,2489.2 567.8,2489.0 569.0,2488.8 570.2,2488.7 571.5,2488.5 572.7,2488.4 574.0,2488.2 575.2,2488.0 576.4,2487.9 577.7,2487.7 578.9,2487.5 580.2,2487.4 581.5,2487.2 582.7,2487.0 584.0,2486.8 585.3,2486.6 586.5,2486.4 587.8,2486.3 589.1,2486.1 590.4,2485.9 591.7,2485.7 593.0,2485.5 594.3,2485.3 595.6,2485.1 596.9,2484.8 598.2,2484.6 599.5,2484.4 600.8,2484.2 602.1,2484.0 603.4,2483.7 604.8,2483.5 606.1,2483.3 607.4,2483.0 608.8,2482.8 610.1,2482.6 611.5,2482.3 612.8,2482.1 614.2,2481.8 615.5,2481.6 616.9,2481.3 618.3,2481.0 619.7,2480.8 621.0,2480.5 622.4,2480.2 623.8,2479.9 625.2,2479.7 626.6,2479.4 628.0,2479.1 629.4,2478.8 630.8,2478.5 632.2,2478.2 633.6,2477.9 635.1,2477.5 636.5,2477.2 637.9,2476.9 639.4,2476.6 640.8,2476.2 642.2,2475.9 643.7,2475.6 645.2,2475.2 646.6,2474.9 648.1,2474.5 649.5,2474.1 651.0,2473.8 652.5,2473.4 654.0,2473.0 655.5,2472.6 657.0,2472.2 658.5,2471.8 660.0,2471.4 661.5,2471.0 663.0,2470.6 664.5,2470.2 666.0,2469.7 667.5,2469.3 669.1,2468.8 670.6,2468.4 672.1,2467.9 673.7,2467.5 675.2,2467.0 676.8,2466.5 678.4,2466.0 679.9,2465.5 681.5,2465.0 683.1,2464.5 684.7,2464.0 686.2,2463.5 687.8,2462.9 689.4,2462.4 691.0,2461.9 692.6,2461.3 694.3,2460.7 695.9,2460.2 697.5,2459.6 699.1,2459.0 700.8,2458.4 702.4,2457.8 704.1,2457.2 705.7,2456.5 707.4,2455.9 709.0,2455.3 710.7,2454.6 712.4,2453.9 714.1,2453.3 715.7,2452.6 717.4,2451.9 719.1,2451.2 720.8,2450.5 722.6,2449.7 724.3,2449.0 726.0,2448.3 727.7,2447.5 729.5,2446.8 731.2,2446.0 732.9,2445.2 734.7,2444.4 736.5,2443.6 738.2,2442.8 740.0,2441.9 741.8,2441.1 743.5,2440.2 745.3,2439.4 747.1,2438.5 748.9,2437.6 750.7,2436.7 752.6,2435.8 754.4,2434.8 756.2,2433.9 758.0,2432.9 759.9,2432.0 761.7,2431.0 763.6,2430.0 765.4,2429.0 767.3,2428.0 769.2,2426.9 771.1,2425.9 773.0,2424.8 774.8,2423.7 776.8,2422.6 778.7,2421.5 780.6,2420.3 782.5,2419.2 784.4,2418.0 786.4,2416.9 788.3,2415.7 790.3,2414.4 792.2,2413.2 794.2,2411.9 796.2,2410.7 798.1,2409.4 800.1,2408.1 802.1,2406.8 804.1,2405.4 806.1,2404.0 808.1,2402.7 810.2,2401.2 812.2,2399.8 814.2,2398.4 816.3,2396.9 818.3,2395.4 820.4,2393.9 822.5,2392.3 824.6,2390.8 826.6,2389.2 828.7,2387.6 830.8,2385.9 833.0,2384.3 835.1,2382.6 837.2,2380.9 839.3,2379.1 841.5,2377.3 843.6,2375.5 845.8,2373.7 848.0,2371.9 850.1,2370.0 852.3,2368.1 854.5,2366.2 856.7,2364.3 858.9,2362.4 861.2,2360.4 863.4,2358.5 865.6,2356.6 867.9,2354.6 870.1,2352.7 872.4,2350.8 874.7,2348.9 876.9,2347.0 879.2,2345.2 881.5,2343.3 883.8,2341.5 886.2,2339.7 888.5,2338.0 890.8,2336.3 893.2,2334.6 895.5,2332.9 897.9,2331.3 900.3,2329.7 902.7,2328.1 905.1,2326.5 907.5,2324.9 909.9,2323.3 912.3,2321.7 914.7,2320.0 917.2,2318.4 919.6,2316.7 922.1,2315.1 924.6,2313.4 927.1,2311.6 929.6,2309.8 932.1,2308.0 934.6,2306.1 937.1,2304.2 939.6,2302.2 942.2,2300.2 944.8,2298.2 947.3,2296.2 949.9,2294.1 952.5,2292.0 955.1,2289.8 957.7,2287.7 960.3,2285.5 963.0,2283.3 965.6,2281.2 968.3,2279.0 971.0,2276.8 973.6,2274.6 976.3,2272.4 979.0,2270.3 981.8,2268.1 984.5,2266.0 987.2,2263.9 990.0,2261.8 992.7,2259.7 995.5,2257.7 998.3,2255.7 1001.1,2253.8 1003.9,2251.9 1006.8,2250.0 1009.6,2248.2 1012.4,2246.4 1015.3,2244.6 1018.2,2243.0 1021.1,2241.3 1024.0,2239.7 1026.9,2238.2 1029.8,2236.8 1032.8,2235.4 1035.7,2234.0 1038.7,2232.7 1041.7,2231.5 1044.7,2230.4 1047.7,2229.3 1050.7,2228.3 1053.8,2227.4 1056.8,2226.5 1059.9,2225.7 1063.0,2225.0 1066.0,2224.3 1069.2,2223.6 1072.3,2223.0 1075.4,2222.4 1078.6,2221.9 1081.7,2221.4 1084.9,2220.9 1088.1,2220.4 1091.3,2219.9 1094.6,2219.4 1097.8,2218.9 1101.1,2218.4 1104.3,2217.9 1107.6,2217.4 1110.9,2216.9 1114.3,2216.3 1117.6,2215.7 1121.0,2215.0 1124.3,2214.3 1127.7,2213.5 1131.1,2212.7 1134.5,2211.8 1138.0,2210.8 1141.4,2209.7 1144.9,2208.5 1148.4,2207.2 1151.9,2205.7 1155.4,2204.1 1159.0,2202.4 1162.5,2200.4 1166.1,2198.2 1169.7,2195.7 1173.3,2192.9 1176.9,2189.6 1180.6,2185.9 1184.2,2181.5 1187.9,2176.6 1191.6,2171.1 1195.3,2165.2 1199.1,2159.0 1202.8,2152.5 1206.6,2146.0 1210.4,2139.3 1214.2,2132.5 1218.1,2125.5 1221.9,2118.3 1225.8,2111.0 1229.7,2103.6 1233.6,2095.9 1237.6,2088.2 1241.5,2080.2 1245.5,2072.1 1249.5,2063.8 1253.5,2055.4 1257.6,2046.8 1261.6,2038.1 1265.7,2029.1 1269.8,2020.1 1274.0,2010.9 1278.1,2001.5 1282.3,1992.0 1286.5,1982.4 1290.7,1972.6 1295.0,1962.8 1299.2,1952.8 1303.5,1942.7 1307.8,1932.6 1312.2,1922.4 1316.5,1912.1 1320.9,1901.8 1325.3,1891.5 1329.8,1881.2 1334.2,1870.8 1338.7,1860.5 1343.2,1850.2 1347.7,1839.9 1352.3,1829.7 1356.9,1819.9" fill="none" stroke="#00FF00" stroke-width="13.2" stroke-linecap="round" stroke-linejoin="round"/>
<polyline points="193.7,2561.8 195.2,2561.7 196.7,2561.7 198.2,2561.7 199.8,2561.7 201.3,2561.6 202.9,2561.6 204.4,2561.6 206.0,2561.6 207.6,2561.5 209.2,2561.5 210.4,2561.5 211.6,2561.5 212.8,2561.5 214.0,2561.5 215.3,2561.4 216.5,2561.4 217.7,2561.4 219.0,2561.4 220.2,2561.4 221.5,2561.3 222.8,2561.3 224.0,2561.3 225.3,2561.3 226.6,2561.3 227.9,2561.2 229.2,2561.2 230.5,2561.2 231.8,2561.2 233.1,2561.2 234.5,2561.2 235.8,2561.1 237.1,2561.1 238.5,2561.1 239.8,2561.1 241.2,2561.1 242.6,2561.0 244.0,2561.0 245.3,2561.0 246.7,2561.0 248.1,2561.0 249.5,2560.9 251.0,2560.9 252.4,2560.9 253.8,2560.9 255.2,2560.9 256.7,2560.8 258.1,2560.8 259.6,2560.8 261.1,2560.8 262.6,2560.8 264.0,2560.7 265.5,2560.7 267.0,2560.7 268.5,2560.7 270.1,2560.6 271.6,2560.6 273.1,2560.6 274.7,2560.6 276.2,2560.6 277.8,2560.5 279.4,2560.5 281.0,2560.5 282.5,2560.5 284.1,2560.5 285.8,2560.4 287.4,2560.4 289.0,2560.4 290.6,2560.4 292.3,2560.3 293.9,2560.3 295.6,2560.3 297.3,2560.3 299.0,2560.2 300.7,2560.2 302.4,2560.2 304.1,2560.2 305.8,2560.2 307.6,2560.1 309.3,2560.1 311.1,2560.1 312.8,2560.1 314.6,2560.0 316.4,2560.0 317.6,2560.0 318.8,2560.0 320.0,2560.0 321.2,2559.9 322.5,2559.9 323.7,2559.9 324.9,2559.9 326.1,2559.9 327.4,2559.9 328.6,2559.8 329.9,2559.8 331.1,2559.8 332.4,2559.8 333.7,2559.8 334.9,2559.8 336.2,2559.7 337.5,2559.7 338.8,2559.7 340.1,2559.7 341.4,2559.7 342.7,2559.7 344.0,2559.6 345.3,2559.6 346.6,2559.6 348.0,2559.6 349.3,2559.6 350.6,2559.5 352.0,2559.5 353.3,2559.5 354.7,2559.5 356.0,2559.5 357.4,2559.5 358.8,2559.4 360.2,2559.4 361.5,2559.4 362.9,2559.4 364.3,2559.4 365.7,2559.3 367.1,2559.3 368.6,2559.3 370.0,2559.3 371.4,2559.3 372.8,2559.3 374.3,2559.2 375.7,2559.2 377.2,2559.2 378.7,2559.2 380.1,2559.2 381.6,2559.1 383.1,2559.1 384.6,2559.1 386.1,2559.1 387.6,2559.1 389.1,2559.0 390.6,2559.0 392.1,2559.0 393.6,2559.0 395.2,2559.0 396.7,2558.9 398.3,2558.9 399.8,2558.9 401.4,2558.9 403.0,2558.9 404.6,2558.8 406.1,2558.8 407.7,2558.8 409.3,2558.8 410.9,2558.7 412.6,2558.7 414.2,2558.7 415.8,2558.7 417.5,2558.7 419.1,2558.6 420.8,2558.6 422.4,2558.6 424.1,2558.6 425.8,2558.5 427.5,2558.5 429.2,2558.5 430.9,2558.5 432.6,2558.5 434.3,2558.4 436.1,2558.4 437.8,2558.4 439.5,2558.4 441.3,2558.3 443.1,2558.3 444.8,2558.3 446.6,2558.3 448.4,2558.2 450.2,2558.2 452.0,2558.2 453.8,2558.2 455.7,2558.1 457.5,2558.1 459.4,2558.1 461.2,2558.1 463.1,2558.0 465.0,2558.0 466.8,2558.0 468.7,2558.0 470.6,2557.9 472.6,2557.9 474.5,2557.9 476.4,2557.9 478.4,2557.8 480.3,2557.8 482.3,2557.8 484.2,2557.8 486.2,2557.7 488.2,2557.7 490.2,2557.7 492.2,2557.6 494.3,2557.6 496.3,2557.6 498.4,2557.6 500.4,2557.5 502.5,2557.5 504.6,2557.5 506.7,2557.4 508.8,2557.4 510.9,2557.4 513.0,2557.3 515.2,2557.3 517.3,2557.3 519.5,2557.3 521.6,2557.2 523.8,2557.2 526.0,2557.2 528.2,2557.1 530.5,2557.1 532.7,2557.1 534.9,2557.0 537.2,2557.0 539.5,2557.0 541.8,2556.9 544.1,2556.9 546.4,2556.9 548.7,2556.8 551.0,2556.8 553.4,2556.8 555.8,2556.7 558.1,2556.7 560.5,2556.7 561.7,2556.6 562.9,2556.6 564.2,2556.6 565.4,2556.6 566.6,2556.6 567.8,2556.6 569.0,2556.5 570.2,2556.5 571.5,2556.5 572.7,2556.5 574.0,2556.5 575.2,2556.4 576.4,2556.4 577.7,2556.4 578.9,2556.4 580.2,2556.4 581.5,2556.3 582.7,2556.3 584.0,2556.3 585.3,2556.3 586.5,2556.3 587.8,2556.2 589.1,2556.2 590.4,2556.2 591.7,2556.2 593.0,2556.2 594.3,2556.1 595.6,2556.1 596.9,2556.1 598.2,2556.1 599.5,2556.1 600.8,2556.0 602.1,2556.0 603.4,2556.0 604.8,2556.0 606.1,2556.0 607.4,2555.9 608.8,2555.9 610.1,2555.9 611.5,2555.9 612.8,2555.9 614.2,2555.8 615.5,2555.8 616.9,2555.8 618.3,2555.8 619.7,2555.7 621.0,2555.7 622.4,2555.7 623.8,2555.7 625.2,2555.7 626.6,2555.6 628.0,2555.6 629.4,2555.6 630.8,2555.6 632.2,2555.5 633.6,2555.5 635.1,2555.5 636.5,2555.5 637.9,2555.4 639.4,2555.4 640.8,2555.4 642.2,2555.4 643.7,2555.4 645.2,2555.3 646.6,2555.3 648.1,2555.3 649.5,2555.3 651.0,2555.2 652.5,2555.2 654.0,2555.2 655.5,2555.2 657.0,2555.1 658.5,2555.1 660.0,2555.1 661.5,2555.1 663.0,2555.0 664.5,2555.0 666.0,2555.0 667.5,2554.9 669.1,2554.9 670.6,2554.9 672.1,2554.9 673.7,2554.8 675.2,2554.8 676.8,2554.8 678.4,2554.8 679.9,2554.7 681.5,2554.7 683.1,2554.7 684.7,2554.6 686.2,2554.6 687.8,2554.6 689.4,2554.6 691.0,2554.5 692.6,2554.5 694.3,2554.5 695.9,2554.4 697.5,2554.4 699.1,2554.4 700.8,2554.4 702.4,2554.3 704.1,2554.3 705.7,2554.3 707.4,2554.2 709.0,2554.2 710.7,2554.2 712.4,2554.1 714.1,2554.1 715.7,2554.1 717.4,2554.0 719.1,2554.0 720.8,2554.0 722.6,2553.9 724.3,2553.9 726.0,2553.9 727.7,2553.9 729.5,2553.8 731.2,2553.8 732.9,2553.7 734.7,2553.7 736.5,2553.7 738.2,2553.6 740.0,2553.6 741.8,2553.6 743.5,2553.5 745.3,2553.5 747.1,2553.5 748.9,2553.4 750.7,2553.4 752.6,2553.4 754.4,2553.3 756.2,2553.3 758.0,2553.3 759.9,2553.2 761.7,2553.2 763.6,2553.1 765.4,2553.1 767.3,2553.1 769.2,2553.0 771.1,2553.0 773.0,2552.9 774.8,2552.9 776.8,2552.9 778.7,2552.8 780.6,2552.8 782.5,2552.7 784.4,2552.7 786.4,2552.7 788.3,2552.6 790.3,2552.6 792.2,2552.5 794.2,2552.5 796.2,2552.4 798.1,2552.4 800.1,2552.4 802.1,2552.3 804.1,2552.3 806.1,2552.2 808.1,2552.2 810.2,2552.1 812.2,2552.1 814.2,2552.0 816.3,2552.0 818.3,2552.0 820.4,2551.9 822.5,2551.9 824.6,2551.8 826.6,2551.8 828.7,2551.7 830.8,2551.7 833.0,2551.6 835.1,2551.6 837.2,2551.5 839.3,2551.5 841.5,2551.4 843.6,2551.4 845.8,2551.3 848.0,2551.3 850.1,2551.2 852.3,2551.2 854.5,2551.1 856.7,2551.1 858.9,2551.0 861.2,2551.0 863.4,2550.9 865.6,2550.9 867.9,2550.8 870.1,2550.8 872.4,2550.7 874.7,2550.7 876.9,2550.6 879.2,2550.6 881.5,2550.5 883.8,2550.5 886.2,2550.4 888.5,2550.4 890.8,2550.3 893.2,2550.3 895.5,2550.2 897.9,2550.2 900.3,2550.1 902.7,2550.1 905.1,2550.0 907.5,2550.0 909.9,2549.9 912.3,2549.9 914.7,2549.8 917.2,2549.8 919.6,2549.7 922.1,2549.7 924.6,2549.6 927.1,2549.6 929.6,2549.5 932.1,2549.5 934.6,2549.4 937.1,2549.4 939.6,2549.3 942.2,2549.3 944.8,2549.2 947.3,2549.2 949.9,2549.1 952.5,2549.1 955.1,2549.0 957.7,2549.0 960.3,2548.9 963.0,2548.9 965.6,2548.9 968.3,2548.8 971.0,2548.8 973.6,2548.7 976.3,2548.7 979.0,2548.6 981.8,2548.6 984.5,2548.6 987.2,2548.5 990.0,2548.5 992.7,2548.4 995.5,2548.4 998.3,2548.4 1001.1,2548.3 1003.9,2548.3 1006.8,2548.2 1009.6,2548.2 1012.4,2548.2 1015.3,2548.1 1018.2,2548.1 1021.1,2548.1 1024.0,2548.1 1026.9,2548.0 1029.8,2548.0 1032.8,2548.0 1035.7,2547.9 1038.7,2547.9 1041.7,2547.9 1044.7,2547.9 1047.7,2547.8 1050.7,2547.8 1053.8,2547.8 1056.8,2547.8 1059.9,2547.8 1063.0,2547.8 1066.0,2547.8 1069.2,2547.7 1072.3,2547.7 1075.4,2547.7 1078.6,2547.7 1081.7,2547.7 1084.9,2547.7 1088.1,2547.7 1091.3,2547.7 1094.6,2547.7 1097.8,2547.7 1101.1,2547.6 1104.3,2547.6 1107.6,2547.5 1110.9,2547.4 1114.3,2547.3 1117.6,2547.2 1121.0,2547.1 1124.3,2546.9 1127.7,2546.7 1131.1,2546.4 1134.5,2546.1 1138.0,2545.8 1141.4,2545.4 1144.9,2545.0 1148.4,2544.5 1151.9,2544.0 1155.4,2543.4 1159.0,2542.7 1162.5,2542.0 1166.1,2541.1 1169.7,2540.2 1173.3,2539.3 1176.9,2538.1 1180.6,2536.7 1184.2,2534.9 1187.9,2532.6 1191.6,2529.4 1195.3,2525.1 1199.1,2519.4 1202.8,2512.0 1206.6,2502.8 1210.4,2492.0 1214.2,2479.7 1218.1,2466.7 1221.9,2453.8 1225.8,2441.0 1229.7,2428.3 1233.6,2415.4" fill="none" stroke="#0000B0" stroke-width="14.4" stroke-linecap="round" stroke-linejoin="round"/>
<circle cx="1237.6" cy="2402.3" r="7.199999999999999" fill="#0000B0"/>
<circle cx="1241.5" cy="2388.8" r="7.199999999999999" fill="#0000B0"/>
<circle cx="1245.5" cy="2374.9" r="7.199999999999999" fill="#0000B0"/>
<circle cx="1249.5" cy="2360.6" r="7.199999999999999" fill="#0000B0"/>
<circle cx="1253.5" cy="2345.9" r="7.199999999999999" fill="#0000B0"/>
<circle cx="1257.6" cy="2330.8" r="7.199999999999999" fill="#0000B0"/>
<circle cx="1261.6" cy="2315.3" r="7.199999999999999" fill="#0000B0"/>
<circle cx="1265.7" cy="2299.5" r="7.199999999999999" fill="#0000B0"/>
<circle cx="1269.8" cy="2283.3" r="7.199999999999999" fill="#0000B0"/>
<circle cx="1274.0" cy="2266.7" r="7.199999999999999" fill="#0000B0"/>
<circle cx="1278.1" cy="2249.9" r="7.199999999999999" fill="#0000B0"/>
<circle cx="1282.3" cy="2232.7" r="7.199999999999999" fill="#0000B0"/>
<circle cx="1286.5" cy="2215.4" r="7.199999999999999" fill="#0000B0"/>
<circle cx="1290.7" cy="2197.8" r="7.199999999999999" fill="#0000B0"/>
<circle cx="1295.0" cy="2180.1" r="7.199999999999999" fill="#0000B0"/>
<circle cx="1299.2" cy="2162.2" r="7.199999999999999" fill="#0000B0"/>
<circle cx="1303.5" cy="2144.4" r="7.199999999999999" fill="#0000B0"/>
<circle cx="1307.8" cy="2126.5" r="7.199999999999999" fill="#0000B0"/>
<circle cx="1312.2" cy="2108.7" r="7.199999999999999" fill="#0000B0"/>
<circle cx="1316.5" cy="2091.0" r="7.199999999999999" fill="#0000B0"/>
<circle cx="1320.9" cy="2073.5" r="7.199999999999999" fill="#0000B0"/>
<circle cx="1325.3" cy="2056.1" r="7.199999999999999" fill="#0000B0"/>
<circle cx="1329.8" cy="2039.0" r="7.199999999999999" fill="#0000B0"/>
<circle cx="1334.2" cy="2022.1" r="7.199999999999999" fill="#0000B0"/>
<circle cx="1338.7" cy="2005.5" r="7.199999999999999" fill="#0000B0"/>
<circle cx="1343.2" cy="1989.3" r="7.199999999999999" fill="#0000B0"/>
<circle cx="1347.7" cy="1973.3" r="7.199999999999999" fill="#0000B0"/>
<circle cx="1352.3" cy="1957.7" r="7.199999999999999" fill="#0000B0"/>
<circle cx="1356.9" cy="1942.4" r="7.199999999999999" fill="#0000B0"/>
<polyline points="193.7,2561.8 195.2,2561.7 196.7,2561.7 198.2,2561.7 199.8,2561.7 201.3,2561.6 202.9,2561.6 204.4,2561.6 206.0,2561.6 207.6,2561.5 209.2,2561.5 210.4,2561.5 211.6,2561.5 212.8,2561.5 214.0,2561.5 215.3,2561.4 216.5,2561.4 217.7,2561.4 219.0,2561.4 220.2,2561.4 221.5,2561.3 222.8,2561.3 224.0,2561.3 225.3,2561.3 226.6,2561.3 227.9,2561.2 229.2,2561.2 230.5,2561.2 231.8,2561.2 233.1,2561.2 234.5,2561.2 235.8,2561.1 237.1,2561.1 238.5,2561.1 239.8,2561.1 241.2,2561.1 242.6,2561.0 244.0,2561.0 245.3,2561.0 246.7,2561.0 248.1,2561.0 249.5,2560.9 251.0,2560.9 252.4,2560.9 253.8,2560.9 255.2,2560.9 256.7,2560.8 258.1,2560.8 259.6,2560.8 261.1,2560.8 262.6,2560.8 264.0,2560.7 265.5,2560.7 267.0,2560.7 268.5,2560.7 270.1,2560.6 271.6,2560.6 273.1,2560.6 274.7,2560.6 276.2,2560.6 277.8,2560.5 279.4,2560.5 281.0,2560.5 282.5,2560.5 284.1,2560.5 285.8,2560.4 287.4,2560.4 289.0,2560.4 290.6,2560.4 292.3,2560.3 293.9,2560.3 295.6,2560.3 297.3,2560.3 299.0,2560.2 300.7,2560.2 302.4,2560.2 304.1,2560.2 305.8,2560.2 307.6,2560.1 309.3,2560.1 311.1,2560.1 312.8,2560.1 314.6,2560.0 316.4,2560.0 317.6,2560.0 318.8,2560.0 320.0,2560.0 321.2,2559.9 322.5,2559.9 323.7,2559.9 324.9,2559.9 326.1,2559.9 327.4,2559.9 328.6,2559.8 329.9,2559.8 331.1,2559.8 332.4,2559.8 333.7,2559.8 334.9,2559.8 336.2,2559.7 337.5,2559.7 338.8,2559.7 340.1,2559.7 341.4,2559.7 342.7,2559.7 344.0,2559.6 345.3,2559.6 346.6,2559.6 348.0,2559.6 349.3,2559.6 350.6,2559.5 352.0,2559.5 353.3,2559.5 354.7,2559.5 356.0,2559.5 357.4,2559.5 358.8,2559.4 360.2,2559.4 361.5,2559.4 362.9,2559.4 364.3,2559.4 365.7,2559.3 367.1,2559.3 368.6,2559.3 370.0,2559.3 371.4,2559.3 372.8,2559.3 374.3,2559.2 375.7,2559.2 377.2,2559.2 378.7,2559.2 380.1,2559.2 381.6,2559.1 383.1,2559.1 384.6,2559.1 386.1,2559.1 387.6,2559.1 389.1,2559.0 390.6,2559.0 392.1,2559.0 393.6,2559.0 395.2,2559.0 396.7,2558.9 398.3,2558.9 399.8,2558.9 401.4,2558.9 403.0,2558.9 404.6,2558.8 406.1,2558.8 407.7,2558.8 409.3,2558.8 410.9,2558.7 412.6,2558.7 414.2,2558.7 415.8,2558.7 417.5,2558.7 419.1,2558.6 420.8,2558.6 422.4,2558.6 424.1,2558.6 425.8,2558.5 427.5,2558.5 429.2,2558.5 430.9,2558.5 432.6,2558.5 434.3,2558.4 436.1,2558.4 437.8,2558.4 439.5,2558.4 441.3,2558.3 443.1,2558.3 444.8,2558.3 446.6,2558.3 448.4,2558.2 450.2,2558.2 452.0,2558.2 453.8,2558.2 455.7,2558.1 457.5,2558.1 459.4,2558.1 461.2,2558.1 463.1,2558.0 465.0,2558.0 466.8,2558.0 468.7,2558.0 470.6,2557.9 472.6,2557.9 474.5,2557.9 476.4,2557.9 478.4,2557.8 480.3,2557.8 482.3,2557.8 484.2,2557.8 486.2,2557.7 488.2,2557.7 490.2,2557.7 492.2,2557.6 494.3,2557.6 496.3,2557.6 498.4,2557.6 500.4,2557.5 502.5,2557.5 504.6,2557.5 506.7,2557.4 508.8,2557.4 510.9,2557.4 513.0,2557.3 515.2,2557.3 517.3,2557.3 519.5,2557.3 521.6,2557.2 523.8,2557.2 526.0,2557.2 528.2,2557.1 530.5,2557.1 532.7,2557.1 534.9,2557.0 537.2,2557.0 539.5,2557.0 541.8,2556.9 544.1,2556.9 546.4,2556.9 548.7,2556.8 551.0,2556.8 553.4,2556.8 555.8,2556.7 558.1,2556.7 560.5,2556.7 561.7,2556.6 562.9,2556.6 564.2,2556.6 565.4,2556.6 566.6,2556.6 567.8,2556.6 569.0,2556.5 570.2,2556.5 571.5,2556.5 572.7,2556.5 574.0,2556.5 575.2,2556.4 576.4,2556.4 577.7,2556.4 578.9,2556.4 580.2,2556.4 581.5,2556.3 582.7,2556.3 584.0,2556.3 585.3,2556.3 586.5,2556.3 587.8,2556.2 589.1,2556.2 590.4,2556.2 591.7,2556.2 593.0,2556.2 594.3,2556.1 595.6,2556.1 596.9,2556.1 598.2,2556.1 599.5,2556.1 600.8,2556.0 602.1,2556.0 603.4,2556.0 604.8,2556.0 606.1,2556.0 607.4,2555.9 608.8,2555.9 610.1,2555.9 611.5,2555.9 612.8,2555.9 614.2,2555.8 615.5,2555.8 616.9,2555.8 618.3,2555.8 619.7,2555.7 621.0,2555.7 622.4,2555.7 623.8,2555.7 625.2,2555.7 626.6,2555.6 628.0,2555.6 629.4,2555.6 630.8,2555.6 632.2,2555.5 633.6,2555.5 635.1,2555.5 636.5,2555.5 637.9,2555.4 639.4,2555.4 640.8,2555.4 642.2,2555.4 643.7,2555.4 645.2,2555.3 646.6,2555.3 648.1,2555.3 649.5,2555.3 651.0,2555.2 652.5,2555.2 654.0,2555.2 655.5,2555.2 657.0,2555.1 658.5,2555.1 660.0,2555.1 661.5,2555.1 663.0,2555.0 664.5,2555.0 666.0,2555.0 667.5,2554.9 669.1,2554.9 670.6,2554.9 672.1,2554.9 673.7,2554.8 675.2,2554.8 676.8,2554.8 678.4,2554.8 679.9,2554.7 681.5,2554.7 683.1,2554.7 684.7,2554.6 686.2,2554.6 687.8,2554.6 689.4,2554.6 691.0,2554.5 692.6,2554.5 694.3,2554.5 695.9,2554.4 697.5,2554.4 699.1,2554.4 700.8,2554.4 702.4,2554.3 704.1,2554.3 705.7,2554.3 707.4,2554.2 709.0,2554.2 710.7,2554.2 712.4,2554.1 714.1,2554.1 715.7,2554.1 717.4,2554.0 719.1,2554.0 720.8,2554.0 722.6,2553.9 724.3,2553.9 726.0,2553.9 727.7,2553.9 729.5,2553.8 731.2,2553.8 732.9,2553.7 734.7,2553.7 736.5,2553.7 738.2,2553.6 740.0,2553.6 741.8,2553.6 743.5,2553.5 745.3,2553.5 747.1,2553.5 748.9,2553.4 750.7,2553.4 752.6,2553.4 754.4,2553.3 756.2,2553.3 758.0,2553.3 759.9,2553.2 761.7,2553.2 763.6,2553.1 765.4,2553.1 767.3,2553.1 769.2,2553.0 771.1,2553.0 773.0,2552.9 774.8,2552.9 776.8,2552.9 778.7,2552.8 780.6,2552.8 782.5,2552.7 784.4,2552.7 786.4,2552.7 788.3,2552.6 790.3,2552.6 792.2,2552.5 794.2,2552.5 796.2,2552.4 798.1,2552.4 800.1,2552.4 802.1,2552.3 804.1,2552.3 806.1,2552.2 808.1,2552.2 810.2,2552.1 812.2,2552.1 814.2,2552.0 816.3,2552.0 818.3,2552.0 820.4,2551.9 822.5,2551.9 824.6,2551.8 826.6,2551.8 828.7,2551.7 830.8,2551.7 833.0,2551.6 835.1,2551.6 837.2,2551.5 839.3,2551.5 841.5,2551.4 843.6,2551.4 845.8,2551.3 848.0,2551.3 850.1,2551.2 852.3,2551.2 854.5,2551.1 856.7,2551.1 858.9,2551.0 861.2,2551.0 863.4,2550.9 865.6,2550.9 867.9,2550.8 870.1,2550.8 872.4,2550.7 874.7,2550.7 876.9,2550.6 879.2,2550.6 881.5,2550.5 883.8,2550.5 886.2,2550.4 888.5,2550.4 890.8,2550.3 893.2,2550.3 895.5,2550.2 897.9,2550.2 900.3,2550.1 902.7,2550.1 905.1,2550.0 907.5,2550.0 909.9,2549.9 912.3,2549.9 914.7,2549.8 917.2,2549.8 919.6,2549.7 922.1,2549.7 924.6,2549.6 927.1,2549.6 929.6,2549.5 932.1,2549.5 934.6,2549.4 937.1,2549.4 939.6,2549.3 942.2,2549.3 944.8,2549.2 947.3,2549.2 949.9,2549.1 952.5,2549.1 955.1,2549.0 957.7,2549.0 960.3,2548.9 963.0,2548.9 965.6,2548.9 968.3,2548.8 971.0,2548.8 973.6,2548.7 976.3,2548.7 979.0,2548.6 981.8,2548.6 984.5,2548.6 987.2,2548.5 990.0,2548.5 992.7,2548.4 995.5,2548.4 998.3,2548.4 1001.1,2548.3 1003.9,2548.3 1006.8,2548.2 1009.6,2548.2 1012.4,2548.2 1015.3,2548.1 1018.2,2548.1 1021.1,2548.1 1024.0,2548.1 1026.9,2548.0 1029.8,2548.0 1032.8,2548.0 1035.7,2547.9 1038.7,2547.9 1041.7,2547.9 1044.7,2547.9 1047.7,2547.8 1050.7,2547.8 1053.8,2547.8 1056.8,2547.8 1059.9,2547.8 1063.0,2547.8 1066.0,2547.8 1069.2,2547.7 1072.3,2547.7 1075.4,2547.7 1078.6,2547.7 1081.7,2547.7 1084.9,2547.7 1088.1,2547.7 1091.3,2547.7 1094.6,2547.7 1097.8,2547.7 1101.1,2547.6 1104.3,2547.6 1107.6,2547.5 1110.9,2547.4 1114.3,2547.3 1117.6,2547.2 1121.0,2547.1 1124.3,2546.9 1127.7,2546.7 1131.1,2546.4 1134.5,2546.1 1138.0,2545.8 1141.4,2545.4 1144.9,2545.0 1148.4,2544.5 1151.9,2544.0 1155.4,2543.4 1159.0,2542.7 1162.5,2542.0 1166.1,2541.1 1169.7,2540.2 1173.3,2539.3 1176.9,2538.1 1180.6,2536.7 1184.2,2534.9 1187.9,2532.6 1191.6,2529.4 1195.3,2525.1 1199.1,2519.4 1202.8,2512.0 1206.6,2502.8 1210.4,2492.0 1214.2,2479.7 1218.1,2466.7 1221.9,2453.8 1225.8,2441.0 1229.7,2428.3 1233.6,2415.4" fill="none" stroke="#0000FF" stroke-width="13.2" stroke-linecap="round" stroke-linejoin="round"/>
<circle cx="1237.6" cy="2402.3" r="6.6" fill="#0000FF"/>
<circle cx="1241.5" cy="2388.8" r="6.6" fill="#0000FF"/>
<circle cx="1245.5" cy="2374.9" r="6.6" fill="#0000FF"/>
<circle cx="1249.5" cy="2360.6" r="6.6" fill="#0000FF"/>
<circle cx="1253.5" cy="2345.9" r="6.6" fill="#0000FF"/>
<circle cx="1257.6" cy="2330.8" r="6.6" fill="#0000FF"/>
<circle cx="1261.6" cy="2315.3" r="6.6" fill="#0000FF"/>
<circle cx="1265.7" cy="2299.5" r="6.6" fill="#0000FF"/>
<circle cx="1269.8" cy="2283.3" r="6.6" fill="#0000FF"/>
<circle cx="1274.0" cy="2266.7" r="6.6" fill="#0000FF"/>
<circle cx="1278.1" cy="2249.9" r="6.6" fill="#0000FF"/>
<circle cx="1282.3" cy="2232.7" r="6.6" fill="#0000FF"/>
<circle cx="1286.5" cy="2215.4" r="6.6" fill="#0000FF"/>
<circle cx="1290.7" cy="2197.8" r="6.6" fill="#0000FF"/>
<circle cx="1295.0" cy="2180.1" r="6.6" fill="#0000FF"/>
<circle cx="1299.2" cy="2162.2" r="6.6" fill="#0000FF"/>
<circle cx="1303.5" cy="2144.4" r="6.6" fill="#0000FF"/>
<circle cx="1307.8" cy="2126.5" r="6.6" fill="#0000FF"/>
<circle cx="1312.2" cy="2108.7" r="6.6" fill="#0000FF"/>
<circle cx="1316.5" cy="2091.0" r="6.6" fill="#0000FF"/>
<circle cx="1320.9" cy="2073.5" r="6.6" fill="#0000FF"/>
<circle cx="1325.3" cy="2056.1" r="6.6" fill="#0000FF"/>
<circle cx="1329.8" cy="2039.0" r="6.6" fill="#0000FF"/>
<circle cx="1334.2" cy="2022.1" r="6.6" fill="#0000FF"/>
<circle cx="1338.7" cy="2005.5" r="6.6" fill="#0000FF"/>
<circle cx="1343.2" cy="1989.3" r="6.6" fill="#0000FF"/>
<circle cx="1347.7" cy="1973.3" r="6.6" fill="#0000FF"/>
<circle cx="1352.3" cy="1957.7" r="6.6" fill="#0000FF"/>
<circle cx="1356.9" cy="1942.4" r="6.6" fill="#0000FF"/>
<polyline points="193.7,2618.6 195.2,2618.6 196.7,2618.5 198.2,2618.5 199.8,2618.5 201.3,2618.5 202.9,2618.4 204.4,2618.4 206.0,2618.4 207.6,2618.4 209.2,2618.3 210.4,2618.3 211.6,2618.3 212.8,2618.3 214.0,2618.3 215.3,2618.3 216.5,2618.2 217.7,2618.2 219.0,2618.2 220.2,2618.2 221.5,2618.2 222.8,2618.1 224.0,2618.1 225.3,2618.1 226.6,2618.1 227.9,2618.1 229.2,2618.1 230.5,2618.0 231.8,2618.0 233.1,2618.0 234.5,2618.0 235.8,2618.0 237.1,2617.9 238.5,2617.9 239.8,2617.9 241.2,2617.9 242.6,2617.9 244.0,2617.8 245.3,2617.8 246.7,2617.8 248.1,2617.8 249.5,2617.8 251.0,2617.7 252.4,2617.7 253.8,2617.7 255.2,2617.7 256.7,2617.7 258.1,2617.6 259.6,2617.6 261.1,2617.6 262.6,2617.6 264.0,2617.6 265.5,2617.5 267.0,2617.5 268.5,2617.5 270.1,2617.5 271.6,2617.5 273.1,2617.4 274.7,2617.4 276.2,2617.4 277.8,2617.4 279.4,2617.4 281.0,2617.3 282.5,2617.3 284.1,2617.3 285.8,2617.3 287.4,2617.2 289.0,2617.2 290.6,2617.2 292.3,2617.2 293.9,2617.2 295.6,2617.1 297.3,2617.1 299.0,2617.1 300.7,2617.1 302.4,2617.0 304.1,2617.0 305.8,2617.0 307.6,2617.0 309.3,2616.9 311.1,2616.9 312.8,2616.9 314.6,2616.9 316.4,2616.9 317.6,2616.8 318.8,2616.8 320.0,2616.8 321.2,2616.8 322.5,2616.8 323.7,2616.8 324.9,2616.7 326.1,2616.7 327.4,2616.7 328.6,2616.7 329.9,2616.7 331.1,2616.7 332.4,2616.6 333.7,2616.6 334.9,2616.6 336.2,2616.6 337.5,2616.6 338.8,2616.6 340.1,2616.5 341.4,2616.5 342.7,2616.5 344.0,2616.5 345.3,2616.5 346.6,2616.5 348.0,2616.4 349.3,2616.4 350.6,2616.4 352.0,2616.4 353.3,2616.4 354.7,2616.3 356.0,2616.3 357.4,2616.3 358.8,2616.3 360.2,2616.3 361.5,2616.3 362.9,2616.2 364.3,2616.2 365.7,2616.2 367.1,2616.2 368.6,2616.2 370.0,2616.1 371.4,2616.1 372.8,2616.1 374.3,2616.1 375.7,2616.1 377.2,2616.0 378.7,2616.0 380.1,2616.0 381.6,2616.0 383.1,2616.0 384.6,2615.9 386.1,2615.9 387.6,2615.9 389.1,2615.9 390.6,2615.9 392.1,2615.8 393.6,2615.8 395.2,2615.8 396.7,2615.8 398.3,2615.8 399.8,2615.7 401.4,2615.7 403.0,2615.7 404.6,2615.7 406.1,2615.7 407.7,2615.6 409.3,2615.6 410.9,2615.6 412.6,2615.6 414.2,2615.5 415.8,2615.5 417.5,2615.5 419.1,2615.5 420.8,2615.5 422.4,2615.4 424.1,2615.4 425.8,2615.4 427.5,2615.4 429.2,2615.3 430.9,2615.3 432.6,2615.3 434.3,2615.3 436.1,2615.3 437.8,2615.2 439.5,2615.2 441.3,2615.2 443.1,2615.2 444.8,2615.1 446.6,2615.1 448.4,2615.1 450.2,2615.1 452.0,2615.0 453.8,2615.0 455.7,2615.0 457.5,2615.0 459.4,2614.9 461.2,2614.9 463.1,2614.9 465.0,2614.9 466.8,2614.8 468.7,2614.8 470.6,2614.8 472.6,2614.7 474.5,2614.7 476.4,2614.7 478.4,2614.7 480.3,2614.6 482.3,2614.6 484.2,2614.6 486.2,2614.6 488.2,2614.5 490.2,2614.5 492.2,2614.5 494.3,2614.4 496.3,2614.4 498.4,2614.4 500.4,2614.3 502.5,2614.3 504.6,2614.3 506.7,2614.3 508.8,2614.2 510.9,2614.2 513.0,2614.2 515.2,2614.1 517.3,2614.1 519.5,2614.1 521.6,2614.0 523.8,2614.0 526.0,2614.0 528.2,2613.9 530.5,2613.9 532.7,2613.9 534.9,2613.8 537.2,2613.8 539.5,2613.8 541.8,2613.7 544.1,2613.7 546.4,2613.7 548.7,2613.6 551.0,2613.6 553.4,2613.5 555.8,2613.5 558.1,2613.5 560.5,2613.4 561.7,2613.4 562.9,2613.4 564.2,2613.4 565.4,2613.4 566.6,2613.3 567.8,2613.3 569.0,2613.3 570.2,2613.3 571.5,2613.3 572.7,2613.2 574.0,2613.2 575.2,2613.2 576.4,2613.2 577.7,2613.2 578.9,2613.1 580.2,2613.1 581.5,2613.1 582.7,2613.1 584.0,2613.0 585.3,2613.0 586.5,2613.0 587.8,2613.0 589.1,2613.0 590.4,2612.9 591.7,2612.9 593.0,2612.9 594.3,2612.9 595.6,2612.9 596.9,2612.8 598.2,2612.8 599.5,2612.8 600.8,2612.8 602.1,2612.7 603.4,2612.7 604.8,2612.7 606.1,2612.7 607.4,2612.7 608.8,2612.6 610.1,2612.6 611.5,2612.6 612.8,2612.6 614.2,2612.5 615.5,2612.5 616.9,2612.5 618.3,2612.5 619.7,2612.4 621.0,2612.4 622.4,2612.4 623.8,2612.4 625.2,2612.3 626.6,2612.3 628.0,2612.3 629.4,2612.3 630.8,2612.2 632.2,2612.2 633.6,2612.2 635.1,2612.2 636.5,2612.1 637.9,2612.1 639.4,2612.1 640.8,2612.1 642.2,2612.0 643.7,2612.0 645.2,2612.0 646.6,2612.0 648.1,2611.9 649.5,2611.9 651.0,2611.9 652.5,2611.8 654.0,2611.8 655.5,2611.8 657.0,2611.8 658.5,2611.7 660.0,2611.7 661.5,2611.7 663.0,2611.6 664.5,2611.6 666.0,2611.6 667.5,2611.6 669.1,2611.5 670.6,2611.5 672.1,2611.5 673.7,2611.4 675.2,2611.4 676.8,2611.4 678.4,2611.3 679.9,2611.3 681.5,2611.3 683.1,2611.2 684.7,2611.2 686.2,2611.2 687.8,2611.2 689.4,2611.1 691.0,2611.1 692.6,2611.1 694.3,2611.0 695.9,2611.0 697.5,2611.0 699.1,2610.9 700.8,2610.9 702.4,2610.9 704.1,2610.8 705.7,2610.8 707.4,2610.7 709.0,2610.7 710.7,2610.7 712.4,2610.6 714.1,2610.6 715.7,2610.6 717.4,2610.5 719.1,2610.5 720.8,2610.5 722.6,2610.4 724.3,2610.4 726.0,2610.3 727.7,2610.3 729.5,2610.3 731.2,2610.2 732.9,2610.2 734.7,2610.2 736.5,2610.1 738.2,2610.1 740.0,2610.0 741.8,2610.0 743.5,2610.0 745.3,2609.9 747.1,2609.9 748.9,2609.8 750.7,2609.8 752.6,2609.7 754.4,2609.7 756.2,2609.7 758.0,2609.6 759.9,2609.6 761.7,2609.5 763.6,2609.5 765.4,2609.4 767.3,2609.4 769.2,2609.4 771.1,2609.3 773.0,2609.3 774.8,2609.2 776.8,2609.2 778.7,2609.1 780.6,2609.1 782.5,2609.0 784.4,2609.0 786.4,2608.9 788.3,2608.9 790.3,2608.8 792.2,2608.8 794.2,2608.7 796.2,2608.7 798.1,2608.6 800.1,2608.6 802.1,2608.5 804.1,2608.5 806.1,2608.4 808.1,2608.4 810.2,2608.3 812.2,2608.3 814.2,2608.2 816.3,2608.2 818.3,2608.1 820.4,2608.1 822.5,2608.0 824.6,2607.9 826.6,2607.9 828.7,2607.8 830.8,2607.8 833.0,2607.7 835.1,2607.7 837.2,2607.6 839.3,2607.5 841.5,2607.5 843.6,2607.4 845.8,2607.3 848.0,2607.3 850.1,2607.2 852.3,2607.2 854.5,2607.1 856.7,2607.0 858.9,2607.0 861.2,2606.9 863.4,2606.8 865.6,2606.8 867.9,2606.7 870.1,2606.6 872.4,2606.6 874.7,2606.5 876.9,2606.4 879.2,2606.4 881.5,2606.3 883.8,2606.2 886.2,2606.1 888.5,2606.1 890.8,2606.0 893.2,2605.9 895.5,2605.9 897.9,2605.8 900.3,2605.7 902.7,2605.6 905.1,2605.5 907.5,2605.5 909.9,2605.4 912.3,2605.3 914.7,2605.2 917.2,2605.2 919.6,2605.1 922.1,2605.0 924.6,2604.9 927.1,2604.8 929.6,2604.7 932.1,2604.7 934.6,2604.6 937.1,2604.5 939.6,2604.4 942.2,2604.3 944.8,2604.2 947.3,2604.1 949.9,2604.1 952.5,2604.0 955.1,2603.9 957.7,2603.8 960.3,2603.7 963.0,2603.6 965.6,2603.5 968.3,2603.4 971.0,2603.3 973.6,2603.2 976.3,2603.2 979.0,2603.1 981.8,2603.0 984.5,2602.9 987.2,2602.8 990.0,2602.7 992.7,2602.6 995.5,2602.5 998.3,2602.4 1001.1,2602.3 1003.9,2602.2 1006.8,2602.1 1009.6,2602.0 1012.4,2601.9 1015.3,2601.8 1018.2,2601.7 1021.1,2601.6 1024.0,2601.5 1026.9,2601.4 1029.8,2601.3 1032.8,2601.2 1035.7,2601.1 1038.7,2601.0 1041.7,2600.9 1044.7,2600.8 1047.7,2600.8 1050.7,2600.7 1053.8,2600.6 1056.8,2600.5 1059.9,2600.4 1063.0,2600.3 1066.0,2600.2 1069.2,2600.1 1072.3,2600.0 1075.4,2599.9 1078.6,2599.8 1081.7,2599.7 1084.9,2599.6 1088.1,2599.5 1091.3,2599.4 1094.6,2599.3 1097.8,2599.1 1101.1,2599.0 1104.3,2598.9 1107.6,2598.7 1110.9,2598.5 1114.3,2598.3 1117.6,2598.1 1121.0,2597.9 1124.3,2597.6 1127.7,2597.3 1131.1,2597.0 1134.5,2596.6 1138.0,2596.2 1141.4,2595.7 1144.9,2595.2 1148.4,2594.6 1151.9,2594.0 1155.4,2593.3 1159.0,2592.6 1162.5,2591.7 1166.1,2590.7 1169.7,2589.3 1173.3,2587.5 1176.9,2585.1 1180.6,2582.1 1184.2,2578.6 1187.9,2574.3 1191.6,2569.4 1195.3,2563.5 1199.1,2556.6 1202.8,2548.5 1206.6,2539.0 1210.4,2527.6" fill="none" stroke="#000000" stroke-width="13.2" stroke-linecap="round" stroke-linejoin="round"/>
<circle cx="1214.2" cy="2513.7" r="6.6" fill="#000000"/>
<circle cx="1218.1" cy="2497.2" r="6.6" fill="#000000"/>
<circle cx="1221.9" cy="2479.0" r="6.6" fill="#000000"/>
<circle cx="1225.8" cy="2461.4" r="6.6" fill="#000000"/>
<circle cx="1229.7" cy="2445.0" r="6.6" fill="#000000"/>
<circle cx="1233.6" cy="2429.5" r="6.6" fill="#000000"/>
<circle cx="1237.6" cy="2414.6" r="6.6" fill="#000000"/>
<circle cx="1241.5" cy="2400.1" r="6.6" fill="#000000"/>
<circle cx="1245.5" cy="2385.8" r="6.6" fill="#000000"/>
<circle cx="1249.5" cy="2371.7" r="6.6" fill="#000000"/>
<circle cx="1253.5" cy="2357.7" r="6.6" fill="#000000"/>
<circle cx="1257.6" cy="2343.6" r="6.6" fill="#000000"/>
<circle cx="1261.6" cy="2329.3" r="6.6" fill="#000000"/>
<circle cx="1265.7" cy="2314.8" r="6.6" fill="#000000"/>
<circle cx="1269.8" cy="2300.1" r="6.6" fill="#000000"/>
<circle cx="1274.0" cy="2285.2" r="6.6" fill="#000000"/>
<circle cx="1278.1" cy="2270.2" r="6.6" fill="#000000"/>
<circle cx="1282.3" cy="2255.0" r="6.6" fill="#000000"/>
<circle cx="1286.5" cy="2239.6" r="6.6" fill="#000000"/>
<circle cx="1290.7" cy="2224.1" r="6.6" fill="#000000"/>
<circle cx="1295.0" cy="2208.5" r="6.6" fill="#000000"/>
<circle cx="1299.2" cy="2192.9" r="6.6" fill="#000000"/>
<circle cx="1303.5" cy="2177.2" r="6.6" fill="#000000"/>
<circle cx="1307.8" cy="2161.4" r="6.6" fill="#000000"/>
<circle cx="1312.2" cy="2145.7" r="6.6" fill="#000000"/>
<circle cx="1316.5" cy="2129.9" r="6.6" fill="#000000"/>
<circle cx="1320.9" cy="2114.2" r="6.6" fill="#000000"/>
<circle cx="1325.3" cy="2098.6" r="6.6" fill="#000000"/>
<circle cx="1329.8" cy="2083.0" r="6.6" fill="#000000"/>
<circle cx="1334.2" cy="2067.5" r="6.6" fill="#000000"/>
<circle cx="1338.7" cy="2052.2" r="6.6" fill="#000000"/>
<circle cx="1343.2" cy="2037.0" r="6.6" fill="#000000"/>
<circle cx="1347.7" cy="2021.9" r="6.6" fill="#000000"/>
<circle cx="1352.3" cy="2007.0" r="6.6" fill="#000000"/>
<circle cx="1356.9" cy="1993.7" r="6.6" fill="#000000"/>
<text transform="translate(657.9,1259.4) scale(1,1.03)" font-size="62" text-anchor="middle">2</text>
<text transform="translate(1123.1,1259.4) scale(1,1.03)" font-size="62" text-anchor="middle">3</text>
<path transform="translate(177.90,1259.60) scale(0.03027,-0.03027)" d="M583 0L763 0L763 1472L646 1472Q599 1378 487 1277Q375 1176 223 1104L223 930Q307 961 413 1023Q518 1085 583 1147Z" fill="#000"/>
<text transform="translate(372.7,1391.0) scale(1,1)" font-size="79.3">Photon</text>
<text transform="translate(647.5,1391.0) scale(1,1)" font-size="79.3">Energy</text>
<text transform="translate(917.6,1391.0) scale(1,1)" font-size="79.3" class="it">h</text>
<text transform="translate(975.0,1391.0) scale(1,1)" font-size="79.3" class="it">ν</text>
<text transform="translate(1025.0,1391.0) scale(1,1)" font-size="79.3">(eV)</text>
<text transform="translate(657.9,2759.7) scale(1,1.03)" font-size="62" text-anchor="middle">2</text>
<text transform="translate(1123.1,2759.7) scale(1,1.03)" font-size="62" text-anchor="middle">3</text>
<path transform="translate(177.90,2759.90) scale(0.03027,-0.03027)" d="M583 0L763 0L763 1472L646 1472Q599 1378 487 1277Q375 1176 223 1104L223 930Q307 961 413 1023Q518 1085 583 1147Z" fill="#000"/>
<text transform="translate(372.7,2891.3) scale(1,1)" font-size="79.3">Photon</text>
<text transform="translate(647.5,2891.3) scale(1,1)" font-size="79.3">Energy</text>
<text transform="translate(917.6,2891.3) scale(1,1)" font-size="79.3" class="it">h</text>
<text transform="translate(975.0,2891.3) scale(1,1)" font-size="79.3" class="it">ν</text>
<text transform="translate(1025.0,2891.3) scale(1,1)" font-size="79.3">(eV)</text>
<text transform="translate(122.5,1050) rotate(-90) scale(1.027,1)" font-size="77">Absorbance A (arb. units)</text>
<text transform="translate(122.5,2416.0) rotate(-90) scale(1.0,1)" font-size="77">(A</text>
<text transform="translate(122.5,2334.0) rotate(-90) scale(1.0,1)" font-size="77" class="it">h</text>
<text transform="translate(122.5,2282.0) rotate(-90) scale(1.0,1)" font-size="77" class="it">ν</text>
<text transform="translate(122.5,2250.0) rotate(-90) scale(1.0,1)" font-size="77">)</text>
<text transform="translate(87.5,2225.0) rotate(-90) scale(1.0,1)" font-size="52">2</text>
<text transform="translate(122.5,2176.0) rotate(-90) scale(1.027,1)" font-size="77"> (arb. units)</text>
<line x1="1196.8" y1="1669" x2="1196.8" y2="2667" stroke="#D02828" stroke-width="4.2" stroke-dasharray="23.5 12.9"/>
<line x1="190" y1="2310.3" x2="602" y2="2263.3" stroke="#D42020" stroke-width="2.4"/>
<line x1="373" y1="2290" x2="938.3" y2="1916" stroke="#D42020" stroke-width="2.4"/>
<line x1="390" y1="2191.5" x2="390" y2="2244.5" stroke="#D02828" stroke-width="4.6"/>
<line x1="1011" y1="1847" x2="1260" y2="1752" stroke="#D42020" stroke-width="2.4"/>
<line x1="1166.9" y1="1818.8" x2="1340" y2="1562" stroke="#D42020" stroke-width="2.4"/>
<line x1="364.3" y1="2385.8" x2="650.7" y2="2385.8" stroke="#D42020" stroke-width="2.4"/>
<line x1="609.9" y1="2398.2" x2="1000.1" y2="2086.9" stroke="#D42020" stroke-width="2.4"/>
<line x1="623" y1="2311.6" x2="623" y2="2364.8" stroke="#B02020" stroke-width="4.6"/>
<line x1="979.7" y1="2069" x2="1218" y2="2010.2" stroke="#D42020" stroke-width="2.4"/>
<line x1="1183.5" y1="2034.4" x2="1357.3" y2="1724.9" stroke="#D42020" stroke-width="2.4"/>
<line x1="368" y1="2445.3" x2="656.8" y2="2445.3" stroke="#D42020" stroke-width="2.4"/>
<line x1="635.8" y1="2466.2" x2="1085" y2="2077" stroke="#D42020" stroke-width="2.0"/>
<line x1="656" y1="2383.4" x2="656" y2="2436.5" stroke="#B02020" stroke-width="4.6"/>
<line x1="1006" y1="2131" x2="1240" y2="2057" stroke="#D42020" stroke-width="2.4"/>
<line x1="1181" y1="2108" x2="1346" y2="1830" stroke="#D42020" stroke-width="2.0"/>
<line x1="417.4" y1="2500.8" x2="703.8" y2="2500.8" stroke="#D42020" stroke-width="2.4"/>
<line x1="674.2" y1="2518.9" x2="1066.9" y2="2210.6" stroke="#D42020" stroke-width="2.4"/>
<line x1="697.7" y1="2432.8" x2="697.7" y2="2486" stroke="#D02828" stroke-width="4.6"/>
<line x1="986.5" y1="2241.5" x2="1229.5" y2="2193.9" stroke="#D42020" stroke-width="2.4"/>
<line x1="1190" y1="2204" x2="1347" y2="1864.5" stroke="#D42020" stroke-width="2.4"/>
<line x1="968" y1="2544.5" x2="1238.4" y2="2541.8" stroke="#B02040" stroke-width="2.4"/>
<line x1="960.6" y1="2606" x2="1252.5" y2="2602.4" stroke="#D42020" stroke-width="2.4"/>
<line x1="1197" y1="2612" x2="1303" y2="2115" stroke="#D42020" stroke-width="3"/>
<line x1="1193" y1="2590" x2="1298" y2="2112" stroke="#D42020" stroke-width="2"/>
<circle cx="302.3" cy="1670.8" r="5.9" fill="#000000"/>
<text x="373.50" y="1687.8" font-size="52.2">Sn</text>
<path transform="translate(437.35,1687.80) scale(0.02549,-0.02549)" d="M583 0L763 0L763 1472L646 1472Q599 1378 487 1277Q375 1176 223 1104L223 930Q307 961 413 1023Q518 1085 583 1147Z" fill="#000"/>
<text x="466.38" y="1687.8" font-size="52.2">00S600</text>
<rect x="296.6" y="1729.5" width="11.4" height="11.2" fill="#808000"/>
<text x="373.50" y="1752.2" font-size="52.2">Sn020S</text>
<path transform="translate(559.26,1752.20) scale(0.02549,-0.02549)" d="M583 0L763 0L763 1472L646 1472Q599 1378 487 1277Q375 1176 223 1104L223 930Q307 961 413 1023Q518 1085 583 1147Z" fill="#000"/>
<text x="588.29" y="1752.2" font-size="52.2">20</text>
<circle cx="302.3" cy="1799.5" r="5.9" fill="#22DDDD"/>
<text x="373.50" y="1816.6" font-size="52.2">Sn0</text>
<path transform="translate(466.38,1816.60) scale(0.02549,-0.02549)" d="M583 0L763 0L763 1472L646 1472Q599 1378 487 1277Q375 1176 223 1104L223 930Q307 961 413 1023Q518 1085 583 1147Z" fill="#000"/>
<text x="495.41" y="1816.6" font-size="52.2">0S060</text>
<rect x="296.6" y="1858.2" width="11.4" height="11.2" fill="#22CC22"/>
<text x="373.50" y="1881.0" font-size="52.2">Sn005S030</text>
<circle cx="302.3" cy="1928.2" r="5.9" fill="#1010DD"/>
<text x="373.50" y="1945.4" font-size="52.2">Sn00</text>
<path transform="translate(495.41,1945.40) scale(0.02549,-0.02549)" d="M583 0L763 0L763 1472L646 1472Q599 1378 487 1277Q375 1176 223 1104L223 930Q307 961 413 1023Q518 1085 583 1147Z" fill="#000"/>
<text x="524.44" y="1945.4" font-size="52.2">S006</text>
<circle cx="302.3" cy="1992.5" r="5.9" fill="#000000"/>
<text x="373.50" y="2009.8" font-size="52.2">Sn000S000</text>
<text x="307" y="2142.3" font-size="60" letter-spacing="1">SnS<tspan font-size="37" dx="3" dy="15">x</tspan></text>
<text x="1127" y="1641" font-size="61" letter-spacing="1.8">TiO<tspan font-size="40.5" dx="1" dy="16">2</tspan></text>
</svg>
</body></html>
